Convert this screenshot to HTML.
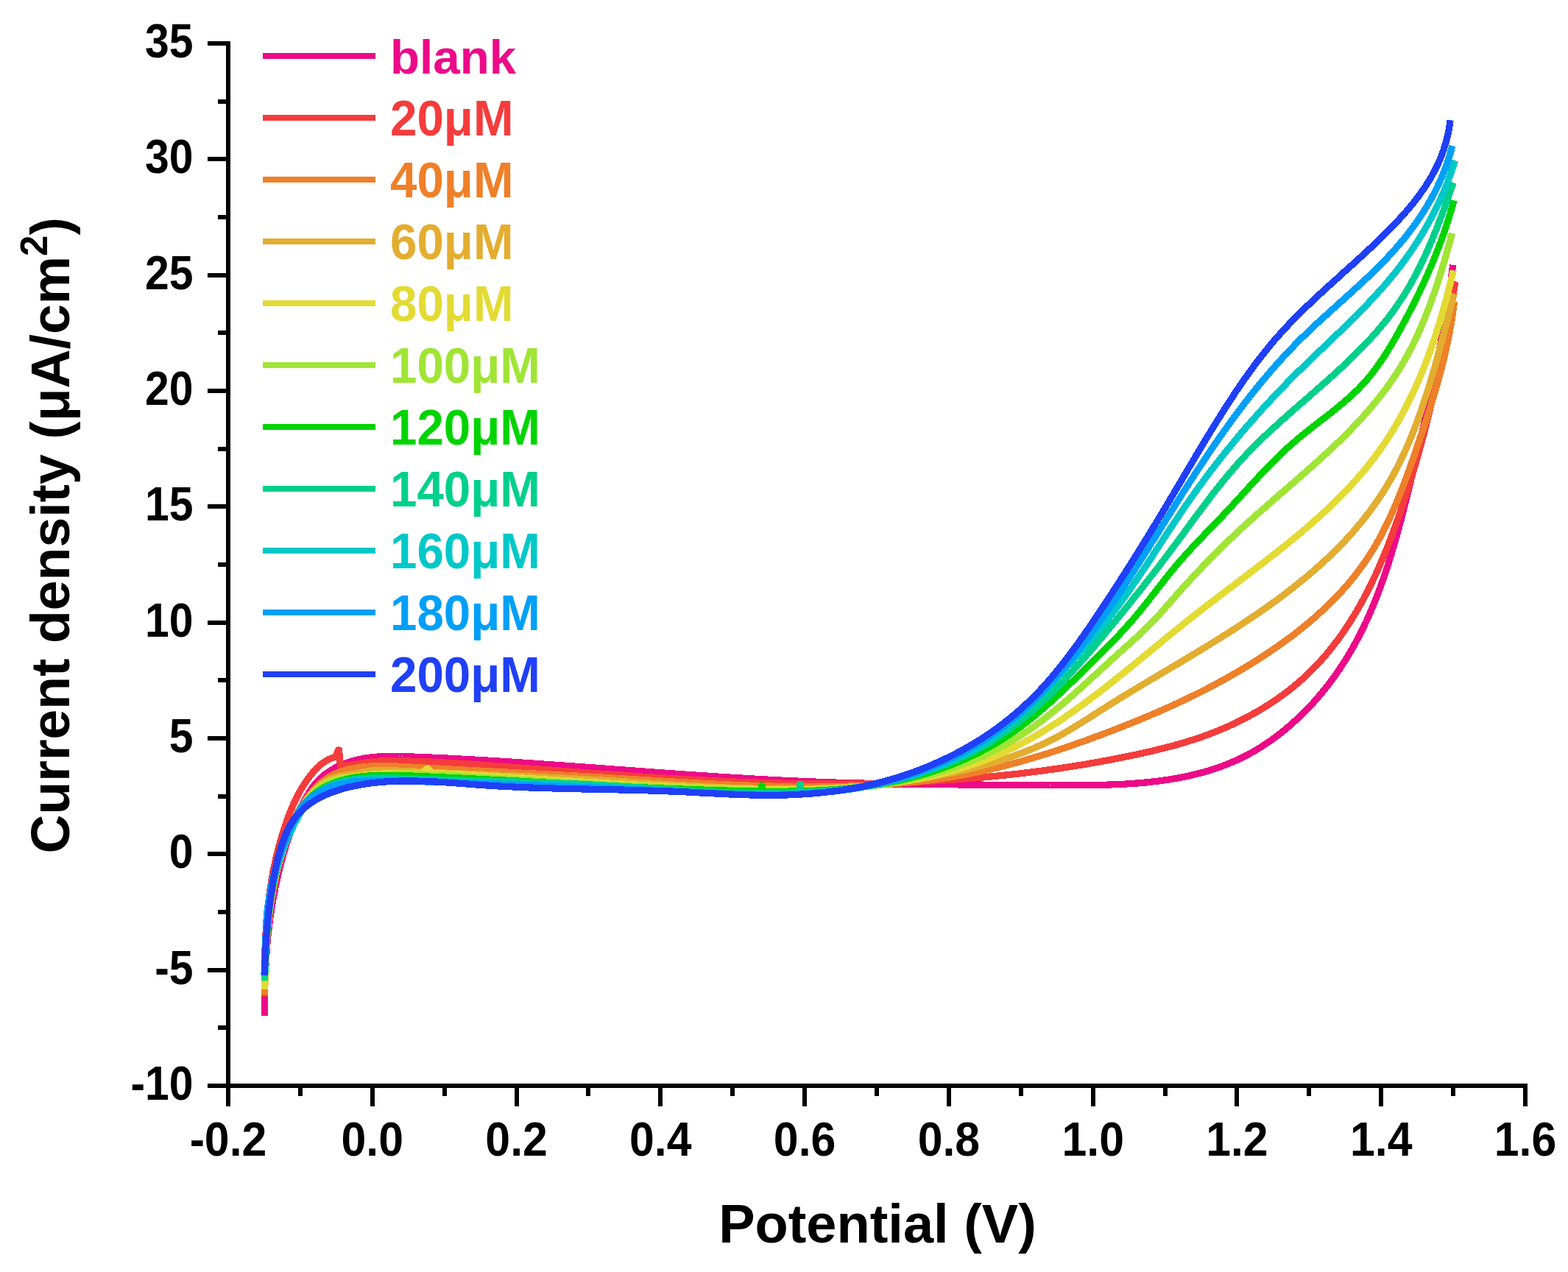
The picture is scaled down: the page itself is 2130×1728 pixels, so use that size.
<!DOCTYPE html><html><head><meta charset="utf-8"><style>html,body{margin:0;padding:0;background:#fff;}svg{display:block}</style></head><body>
<svg xmlns="http://www.w3.org/2000/svg" width="2130" height="1728" viewBox="0 0 2130 1728">
<rect width="2130" height="1728" fill="#fff"/>
<g fill="none" stroke-width="9.2" stroke-linejoin="round" stroke-linecap="butt" shape-rendering="crispEdges">
<path stroke="#EC0A88" d="M359.7,1380.1 L359.7,1378.1 L359.7,1376.1 L359.6,1374.1 L359.6,1372.0 L359.6,1370.0 L359.6,1368.0 L359.6,1366.0 L359.6,1364.0 L359.6,1362.0 L359.6,1359.9 L359.6,1357.9 L359.6,1355.9 L359.6,1353.9 L359.6,1351.9 L359.6,1349.9 L359.7,1347.9 L359.7,1345.9 L359.7,1343.8 L359.8,1341.8 L359.8,1339.8 L359.9,1337.8 L359.9,1335.8 L360.0,1333.8 L360.0,1331.8 L360.1,1329.8 L360.2,1327.8 L360.2,1325.8 L360.3,1323.8 L360.4,1321.8 L360.5,1319.8 L360.6,1317.8 L360.7,1315.8 L360.8,1313.8 L360.9,1311.8 L361.0,1309.8 L361.1,1307.8 L361.2,1305.8 L361.3,1303.8 L361.4,1301.8 L361.6,1299.8 L361.7,1297.8 L361.9,1295.8 L362.0,1293.8 L362.2,1291.8 L362.3,1289.8 L362.5,1287.8 L362.6,1285.8 L362.8,1283.8 L363.0,1281.9 L363.2,1279.9 L363.3,1277.9 L363.5,1275.9 L363.7,1273.9 L363.9,1271.9 L364.1,1269.9 L364.4,1268.0 L364.6,1266.0 L364.8,1264.0 L365.0,1262.0 L365.3,1260.0 L365.5,1258.1 L365.7,1256.1 L366.0,1254.1 L366.2,1252.1 L366.5,1250.1 L366.8,1248.2 L367.0,1246.2 L367.3,1244.2 L367.6,1242.2 L367.9,1240.3 L368.2,1238.3 L368.5,1236.3 L368.8,1234.4 L369.1,1232.4 L369.4,1230.4 L369.8,1228.5 L370.1,1226.5 L370.4,1224.5 L370.8,1222.6 L371.1,1220.6 L371.5,1218.6 L371.8,1216.7 L372.2,1214.7 L372.6,1212.7 L373.0,1210.8 L373.3,1208.8 L373.7,1206.9 L374.1,1204.9 L374.5,1202.9 L374.9,1201.0 L375.4,1199.0 L375.8,1197.1 L376.2,1195.1 L376.7,1193.2 L377.1,1191.2 L377.5,1189.3 L378.0,1187.3 L378.5,1185.4 L378.9,1183.4 L379.4,1181.5 L379.9,1179.5 L380.4,1177.6 L380.9,1175.6 L381.4,1173.7 L381.9,1171.8 L382.4,1169.8 L382.9,1167.9 L383.5,1165.9 L384.0,1164.0 L384.6,1162.1 L385.1,1160.1 L385.7,1158.2 L386.2,1156.3 L386.8,1154.3 L387.4,1152.4 L388.0,1150.5 L388.6,1148.5 L389.2,1146.6 L389.8,1144.7 L390.4,1142.8 L391.1,1140.8 L391.7,1138.9 L392.3,1137.0 L393.0,1135.1 L393.7,1133.2 L394.3,1131.3 L395.0,1129.4 L395.7,1127.5 L396.4,1125.6 L397.1,1123.7 L397.9,1121.9 L398.6,1120.0 L399.3,1118.1 L400.1,1116.2 L400.8,1114.4 L401.6,1112.5 L402.4,1110.7 L403.2,1108.9 L404.0,1107.0 L404.8,1105.2 L405.7,1103.4 L406.5,1101.6 L407.3,1099.8 L408.2,1098.0 L409.1,1096.2 L410.0,1094.4 L410.9,1092.6 L411.8,1090.8 L412.7,1089.1 L413.6,1087.3 L414.6,1085.6 L415.5,1083.9 L416.5,1082.2 L417.5,1080.5 L418.5,1078.8 L419.6,1077.1 L420.6,1075.4 L421.7,1073.8 L422.8,1072.2 L423.9,1070.6 L425.1,1069.0 L426.2,1067.4 L427.4,1065.9 L428.7,1064.4 L429.9,1062.9 L431.2,1061.5 L432.6,1060.0 L433.9,1058.6 L435.3,1057.3 L436.8,1055.9 L438.2,1054.6 L439.7,1053.4 L441.3,1052.1 L442.9,1050.9 L444.5,1049.8 L446.1,1048.6 L447.8,1047.5 L449.5,1046.5 L451.3,1045.4 L453.0,1044.4 L454.8,1043.5 L456.6,1042.5 L458.4,1041.6 L460.3,1040.7 L462.1,1039.9 L464.0,1039.1 L465.9,1038.3 L467.8,1037.6 L469.7,1036.8 L471.6,1036.2 L473.6,1035.5 L475.5,1034.9 L477.4,1034.3 L479.4,1033.7 L481.3,1033.2 L483.3,1032.7 L485.2,1032.2 L487.2,1031.8 L489.1,1031.3 L491.1,1030.9 L493.0,1030.6 L495.0,1030.2 L497.0,1029.9 L498.9,1029.6 L500.9,1029.3 L502.8,1029.1 L504.8,1028.8 L506.8,1028.6 L508.8,1028.4 L510.7,1028.3 L512.7,1028.1 L514.7,1028.0 L516.7,1027.8 L518.6,1027.7 L520.6,1027.6 L522.6,1027.6 L524.6,1027.5 L526.6,1027.5 L528.6,1027.4 L530.5,1027.4 L532.5,1027.4 L534.5,1027.4 L536.5,1027.4 L538.5,1027.4 L540.5,1027.4 L542.5,1027.5 L544.5,1027.5 L546.5,1027.6 L548.5,1027.6 L550.4,1027.7 L552.4,1027.8 L554.4,1027.8 L556.4,1027.9 L558.4,1028.0 L560.4,1028.0 L562.4,1028.1 L564.4,1028.2 L566.4,1028.3 L568.4,1028.4 L570.4,1028.4 L572.4,1028.5 L574.4,1028.6 L576.4,1028.7 L578.4,1028.8 L580.4,1028.8 L582.4,1028.9 L584.4,1029.0 L586.4,1029.1 L588.4,1029.2 L590.4,1029.3 L592.4,1029.4 L594.3,1029.5 L596.3,1029.6 L598.3,1029.7 L600.3,1029.8 L602.3,1029.8 L604.3,1029.9 L606.3,1030.0 L608.3,1030.1 L610.3,1030.2 L612.3,1030.3 L614.3,1030.4 L616.3,1030.5 L618.3,1030.6 L620.3,1030.7 L622.3,1030.9 L624.3,1031.0 L626.3,1031.1 L628.3,1031.2 L630.3,1031.3 L632.3,1031.4 L634.3,1031.5 L636.3,1031.6 L638.3,1031.7 L640.3,1031.8 L642.3,1031.9 L644.3,1032.1 L646.3,1032.2 L648.3,1032.3 L650.3,1032.4 L652.3,1032.5 L654.3,1032.6 L656.3,1032.7 L658.3,1032.9 L660.3,1033.0 L662.3,1033.1 L664.3,1033.2 L666.3,1033.3 L668.3,1033.5 L670.3,1033.6 L672.3,1033.7 L674.3,1033.8 L676.3,1034.0 L678.3,1034.1 L680.3,1034.2 L682.3,1034.3 L684.3,1034.5 L686.3,1034.6 L688.3,1034.7 L690.3,1034.8 L692.3,1035.0 L694.3,1035.1 L696.3,1035.2 L698.3,1035.4 L700.3,1035.5 L702.3,1035.6 L704.3,1035.8 L706.3,1035.9 L708.3,1036.0 L710.3,1036.2 L712.3,1036.3 L714.3,1036.4 L716.3,1036.6 L718.3,1036.7 L720.3,1036.8 L722.3,1037.0 L724.3,1037.1 L726.3,1037.2 L728.3,1037.4 L730.3,1037.5 L732.3,1037.7 L734.3,1037.8 L736.3,1037.9 L738.3,1038.1 L740.3,1038.2 L742.3,1038.4 L744.3,1038.5 L746.3,1038.6 L748.3,1038.8 L750.3,1038.9 L752.3,1039.1 L754.3,1039.2 L756.3,1039.3 L758.3,1039.5 L760.3,1039.6 L762.3,1039.8 L764.3,1039.9 L766.3,1040.1 L768.3,1040.2 L770.3,1040.3 L772.3,1040.5 L774.3,1040.6 L776.3,1040.8 L778.3,1040.9 L780.3,1041.1 L782.3,1041.2 L784.3,1041.4 L786.3,1041.5 L788.3,1041.7 L790.4,1041.8 L792.4,1042.0 L794.4,1042.1 L796.4,1042.2 L798.4,1042.4 L800.4,1042.5 L802.4,1042.7 L804.4,1042.8 L806.4,1043.0 L808.4,1043.1 L810.4,1043.3 L812.4,1043.4 L814.4,1043.6 L816.4,1043.7 L818.4,1043.9 L820.4,1044.0 L822.4,1044.2 L824.4,1044.3 L826.4,1044.5 L828.4,1044.6 L830.4,1044.8 L832.4,1044.9 L834.4,1045.1 L836.4,1045.2 L838.4,1045.4 L840.4,1045.5 L842.4,1045.7 L844.4,1045.8 L846.4,1046.0 L848.4,1046.1 L850.4,1046.3 L852.4,1046.4 L854.4,1046.6 L856.4,1046.7 L858.4,1046.8 L860.4,1047.0 L862.4,1047.1 L864.4,1047.3 L866.4,1047.4 L868.4,1047.6 L870.4,1047.7 L872.4,1047.9 L874.4,1048.0 L876.4,1048.2 L878.4,1048.3 L880.4,1048.5 L882.4,1048.6 L884.4,1048.8 L886.4,1048.9 L888.4,1049.1 L890.4,1049.2 L892.4,1049.3 L894.4,1049.5 L896.4,1049.6 L898.4,1049.8 L900.4,1049.9 L902.4,1050.1 L904.4,1050.2 L906.4,1050.4 L908.4,1050.5 L910.4,1050.6 L912.4,1050.8 L914.4,1050.9 L916.4,1051.1 L918.4,1051.2 L920.4,1051.4 L922.4,1051.5 L924.4,1051.6 L926.4,1051.8 L928.4,1051.9 L930.4,1052.1 L932.4,1052.2 L934.4,1052.3 L936.4,1052.5 L938.4,1052.6 L940.4,1052.8 L942.4,1052.9 L944.4,1053.0 L946.4,1053.2 L948.4,1053.3 L950.4,1053.4 L952.4,1053.6 L954.4,1053.7 L956.4,1053.8 L958.4,1054.0 L960.4,1054.1 L962.4,1054.2 L964.4,1054.4 L966.4,1054.5 L968.4,1054.6 L970.4,1054.8 L972.4,1054.9 L974.4,1055.0 L976.4,1055.2 L978.4,1055.3 L980.4,1055.4 L982.4,1055.5 L984.4,1055.7 L986.4,1055.8 L988.4,1055.9 L990.4,1056.0 L992.4,1056.2 L994.4,1056.3 L996.4,1056.4 L998.4,1056.5 L1000.4,1056.7 L1002.4,1056.8 L1004.3,1056.9 L1006.3,1057.0 L1008.3,1057.1 L1010.3,1057.3 L1012.3,1057.4 L1014.3,1057.5 L1016.3,1057.6 L1018.3,1057.7 L1020.3,1057.8 L1022.3,1058.0 L1024.3,1058.1 L1026.3,1058.2 L1028.3,1058.3 L1030.3,1058.4 L1032.3,1058.5 L1034.3,1058.6 L1036.3,1058.7 L1038.3,1058.9 L1040.3,1059.0 L1042.3,1059.1 L1044.3,1059.2 L1046.2,1059.3 L1048.2,1059.4 L1050.2,1059.5 L1052.2,1059.6 L1054.2,1059.7 L1056.2,1059.8 L1058.2,1059.9 L1060.2,1060.0 L1062.2,1060.1 L1064.2,1060.2 L1066.2,1060.3 L1068.2,1060.4 L1070.2,1060.5 L1072.2,1060.6 L1074.2,1060.7 L1076.1,1060.8 L1078.1,1060.8 L1080.1,1060.9 L1082.1,1061.0 L1084.1,1061.1 L1086.1,1061.2 L1088.1,1061.3 L1090.1,1061.4 L1092.1,1061.5 L1094.1,1061.5 L1096.1,1061.6 L1098.1,1061.7 L1100.0,1061.8 L1102.0,1061.9 L1104.0,1061.9 L1106.0,1062.0 L1108.0,1062.1 L1110.0,1062.2 L1112.0,1062.2 L1114.0,1062.3 L1116.0,1062.4 L1118.0,1062.5 L1119.9,1062.5 L1121.9,1062.6 L1123.9,1062.7 L1125.9,1062.7 L1127.9,1062.8 L1129.9,1062.9 L1131.9,1062.9 L1133.9,1063.0 L1135.9,1063.1 L1137.8,1063.1 L1139.8,1063.2 L1141.8,1063.2 L1143.8,1063.3 L1145.8,1063.4 L1147.8,1063.4 L1149.8,1063.5 L1151.8,1063.5 L1153.7,1063.6 L1155.7,1063.6 L1157.7,1063.7 L1159.7,1063.7 L1161.7,1063.8 L1163.7,1063.8 L1165.7,1063.9 L1167.7,1063.9 L1169.7,1064.0 L1171.6,1064.0 L1173.6,1064.1 L1175.6,1064.1 L1177.6,1064.2 L1179.6,1064.2 L1181.6,1064.3 L1183.6,1064.3 L1185.6,1064.3 L1187.6,1064.4 L1189.5,1064.4 L1191.5,1064.5 L1193.5,1064.5 L1195.5,1064.5 L1197.5,1064.6 L1199.5,1064.6 L1201.5,1064.7 L1203.5,1064.7 L1205.5,1064.7 L1207.5,1064.8 L1209.4,1064.8 L1211.4,1064.8 L1213.4,1064.9 L1215.4,1064.9 L1217.4,1064.9 L1219.4,1065.0 L1221.4,1065.0 L1223.4,1065.0 L1225.4,1065.1 L1227.4,1065.1 L1229.4,1065.1 L1231.4,1065.1 L1233.3,1065.2 L1235.3,1065.2 L1237.3,1065.2 L1239.3,1065.3 L1241.3,1065.3 L1243.3,1065.3 L1245.3,1065.3 L1247.3,1065.4 L1249.3,1065.4 L1251.3,1065.4 L1253.3,1065.4 L1255.3,1065.4 L1257.3,1065.5 L1259.3,1065.5 L1261.3,1065.5 L1263.3,1065.5 L1265.3,1065.5 L1267.3,1065.6 L1269.3,1065.6 L1271.3,1065.6 L1273.3,1065.6 L1275.3,1065.6 L1277.3,1065.7 L1279.3,1065.7 L1281.3,1065.7 L1283.3,1065.7 L1285.3,1065.7 L1287.3,1065.7 L1289.3,1065.8 L1291.3,1065.8 L1293.3,1065.8 L1295.3,1065.8 L1297.3,1065.8 L1299.3,1065.8 L1301.3,1065.9 L1303.3,1065.9 L1305.3,1065.9 L1307.3,1065.9 L1309.3,1065.9 L1311.3,1065.9 L1313.3,1065.9 L1315.3,1065.9 L1317.3,1066.0 L1319.3,1066.0 L1321.3,1066.0 L1323.3,1066.0 L1325.3,1066.0 L1327.3,1066.0 L1329.4,1066.0 L1331.4,1066.0 L1333.4,1066.1 L1335.4,1066.1 L1337.4,1066.1 L1339.4,1066.1 L1341.4,1066.1 L1343.4,1066.1 L1345.5,1066.1 L1347.5,1066.1 L1349.5,1066.1 L1351.5,1066.2 L1353.5,1066.2 L1355.5,1066.2 L1357.5,1066.2 L1359.6,1066.2 L1361.6,1066.2 L1363.6,1066.2 L1365.6,1066.2 L1367.6,1066.2 L1369.7,1066.2 L1371.7,1066.3 L1373.7,1066.3 L1375.7,1066.3 L1377.7,1066.3 L1379.8,1066.3 L1381.8,1066.3 L1383.8,1066.3 L1385.8,1066.3 L1387.9,1066.3 L1389.9,1066.3 L1391.9,1066.4 L1393.9,1066.4 L1396.0,1066.4 L1398.0,1066.4 L1400.0,1066.4 L1402.1,1066.4 L1404.1,1066.4 L1406.1,1066.4 L1408.2,1066.4 L1410.2,1066.5 L1412.2,1066.5 L1414.3,1066.5 L1416.3,1066.5 L1418.3,1066.5 L1420.4,1066.5 L1422.4,1066.5 L1424.4,1066.5 L1426.5,1066.6 L1428.5,1066.6 L1430.6,1066.6 L1432.6,1066.6 L1434.6,1066.6 L1436.7,1066.6 L1438.7,1066.6 L1440.8,1066.6 L1442.8,1066.7 L1444.8,1066.7 L1446.9,1066.7 L1448.9,1066.7 L1451.0,1066.7 L1453.0,1066.7 L1455.1,1066.7 L1457.1,1066.7 L1459.1,1066.7 L1461.2,1066.7 L1463.2,1066.7 L1465.3,1066.7 L1467.3,1066.7 L1469.4,1066.7 L1471.4,1066.7 L1473.4,1066.6 L1475.5,1066.6 L1477.5,1066.6 L1479.6,1066.6 L1481.6,1066.6 L1483.6,1066.5 L1485.7,1066.5 L1487.7,1066.5 L1489.8,1066.4 L1491.8,1066.4 L1493.8,1066.4 L1495.9,1066.3 L1497.9,1066.3 L1499.9,1066.2 L1502.0,1066.2 L1504.0,1066.1 L1506.0,1066.0 L1508.1,1066.0 L1510.1,1065.9 L1512.1,1065.8 L1514.1,1065.7 L1516.2,1065.7 L1518.2,1065.6 L1520.2,1065.5 L1522.2,1065.4 L1524.3,1065.3 L1526.3,1065.2 L1528.3,1065.1 L1530.3,1065.0 L1532.3,1064.8 L1534.3,1064.7 L1536.4,1064.6 L1538.4,1064.4 L1540.4,1064.3 L1542.4,1064.1 L1544.4,1064.0 L1546.4,1063.8 L1548.4,1063.7 L1550.4,1063.5 L1552.4,1063.3 L1554.4,1063.1 L1556.4,1063.0 L1558.4,1062.8 L1560.4,1062.6 L1562.3,1062.4 L1564.3,1062.1 L1566.3,1061.9 L1568.3,1061.7 L1570.3,1061.5 L1572.2,1061.2 L1574.2,1061.0 L1576.2,1060.7 L1578.2,1060.4 L1580.1,1060.2 L1582.1,1059.9 L1584.0,1059.6 L1586.0,1059.3 L1588.0,1059.0 L1589.9,1058.7 L1591.9,1058.4 L1593.8,1058.1 L1595.8,1057.7 L1597.7,1057.4 L1599.6,1057.0 L1601.6,1056.7 L1603.5,1056.3 L1605.4,1055.9 L1607.4,1055.6 L1609.3,1055.2 L1611.2,1054.8 L1613.1,1054.4 L1615.0,1053.9 L1616.9,1053.5 L1618.8,1053.1 L1620.8,1052.6 L1622.7,1052.2 L1624.6,1051.7 L1626.4,1051.2 L1628.3,1050.7 L1630.2,1050.2 L1632.1,1049.7 L1634.0,1049.2 L1635.9,1048.7 L1637.7,1048.2 L1639.6,1047.6 L1641.5,1047.1 L1643.3,1046.5 L1645.2,1045.9 L1647.0,1045.3 L1648.9,1044.7 L1650.7,1044.1 L1652.6,1043.5 L1654.4,1042.9 L1656.2,1042.2 L1658.1,1041.6 L1659.9,1040.9 L1661.7,1040.2 L1663.5,1039.5 L1665.3,1038.8 L1667.1,1038.1 L1668.9,1037.4 L1670.7,1036.6 L1672.5,1035.9 L1674.3,1035.1 L1676.1,1034.4 L1677.9,1033.6 L1679.6,1032.8 L1681.4,1032.0 L1683.2,1031.1 L1684.9,1030.3 L1686.7,1029.5 L1688.4,1028.6 L1690.2,1027.7 L1691.9,1026.8 L1693.7,1025.9 L1695.4,1025.0 L1697.1,1024.1 L1698.8,1023.1 L1700.6,1022.2 L1702.3,1021.2 L1704.0,1020.2 L1705.7,1019.3 L1707.4,1018.2 L1709.1,1017.2 L1710.7,1016.2 L1712.4,1015.2 L1714.1,1014.1 L1715.7,1013.0 L1717.4,1012.0 L1719.1,1010.9 L1720.7,1009.8 L1722.4,1008.7 L1724.0,1007.5 L1725.6,1006.4 L1727.2,1005.3 L1728.9,1004.1 L1730.5,1002.9 L1732.1,1001.7 L1733.7,1000.6 L1735.3,999.3 L1736.9,998.1 L1738.5,996.9 L1740.0,995.7 L1741.6,994.4 L1743.2,993.2 L1744.7,991.9 L1746.3,990.6 L1747.8,989.4 L1749.4,988.1 L1750.9,986.8 L1752.4,985.4 L1753.9,984.1 L1755.4,982.8 L1756.9,981.4 L1758.4,980.1 L1759.9,978.7 L1761.4,977.4 L1762.9,976.0 L1764.4,974.6 L1765.8,973.2 L1767.3,971.8 L1768.7,970.4 L1770.2,969.0 L1771.6,967.5 L1773.0,966.1 L1774.5,964.6 L1775.9,963.2 L1777.3,961.7 L1778.7,960.3 L1780.1,958.8 L1781.4,957.3 L1782.8,955.8 L1784.2,954.3 L1785.5,952.8 L1786.9,951.3 L1788.2,949.8 L1789.6,948.2 L1790.9,946.7 L1792.2,945.2 L1793.5,943.6 L1794.8,942.1 L1796.1,940.5 L1797.4,938.9 L1798.7,937.3 L1800.0,935.8 L1801.2,934.2 L1802.5,932.6 L1803.7,931.0 L1805.0,929.4 L1806.2,927.8 L1807.4,926.2 L1808.6,924.5 L1809.8,922.9 L1811.0,921.3 L1812.2,919.6 L1813.4,918.0 L1814.6,916.4 L1815.7,914.7 L1816.9,913.0 L1818.0,911.4 L1819.2,909.7 L1820.3,908.1 L1821.4,906.4 L1822.5,904.7 L1823.6,903.0 L1824.7,901.3 L1825.8,899.6 L1826.9,897.9 L1827.9,896.2 L1829.0,894.5 L1830.0,892.8 L1831.1,891.1 L1832.1,889.4 L1833.1,887.7 L1834.1,886.0 L1835.2,884.2 L1836.1,882.5 L1837.1,880.8 L1838.1,879.0 L1839.1,877.3 L1840.1,875.5 L1841.0,873.8 L1842.0,872.0 L1842.9,870.3 L1843.9,868.5 L1844.8,866.7 L1845.7,865.0 L1846.6,863.2 L1847.5,861.4 L1848.4,859.6 L1849.3,857.9 L1850.2,856.1 L1851.1,854.3 L1852.0,852.5 L1852.8,850.7 L1853.7,848.9 L1854.5,847.1 L1855.4,845.3 L1856.2,843.5 L1857.1,841.7 L1857.9,839.8 L1858.7,838.0 L1859.5,836.2 L1860.3,834.4 L1861.1,832.5 L1861.9,830.7 L1862.7,828.9 L1863.5,827.0 L1864.3,825.2 L1865.0,823.4 L1865.8,821.5 L1866.5,819.7 L1867.3,817.8 L1868.0,816.0 L1868.8,814.1 L1869.5,812.3 L1870.2,810.4 L1871.0,808.5 L1871.7,806.7 L1872.4,804.8 L1873.1,802.9 L1873.8,801.1 L1874.5,799.2 L1875.2,797.3 L1875.9,795.4 L1876.6,793.5 L1877.2,791.7 L1877.9,789.8 L1878.6,787.9 L1879.2,786.0 L1879.9,784.1 L1880.5,782.2 L1881.2,780.3 L1881.8,778.4 L1882.5,776.5 L1883.1,774.6 L1883.7,772.7 L1884.3,770.8 L1885.0,768.9 L1885.6,767.0 L1886.2,765.1 L1886.8,763.1 L1887.4,761.2 L1888.0,759.3 L1888.6,757.4 L1889.2,755.5 L1889.8,753.5 L1890.4,751.6 L1890.9,749.7 L1891.5,747.8 L1892.1,745.8 L1892.7,743.9 L1893.2,742.0 L1893.8,740.0 L1894.3,738.1 L1894.9,736.2 L1895.4,734.2 L1896.0,732.3 L1896.5,730.4 L1897.1,728.4 L1897.6,726.5 L1898.2,724.5 L1898.7,722.6 L1899.2,720.7 L1899.8,718.7 L1900.3,716.8 L1900.8,714.8 L1901.3,712.9 L1901.8,710.9 L1902.4,709.0 L1902.9,707.0 L1903.4,705.1 L1903.9,703.1 L1904.4,701.2 L1904.9,699.2 L1905.4,697.3 L1905.9,695.3 L1906.4,693.4 L1906.9,691.4 L1907.4,689.5 L1907.9,687.5 L1908.4,685.6 L1908.9,683.6 L1909.4,681.7 L1909.8,679.7 L1910.3,677.7 L1910.8,675.8 L1911.3,673.8 L1911.8,671.9 L1912.3,669.9 L1912.7,668.0 L1913.2,666.0 L1913.7,664.0 L1914.2,662.1 L1914.6,660.1 L1915.1,658.2 L1915.6,656.2 L1916.1,654.3 L1916.5,652.3 L1917.0,650.4 L1917.5,648.4 L1917.9,646.4 L1918.4,644.5 L1918.9,642.5 L1919.3,640.6 L1919.8,638.6 L1920.3,636.7 L1920.7,634.7 L1921.2,632.8 L1921.7,630.8 L1922.1,628.9 L1922.6,626.9 L1923.1,625.0 L1923.5,623.0 L1924.0,621.1 L1924.4,619.1 L1924.9,617.2 L1925.3,615.2 L1925.8,613.3 L1926.3,611.3 L1926.7,609.4 L1927.2,607.4 L1927.6,605.5 L1928.1,603.5 L1928.5,601.6 L1929.0,599.6 L1929.4,597.7 L1929.9,595.7 L1930.3,593.8 L1930.8,591.8 L1931.2,589.9 L1931.7,587.9 L1932.1,586.0 L1932.6,584.0 L1933.0,582.1 L1933.4,580.1 L1933.9,578.2 L1934.3,576.2 L1934.8,574.3 L1935.2,572.3 L1935.6,570.4 L1936.1,568.4 L1936.5,566.5 L1936.9,564.5 L1937.4,562.6 L1937.8,560.6 L1938.2,558.7 L1938.7,556.7 L1939.1,554.8 L1939.5,552.8 L1939.9,550.9 L1940.4,548.9 L1940.8,547.0 L1941.2,545.0 L1941.6,543.1 L1942.1,541.1 L1942.5,539.2 L1942.9,537.2 L1943.3,535.3 L1943.7,533.3 L1944.1,531.4 L1944.5,529.4 L1945.0,527.5 L1945.4,525.5 L1945.8,523.5 L1946.2,521.6 L1946.6,519.6 L1947.0,517.7 L1947.4,515.7 L1947.8,513.8 L1948.2,511.8 L1948.6,509.9 L1949.0,507.9 L1949.4,506.0 L1949.8,504.0 L1950.2,502.1 L1950.6,500.1 L1950.9,498.1 L1951.3,496.2 L1951.7,494.2 L1952.1,492.3 L1952.5,490.3 L1952.9,488.4 L1953.2,486.4 L1953.6,484.4 L1954.0,482.5 L1954.4,480.5 L1954.7,478.6 L1955.1,476.6 L1955.5,474.6 L1955.9,472.7 L1956.2,470.7 L1956.6,468.8 L1957.0,466.8 L1957.3,464.8 L1957.7,462.9 L1958.0,460.9 L1958.4,458.9 L1958.7,457.0 L1959.1,455.0 L1959.4,453.0 L1959.8,451.1 L1960.1,449.1 L1960.5,447.1 L1960.8,445.2 L1961.2,443.2 L1961.5,441.2 L1961.9,439.3 L1962.2,437.3 L1962.5,435.3 L1962.9,433.4 L1963.2,431.4 L1963.5,429.4 L1963.8,427.4 L1964.2,425.5 L1964.5,423.5 L1964.8,421.5 L1965.1,419.5 L1965.4,417.6 L1965.8,415.6 L1966.1,413.6 L1966.4,411.6 L1966.7,409.7 L1967.0,407.7 L1967.3,405.7 L1967.6,403.7 L1967.9,401.7 L1968.2,399.8 L1968.5,397.8 L1968.8,395.8 L1969.1,393.8 L1969.4,391.8 L1969.7,389.8 L1969.9,387.8 L1970.2,385.9 L1970.5,383.9 L1970.8,381.9 L1971.1,379.9 L1971.3,377.9 L1971.6,375.9 L1971.9,373.9 L1972.1,371.9 L1972.4,369.9 L1972.7,367.9 L1972.9,365.9 L1973.2,363.9 L1973.4,361.9 L1973.7,359.9"/>
<path stroke="#F53C3C" d="M359.7,1354.2 L359.7,1352.1 L359.6,1350.1 L359.6,1348.1 L359.6,1346.0 L359.6,1344.0 L359.5,1342.0 L359.5,1340.0 L359.5,1337.9 L359.5,1335.9 L359.5,1333.9 L359.5,1331.8 L359.5,1329.8 L359.5,1327.8 L359.5,1325.8 L359.5,1323.7 L359.5,1321.7 L359.5,1319.7 L359.5,1317.7 L359.5,1315.7 L359.5,1313.6 L359.5,1311.6 L359.6,1309.6 L359.6,1307.6 L359.6,1305.6 L359.7,1303.5 L359.7,1301.5 L359.7,1299.5 L359.8,1297.5 L359.9,1295.5 L359.9,1293.5 L360.0,1291.4 L360.0,1289.4 L360.1,1287.4 L360.2,1285.4 L360.3,1283.4 L360.3,1281.4 L360.4,1279.4 L360.5,1277.4 L360.6,1275.4 L360.7,1273.4 L360.8,1271.4 L360.9,1269.3 L361.0,1267.3 L361.2,1265.3 L361.3,1263.3 L361.4,1261.3 L361.6,1259.3 L361.7,1257.3 L361.8,1255.3 L362.0,1253.3 L362.1,1251.3 L362.3,1249.3 L362.5,1247.3 L362.7,1245.3 L362.8,1243.3 L363.0,1241.4 L363.2,1239.4 L363.4,1237.4 L363.6,1235.4 L363.8,1233.4 L364.0,1231.4 L364.2,1229.4 L364.5,1227.4 L364.7,1225.4 L364.9,1223.4 L365.2,1221.5 L365.4,1219.5 L365.7,1217.5 L365.9,1215.5 L366.2,1213.5 L366.5,1211.5 L366.8,1209.6 L367.1,1207.6 L367.4,1205.6 L367.7,1203.6 L368.0,1201.7 L368.3,1199.7 L368.6,1197.7 L368.9,1195.7 L369.3,1193.8 L369.6,1191.8 L370.0,1189.8 L370.3,1187.9 L370.7,1185.9 L371.1,1183.9 L371.5,1182.0 L371.9,1180.0 L372.2,1178.0 L372.7,1176.1 L373.1,1174.1 L373.5,1172.1 L373.9,1170.2 L374.4,1168.2 L374.8,1166.3 L375.2,1164.3 L375.7,1162.4 L376.2,1160.4 L376.7,1158.4 L377.1,1156.5 L377.6,1154.5 L378.1,1152.6 L378.6,1150.6 L379.2,1148.7 L379.7,1146.7 L380.2,1144.8 L380.8,1142.9 L381.3,1140.9 L381.9,1139.0 L382.5,1137.0 L383.0,1135.1 L383.6,1133.2 L384.2,1131.2 L384.8,1129.3 L385.4,1127.3 L386.1,1125.4 L386.7,1123.5 L387.3,1121.6 L388.0,1119.6 L388.7,1117.7 L389.3,1115.8 L390.0,1113.9 L390.7,1111.9 L391.4,1110.0 L392.2,1108.1 L392.9,1106.2 L393.6,1104.3 L394.4,1102.4 L395.2,1100.6 L395.9,1098.7 L396.7,1096.8 L397.5,1095.0 L398.4,1093.1 L399.2,1091.3 L400.1,1089.4 L400.9,1087.6 L401.8,1085.8 L402.7,1084.0 L403.6,1082.2 L404.5,1080.4 L405.5,1078.6 L406.4,1076.8 L407.4,1075.1 L408.4,1073.3 L409.4,1071.6 L410.4,1069.9 L411.5,1068.2 L412.5,1066.5 L413.6,1064.8 L414.7,1063.2 L415.8,1061.5 L416.9,1059.9 L418.1,1058.3 L419.3,1056.7 L420.5,1055.1 L421.7,1053.5 L422.9,1052.0 L424.2,1050.4 L425.4,1048.9 L426.7,1047.4 L428.0,1046.0 L429.4,1044.6 L430.8,1043.2 L432.2,1041.8 L433.6,1040.5 L435.1,1039.2 L436.6,1037.9 L438.2,1036.7 L439.8,1035.6 L441.4,1034.5 L443.1,1033.4 L444.9,1032.5 L446.7,1031.5 L448.5,1030.7 L450.4,1029.9 L452.3,1029.2 L454.3,1028.5 L456.4,1027.9 L459.5,1019 L460.5,1019 L462.4,1039.7 L464.3,1039.8 L466.2,1039.9 L468.1,1039.9 L470.0,1039.8 L471.9,1039.7 L473.8,1039.6 L475.8,1039.4 L477.7,1039.1 L479.6,1038.8 L481.6,1038.5 L483.6,1038.2 L485.5,1037.9 L487.5,1037.5 L489.4,1037.2 L491.4,1036.8 L493.4,1036.5 L495.4,1036.1 L497.4,1035.8 L499.3,1035.5 L501.3,1035.3 L503.3,1035.0 L505.3,1034.8 L507.3,1034.6 L509.3,1034.4 L511.3,1034.3 L513.3,1034.2 L515.3,1034.1 L517.3,1034.0 L519.3,1033.9 L521.3,1033.9 L523.3,1033.8 L525.3,1033.8 L527.3,1033.8 L529.3,1033.8 L531.3,1033.8 L533.3,1033.8 L535.3,1033.8 L537.3,1033.8 L539.3,1033.8 L541.3,1033.8 L543.3,1033.9 L545.3,1033.9 L547.3,1033.9 L549.3,1034.0 L551.3,1034.0 L553.3,1034.0 L555.3,1034.1 L557.3,1034.1 L559.3,1034.2 L561.3,1034.2 L563.3,1034.3 L565.3,1034.4 L567.3,1034.4 L569.3,1034.5 L571.3,1034.6 L573.3,1034.6 L575.3,1034.7 L577.3,1034.8 L579.3,1034.8 L581.3,1034.9 L583.3,1035.0 L585.3,1035.1 L587.3,1035.2 L589.3,1035.3 L591.3,1035.4 L593.3,1035.5 L595.3,1035.5 L597.3,1035.6 L599.3,1035.7 L601.3,1035.8 L603.3,1035.9 L605.3,1036.1 L607.3,1036.2 L609.3,1036.3 L611.3,1036.4 L613.3,1036.5 L615.3,1036.6 L617.3,1036.7 L619.3,1036.8 L621.3,1037.0 L623.3,1037.1 L625.3,1037.2 L627.3,1037.3 L629.3,1037.4 L631.3,1037.6 L633.3,1037.7 L635.3,1037.8 L637.3,1038.0 L639.3,1038.1 L641.3,1038.2 L643.3,1038.4 L645.3,1038.5 L647.3,1038.6 L649.3,1038.8 L651.3,1038.9 L653.2,1039.0 L655.2,1039.2 L657.2,1039.3 L659.2,1039.5 L661.2,1039.6 L663.2,1039.8 L665.2,1039.9 L667.2,1040.0 L669.2,1040.2 L671.2,1040.3 L673.2,1040.5 L675.2,1040.6 L677.2,1040.8 L679.2,1040.9 L681.2,1041.1 L683.2,1041.2 L685.2,1041.4 L687.2,1041.5 L689.2,1041.7 L691.2,1041.8 L693.2,1042.0 L695.2,1042.1 L697.2,1042.3 L699.2,1042.4 L701.2,1042.6 L703.2,1042.7 L705.2,1042.9 L707.2,1043.0 L709.2,1043.2 L711.2,1043.3 L713.1,1043.5 L715.1,1043.6 L717.1,1043.8 L719.1,1043.9 L721.1,1044.1 L723.1,1044.2 L725.1,1044.4 L727.1,1044.5 L729.1,1044.7 L731.1,1044.8 L733.1,1045.0 L735.1,1045.1 L737.1,1045.3 L739.1,1045.4 L741.1,1045.6 L743.1,1045.7 L745.1,1045.9 L747.1,1046.0 L749.1,1046.2 L751.1,1046.3 L753.1,1046.5 L755.1,1046.6 L757.1,1046.8 L759.1,1046.9 L761.1,1047.1 L763.1,1047.2 L765.1,1047.4 L767.1,1047.5 L769.1,1047.7 L771.1,1047.8 L773.1,1048.0 L775.1,1048.1 L777.0,1048.3 L779.0,1048.4 L781.0,1048.6 L783.0,1048.7 L785.0,1048.9 L787.0,1049.0 L789.0,1049.2 L791.0,1049.3 L793.0,1049.5 L795.0,1049.6 L797.0,1049.8 L799.0,1049.9 L801.0,1050.0 L803.0,1050.2 L805.0,1050.3 L807.0,1050.5 L809.0,1050.6 L811.0,1050.8 L813.0,1050.9 L815.0,1051.1 L817.0,1051.2 L819.0,1051.3 L821.0,1051.5 L823.0,1051.6 L825.0,1051.8 L827.0,1051.9 L829.0,1052.1 L831.0,1052.2 L833.0,1052.3 L835.0,1052.5 L837.0,1052.6 L839.0,1052.8 L841.0,1052.9 L843.0,1053.0 L845.0,1053.2 L847.0,1053.3 L849.0,1053.5 L851.0,1053.6 L853.0,1053.7 L854.9,1053.9 L856.9,1054.0 L858.9,1054.1 L860.9,1054.3 L862.9,1054.4 L864.9,1054.5 L866.9,1054.7 L868.9,1054.8 L870.9,1054.9 L872.9,1055.1 L874.9,1055.2 L876.9,1055.3 L878.9,1055.5 L880.9,1055.6 L882.9,1055.7 L884.9,1055.9 L886.9,1056.0 L888.9,1056.1 L890.9,1056.2 L892.9,1056.4 L894.9,1056.5 L896.9,1056.6 L898.9,1056.7 L900.9,1056.9 L902.9,1057.0 L904.9,1057.1 L906.9,1057.2 L908.9,1057.3 L910.9,1057.5 L912.9,1057.6 L914.9,1057.7 L916.9,1057.8 L918.9,1057.9 L920.9,1058.1 L922.9,1058.2 L924.9,1058.3 L926.9,1058.4 L928.9,1058.5 L930.9,1058.6 L932.9,1058.7 L934.9,1058.9 L936.9,1059.0 L938.9,1059.1 L940.9,1059.2 L942.9,1059.3 L944.9,1059.4 L946.9,1059.5 L948.9,1059.6 L950.9,1059.7 L952.9,1059.8 L954.9,1059.9 L956.9,1060.0 L958.9,1060.1 L960.9,1060.2 L962.9,1060.3 L964.9,1060.4 L966.9,1060.5 L968.9,1060.6 L970.9,1060.7 L972.9,1060.8 L974.9,1060.9 L976.9,1061.0 L978.9,1061.1 L980.9,1061.2 L982.9,1061.3 L984.9,1061.4 L986.9,1061.5 L988.9,1061.5 L990.9,1061.6 L992.9,1061.7 L994.9,1061.8 L996.9,1061.9 L998.9,1062.0 L1000.9,1062.1 L1002.9,1062.1 L1004.9,1062.2 L1006.9,1062.3 L1008.9,1062.4 L1010.9,1062.4 L1012.9,1062.5 L1014.9,1062.6 L1016.9,1062.7 L1018.9,1062.7 L1020.9,1062.8 L1022.9,1062.9 L1024.9,1063.0 L1026.9,1063.0 L1028.9,1063.1 L1030.9,1063.2 L1032.9,1063.2 L1034.9,1063.3 L1036.9,1063.3 L1038.9,1063.4 L1040.9,1063.5 L1042.9,1063.5 L1044.9,1063.6 L1046.9,1063.6 L1048.9,1063.7 L1050.9,1063.8 L1052.9,1063.8 L1054.9,1063.9 L1056.9,1063.9 L1058.9,1064.0 L1060.9,1064.0 L1062.9,1064.1 L1064.9,1064.1 L1066.9,1064.1 L1068.9,1064.2 L1070.9,1064.2 L1072.9,1064.3 L1074.9,1064.3 L1076.9,1064.3 L1078.9,1064.4 L1080.9,1064.4 L1082.9,1064.4 L1084.9,1064.5 L1086.9,1064.5 L1088.9,1064.5 L1090.9,1064.6 L1092.9,1064.6 L1094.9,1064.6 L1096.9,1064.6 L1098.9,1064.7 L1100.9,1064.7 L1102.9,1064.7 L1104.9,1064.7 L1106.9,1064.7 L1108.9,1064.8 L1110.9,1064.8 L1112.9,1064.8 L1114.9,1064.8 L1116.9,1064.8 L1118.9,1064.8 L1120.9,1064.8 L1122.9,1064.8 L1124.9,1064.8 L1127.0,1064.8 L1129.0,1064.8 L1131.0,1064.8 L1133.0,1064.8 L1135.0,1064.8 L1137.0,1064.8 L1139.0,1064.8 L1141.0,1064.8 L1143.0,1064.8 L1145.0,1064.8 L1147.0,1064.8 L1149.0,1064.8 L1151.0,1064.7 L1153.0,1064.7 L1155.0,1064.7 L1157.0,1064.7 L1159.0,1064.7 L1161.0,1064.6 L1163.0,1064.6 L1165.0,1064.6 L1167.0,1064.6 L1169.0,1064.5 L1171.0,1064.5 L1173.0,1064.5 L1175.0,1064.4 L1177.0,1064.4 L1179.0,1064.4 L1181.0,1064.3 L1183.0,1064.3 L1185.0,1064.2 L1187.0,1064.2 L1189.0,1064.1 L1191.0,1064.1 L1193.0,1064.1 L1195.1,1064.0 L1197.1,1063.9 L1199.1,1063.9 L1201.1,1063.8 L1203.1,1063.8 L1205.1,1063.7 L1207.1,1063.7 L1209.1,1063.6 L1211.1,1063.5 L1213.1,1063.5 L1215.1,1063.4 L1217.1,1063.3 L1219.1,1063.3 L1221.1,1063.2 L1223.1,1063.1 L1225.1,1063.0 L1227.1,1063.0 L1229.1,1062.9 L1231.1,1062.8 L1233.1,1062.7 L1235.1,1062.6 L1237.1,1062.5 L1239.1,1062.4 L1241.1,1062.4 L1243.1,1062.3 L1245.1,1062.2 L1247.1,1062.1 L1249.1,1062.0 L1251.1,1061.9 L1253.1,1061.8 L1255.1,1061.7 L1257.1,1061.6 L1259.1,1061.5 L1261.1,1061.4 L1263.1,1061.2 L1265.1,1061.1 L1267.1,1061.0 L1269.1,1060.9 L1271.1,1060.8 L1273.1,1060.7 L1275.1,1060.5 L1277.1,1060.4 L1279.1,1060.3 L1281.1,1060.2 L1283.0,1060.0 L1285.0,1059.9 L1287.0,1059.8 L1289.0,1059.6 L1291.0,1059.5 L1293.0,1059.4 L1295.0,1059.2 L1297.0,1059.1 L1299.0,1058.9 L1301.0,1058.8 L1303.0,1058.7 L1305.0,1058.5 L1307.0,1058.4 L1309.0,1058.2 L1311.0,1058.0 L1313.0,1057.9 L1315.0,1057.7 L1316.9,1057.6 L1318.9,1057.4 L1320.9,1057.2 L1322.9,1057.1 L1324.9,1056.9 L1326.9,1056.7 L1328.9,1056.6 L1330.9,1056.4 L1332.9,1056.2 L1334.9,1056.0 L1336.9,1055.9 L1338.8,1055.7 L1340.8,1055.5 L1342.8,1055.3 L1344.8,1055.1 L1346.8,1054.9 L1348.8,1054.7 L1350.8,1054.5 L1352.8,1054.3 L1354.7,1054.1 L1356.7,1053.9 L1358.7,1053.7 L1360.7,1053.5 L1362.7,1053.3 L1364.7,1053.1 L1366.7,1052.9 L1368.6,1052.7 L1370.6,1052.5 L1372.6,1052.3 L1374.6,1052.1 L1376.6,1051.8 L1378.5,1051.6 L1380.5,1051.4 L1382.5,1051.2 L1384.5,1050.9 L1386.5,1050.7 L1388.5,1050.5 L1390.4,1050.2 L1392.4,1050.0 L1394.4,1049.8 L1396.4,1049.5 L1398.3,1049.3 L1400.3,1049.0 L1402.3,1048.8 L1404.3,1048.5 L1406.3,1048.3 L1408.2,1048.0 L1410.2,1047.8 L1412.2,1047.5 L1414.2,1047.2 L1416.1,1047.0 L1418.1,1046.7 L1420.1,1046.5 L1422.0,1046.2 L1424.0,1045.9 L1426.0,1045.6 L1428.0,1045.4 L1429.9,1045.1 L1431.9,1044.8 L1433.9,1044.5 L1435.8,1044.2 L1437.8,1044.0 L1439.8,1043.7 L1441.7,1043.4 L1443.7,1043.1 L1445.7,1042.8 L1447.6,1042.5 L1449.6,1042.2 L1451.6,1041.9 L1453.5,1041.6 L1455.5,1041.3 L1457.5,1041.0 L1459.4,1040.7 L1461.4,1040.3 L1463.4,1040.0 L1465.3,1039.7 L1467.3,1039.4 L1469.2,1039.1 L1471.2,1038.7 L1473.2,1038.4 L1475.1,1038.1 L1477.1,1037.7 L1479.0,1037.4 L1481.0,1037.1 L1482.9,1036.7 L1484.9,1036.4 L1486.9,1036.1 L1488.8,1035.7 L1490.8,1035.4 L1492.7,1035.0 L1494.7,1034.7 L1496.6,1034.3 L1498.6,1033.9 L1500.5,1033.6 L1502.5,1033.2 L1504.4,1032.9 L1506.4,1032.5 L1508.3,1032.1 L1510.3,1031.8 L1512.2,1031.4 L1514.2,1031.0 L1516.1,1030.6 L1518.1,1030.2 L1520.0,1029.9 L1521.9,1029.5 L1523.9,1029.1 L1525.8,1028.7 L1527.8,1028.3 L1529.7,1027.9 L1531.7,1027.5 L1533.6,1027.1 L1535.5,1026.7 L1537.5,1026.3 L1539.4,1025.9 L1541.3,1025.5 L1543.3,1025.1 L1545.2,1024.7 L1547.2,1024.2 L1549.1,1023.8 L1551.0,1023.4 L1553.0,1023.0 L1554.9,1022.5 L1556.8,1022.1 L1558.8,1021.7 L1560.7,1021.2 L1562.6,1020.8 L1564.5,1020.3 L1566.5,1019.9 L1568.4,1019.4 L1570.3,1019.0 L1572.2,1018.5 L1574.2,1018.0 L1576.1,1017.6 L1578.0,1017.1 L1579.9,1016.6 L1581.9,1016.1 L1583.8,1015.6 L1585.7,1015.1 L1587.6,1014.6 L1589.5,1014.1 L1591.4,1013.6 L1593.4,1013.1 L1595.3,1012.6 L1597.2,1012.1 L1599.1,1011.5 L1601.0,1011.0 L1602.9,1010.4 L1604.8,1009.9 L1606.7,1009.3 L1608.6,1008.7 L1610.5,1008.2 L1612.4,1007.6 L1614.3,1007.0 L1616.2,1006.4 L1618.1,1005.8 L1620.0,1005.2 L1621.9,1004.6 L1623.8,1004.0 L1625.7,1003.3 L1627.6,1002.7 L1629.5,1002.1 L1631.4,1001.4 L1633.3,1000.8 L1635.1,1000.1 L1637.0,999.4 L1638.9,998.7 L1640.8,998.0 L1642.7,997.3 L1644.5,996.6 L1646.4,995.9 L1648.3,995.2 L1650.2,994.4 L1652.0,993.7 L1653.9,992.9 L1655.8,992.2 L1657.6,991.4 L1659.5,990.6 L1661.4,989.8 L1663.2,989.0 L1665.1,988.2 L1666.9,987.4 L1668.8,986.6 L1670.6,985.7 L1672.5,984.9 L1674.3,984.0 L1676.2,983.2 L1678.0,982.3 L1679.8,981.4 L1681.7,980.5 L1683.5,979.6 L1685.3,978.7 L1687.1,977.8 L1688.9,976.9 L1690.8,976.0 L1692.6,975.0 L1694.4,974.1 L1696.2,973.1 L1698.0,972.2 L1699.7,971.2 L1701.5,970.2 L1703.3,969.2 L1705.1,968.2 L1706.8,967.2 L1708.6,966.2 L1710.4,965.2 L1712.1,964.1 L1713.9,963.1 L1715.6,962.0 L1717.3,961.0 L1719.1,959.9 L1720.8,958.8 L1722.5,957.7 L1724.2,956.6 L1725.9,955.5 L1727.6,954.4 L1729.3,953.3 L1731.0,952.2 L1732.7,951.0 L1734.3,949.9 L1736.0,948.7 L1737.7,947.6 L1739.3,946.4 L1741.0,945.2 L1742.6,944.0 L1744.2,942.8 L1745.8,941.6 L1747.4,940.4 L1749.0,939.2 L1750.6,938.0 L1752.2,936.7 L1753.8,935.5 L1755.4,934.2 L1756.9,933.0 L1758.5,931.7 L1760.0,930.4 L1761.5,929.1 L1763.1,927.9 L1764.6,926.6 L1766.1,925.2 L1767.6,923.9 L1769.1,922.6 L1770.6,921.3 L1772.0,919.9 L1773.5,918.6 L1774.9,917.2 L1776.4,915.8 L1777.8,914.5 L1779.2,913.1 L1780.6,911.7 L1782.0,910.3 L1783.4,908.9 L1784.8,907.5 L1786.2,906.1 L1787.6,904.7 L1788.9,903.2 L1790.3,901.8 L1791.6,900.3 L1792.9,898.9 L1794.3,897.4 L1795.6,895.9 L1796.9,894.5 L1798.2,893.0 L1799.5,891.5 L1800.8,890.0 L1802.0,888.5 L1803.3,887.0 L1804.6,885.5 L1805.8,883.9 L1807.0,882.4 L1808.3,880.9 L1809.5,879.3 L1810.7,877.8 L1811.9,876.2 L1813.1,874.7 L1814.3,873.1 L1815.5,871.5 L1816.7,870.0 L1817.9,868.4 L1819.0,866.8 L1820.2,865.2 L1821.3,863.6 L1822.5,862.0 L1823.6,860.4 L1824.7,858.7 L1825.8,857.1 L1826.9,855.5 L1828.0,853.8 L1829.1,852.2 L1830.2,850.6 L1831.3,848.9 L1832.4,847.2 L1833.5,845.6 L1834.5,843.9 L1835.6,842.2 L1836.6,840.6 L1837.7,838.9 L1838.7,837.2 L1839.7,835.5 L1840.7,833.8 L1841.7,832.1 L1842.8,830.4 L1843.8,828.7 L1844.7,827.0 L1845.7,825.2 L1846.7,823.5 L1847.7,821.8 L1848.7,820.0 L1849.6,818.3 L1850.6,816.6 L1851.5,814.8 L1852.5,813.1 L1853.4,811.3 L1854.3,809.6 L1855.3,807.8 L1856.2,806.0 L1857.1,804.3 L1858.0,802.5 L1858.9,800.7 L1859.8,798.9 L1860.7,797.1 L1861.6,795.3 L1862.5,793.5 L1863.3,791.7 L1864.2,789.9 L1865.1,788.1 L1865.9,786.3 L1866.8,784.5 L1867.6,782.7 L1868.5,780.9 L1869.3,779.1 L1870.1,777.3 L1871.0,775.4 L1871.8,773.6 L1872.6,771.8 L1873.4,769.9 L1874.2,768.1 L1875.0,766.3 L1875.8,764.4 L1876.6,762.6 L1877.4,760.7 L1878.2,758.9 L1879.0,757.0 L1879.7,755.2 L1880.5,753.3 L1881.3,751.5 L1882.0,749.6 L1882.8,747.7 L1883.5,745.9 L1884.3,744.0 L1885.0,742.1 L1885.8,740.3 L1886.5,738.4 L1887.2,736.5 L1888.0,734.6 L1888.7,732.8 L1889.4,730.9 L1890.1,729.0 L1890.8,727.1 L1891.5,725.2 L1892.2,723.3 L1892.9,721.5 L1893.6,719.6 L1894.3,717.7 L1895.0,715.8 L1895.7,713.9 L1896.4,712.0 L1897.1,710.1 L1897.7,708.2 L1898.4,706.3 L1899.1,704.4 L1899.8,702.5 L1900.4,700.6 L1901.1,698.7 L1901.7,696.8 L1902.4,694.9 L1903.0,693.0 L1903.7,691.1 L1904.3,689.2 L1905.0,687.3 L1905.6,685.4 L1906.3,683.5 L1906.9,681.6 L1907.5,679.7 L1908.1,677.8 L1908.8,675.9 L1909.4,674.0 L1910.0,672.1 L1910.6,670.2 L1911.2,668.3 L1911.9,666.3 L1912.5,664.4 L1913.1,662.5 L1913.7,660.6 L1914.3,658.7 L1914.9,656.8 L1915.5,654.9 L1916.0,653.0 L1916.6,651.0 L1917.2,649.1 L1917.8,647.2 L1918.4,645.3 L1919.0,643.4 L1919.5,641.5 L1920.1,639.6 L1920.7,637.6 L1921.2,635.7 L1921.8,633.8 L1922.4,631.9 L1922.9,630.0 L1923.5,628.0 L1924.0,626.1 L1924.6,624.2 L1925.1,622.3 L1925.7,620.3 L1926.2,618.4 L1926.8,616.5 L1927.3,614.6 L1927.8,612.6 L1928.4,610.7 L1928.9,608.8 L1929.4,606.9 L1930.0,604.9 L1930.5,603.0 L1931.0,601.1 L1931.5,599.1 L1932.0,597.2 L1932.5,595.3 L1933.1,593.4 L1933.6,591.4 L1934.1,589.5 L1934.6,587.6 L1935.1,585.6 L1935.6,583.7 L1936.1,581.8 L1936.6,579.8 L1937.1,577.9 L1937.6,576.0 L1938.0,574.0 L1938.5,572.1 L1939.0,570.1 L1939.5,568.2 L1940.0,566.3 L1940.5,564.3 L1940.9,562.4 L1941.4,560.5 L1941.9,558.5 L1942.3,556.6 L1942.8,554.6 L1943.3,552.7 L1943.7,550.8 L1944.2,548.8 L1944.6,546.9 L1945.1,544.9 L1945.6,543.0 L1946.0,541.0 L1946.5,539.1 L1946.9,537.1 L1947.4,535.2 L1947.8,533.3 L1948.2,531.3 L1948.7,529.4 L1949.1,527.4 L1949.6,525.5 L1950.0,523.5 L1950.4,521.6 L1950.8,519.6 L1951.3,517.7 L1951.7,515.7 L1952.1,513.8 L1952.6,511.8 L1953.0,509.9 L1953.4,507.9 L1953.8,506.0 L1954.2,504.0 L1954.6,502.1 L1955.1,500.1 L1955.5,498.2 L1955.9,496.2 L1956.3,494.3 L1956.7,492.3 L1957.1,490.3 L1957.5,488.4 L1957.9,486.4 L1958.3,484.5 L1958.7,482.5 L1959.1,480.6 L1959.5,478.6 L1959.9,476.7 L1960.3,474.7 L1960.6,472.7 L1961.0,470.8 L1961.4,468.8 L1961.8,466.9 L1962.2,464.9 L1962.6,462.9 L1962.9,461.0 L1963.3,459.0 L1963.7,457.1 L1964.1,455.1 L1964.4,453.1 L1964.8,451.2 L1965.2,449.2 L1965.5,447.3 L1965.9,445.3 L1966.3,443.3 L1966.6,441.4 L1967.0,439.4 L1967.4,437.4 L1967.7,435.5 L1968.1,433.5 L1968.4,431.5 L1968.8,429.6 L1969.2,427.6 L1969.5,425.6 L1969.9,423.7 L1970.2,421.7 L1970.6,419.7 L1970.9,417.8 L1971.3,415.8 L1971.6,413.8 L1972.0,411.9 L1972.3,409.9 L1972.6,407.9 L1973.0,406.0 L1973.3,404.0 L1973.7,402.0 L1974.0,400.1 L1974.3,398.1 L1974.7,396.1 L1975.0,394.2 L1975.3,392.2 L1975.7,390.2 L1976.0,388.2 L1976.3,386.3 L1976.7,384.3 L1977.0,382.3"/>
<path stroke="#EE8029" d="M359.8,1352.2 L359.8,1350.2 L359.8,1348.1 L359.8,1346.1 L359.8,1344.1 L359.8,1342.0 L359.8,1340.0 L359.8,1338.0 L359.8,1335.9 L359.8,1333.9 L359.9,1331.9 L359.9,1329.9 L359.9,1327.9 L360.0,1325.8 L360.0,1323.8 L360.0,1321.8 L360.1,1319.8 L360.1,1317.8 L360.2,1315.8 L360.3,1313.8 L360.3,1311.8 L360.4,1309.8 L360.5,1307.8 L360.5,1305.8 L360.6,1303.7 L360.7,1301.7 L360.8,1299.7 L360.9,1297.7 L361.0,1295.7 L361.1,1293.8 L361.2,1291.8 L361.3,1289.8 L361.4,1287.8 L361.5,1285.8 L361.7,1283.8 L361.8,1281.8 L361.9,1279.8 L362.1,1277.8 L362.2,1275.8 L362.4,1273.8 L362.5,1271.9 L362.7,1269.9 L362.9,1267.9 L363.0,1265.9 L363.2,1263.9 L363.4,1261.9 L363.6,1260.0 L363.8,1258.0 L364.0,1256.0 L364.2,1254.0 L364.4,1252.0 L364.6,1250.1 L364.9,1248.1 L365.1,1246.1 L365.3,1244.1 L365.6,1242.2 L365.8,1240.2 L366.1,1238.2 L366.3,1236.2 L366.6,1234.3 L366.9,1232.3 L367.2,1230.3 L367.5,1228.3 L367.7,1226.4 L368.0,1224.4 L368.4,1222.4 L368.7,1220.5 L369.0,1218.5 L369.3,1216.5 L369.6,1214.6 L370.0,1212.6 L370.3,1210.6 L370.7,1208.6 L371.0,1206.7 L371.4,1204.7 L371.8,1202.7 L372.2,1200.8 L372.6,1198.8 L373.0,1196.8 L373.4,1194.9 L373.8,1192.9 L374.2,1190.9 L374.6,1189.0 L375.1,1187.0 L375.5,1185.0 L376.0,1183.1 L376.4,1181.1 L376.9,1179.1 L377.3,1177.2 L377.8,1175.2 L378.3,1173.2 L378.8,1171.3 L379.3,1169.3 L379.8,1167.3 L380.4,1165.4 L380.9,1163.4 L381.5,1161.5 L382.0,1159.5 L382.6,1157.5 L383.1,1155.6 L383.7,1153.7 L384.3,1151.7 L384.9,1149.8 L385.6,1147.8 L386.2,1145.9 L386.8,1144.0 L387.5,1142.1 L388.2,1140.2 L388.8,1138.3 L389.5,1136.4 L390.2,1134.5 L391.0,1132.6 L391.7,1130.7 L392.4,1128.8 L393.2,1126.9 L394.0,1125.1 L394.8,1123.2 L395.6,1121.4 L396.4,1119.6 L397.2,1117.7 L398.1,1115.9 L398.9,1114.1 L399.8,1112.3 L400.7,1110.5 L401.6,1108.8 L402.6,1107.0 L403.5,1105.2 L404.5,1103.5 L405.4,1101.8 L406.4,1100.0 L407.5,1098.3 L408.5,1096.6 L409.5,1094.9 L410.6,1093.3 L411.7,1091.6 L412.8,1090.0 L413.9,1088.3 L415.1,1086.7 L416.2,1085.1 L417.4,1083.5 L418.6,1081.9 L419.9,1080.4 L421.1,1078.8 L422.4,1077.3 L423.7,1075.8 L425.0,1074.3 L426.3,1072.8 L427.6,1071.4 L429.0,1069.9 L430.4,1068.5 L431.8,1067.2 L433.3,1065.8 L434.7,1064.5 L436.2,1063.2 L437.8,1061.9 L439.3,1060.7 L440.9,1059.5 L442.5,1058.3 L444.1,1057.2 L445.7,1056.2 L447.4,1055.1 L449.1,1054.1 L450.9,1053.2 L452.6,1052.3 L454.4,1051.4 L456.2,1050.6 L458.1,1049.9 L460.0,1049.2 L461.8,1048.5 L463.7,1047.9 L465.7,1047.3 L467.6,1046.7 L469.5,1046.2 L471.5,1045.7 L473.4,1045.2 L475.4,1044.8 L477.3,1044.3 L479.3,1043.9 L481.2,1043.6 L483.2,1043.2 L485.1,1042.9 L487.1,1042.6 L489.1,1042.3 L491.1,1042.1 L493.0,1041.9 L495.0,1041.6 L497.0,1041.5 L499.0,1041.3 L501.0,1041.1 L503.0,1041.0 L504.9,1040.9 L506.9,1040.8 L508.9,1040.7 L510.9,1040.6 L512.9,1040.6 L514.9,1040.5 L516.9,1040.5 L518.9,1040.5 L520.9,1040.5 L522.9,1040.5 L525.0,1040.6 L527.0,1040.6 L529.0,1040.6 L531.0,1040.7 L533.0,1040.8 L535.0,1040.8 L537.0,1040.9 L539.0,1041.0 L541.1,1041.1 L543.1,1041.2 L545.1,1041.3 L547.1,1041.4 L549.1,1041.5 L551.1,1041.6 L553.2,1041.7 L555.2,1041.8 L557.2,1042.0 L559.2,1042.1 L561.2,1042.2 L563.2,1042.3 L565.3,1042.4 L567.3,1042.5 L569.3,1042.7 L571.3,1042.8 L573.3,1042.9 L575.3,1043.0 L577.3,1043.1 L579.3,1043.2 L581.4,1043.3 L583.4,1043.5 L585.4,1043.6 L587.4,1043.7 L589.4,1043.8 L591.4,1043.9 L593.4,1044.0 L595.4,1044.1 L597.4,1044.2 L599.4,1044.4 L601.5,1044.5 L603.5,1044.6 L605.5,1044.7 L607.5,1044.8 L609.5,1044.9 L611.5,1045.0 L613.5,1045.1 L615.5,1045.2 L617.5,1045.3 L619.5,1045.4 L621.5,1045.6 L623.5,1045.7 L625.5,1045.8 L627.5,1045.9 L629.5,1046.0 L631.5,1046.1 L633.5,1046.2 L635.5,1046.3 L637.5,1046.4 L639.5,1046.5 L641.5,1046.6 L643.6,1046.7 L645.6,1046.8 L647.6,1046.9 L649.6,1047.0 L651.6,1047.1 L653.6,1047.3 L655.6,1047.4 L657.6,1047.5 L659.6,1047.6 L661.6,1047.7 L663.6,1047.8 L665.6,1047.9 L667.6,1048.0 L669.6,1048.1 L671.6,1048.2 L673.6,1048.3 L675.6,1048.4 L677.5,1048.5 L679.5,1048.6 L681.5,1048.7 L683.5,1048.8 L685.5,1048.9 L687.5,1049.0 L689.5,1049.1 L691.5,1049.2 L693.5,1049.3 L695.5,1049.4 L697.5,1049.5 L699.5,1049.6 L701.5,1049.7 L703.5,1049.8 L705.5,1049.9 L707.5,1050.1 L709.5,1050.2 L711.5,1050.3 L713.5,1050.4 L715.5,1050.5 L717.5,1050.6 L719.5,1050.7 L721.5,1050.8 L723.5,1050.9 L725.5,1051.0 L727.5,1051.1 L729.5,1051.2 L731.5,1051.3 L733.4,1051.4 L735.4,1051.5 L737.4,1051.6 L739.4,1051.7 L741.4,1051.8 L743.4,1051.9 L745.4,1052.0 L747.4,1052.1 L749.4,1052.3 L751.4,1052.4 L753.4,1052.5 L755.4,1052.6 L757.4,1052.7 L759.4,1052.8 L761.4,1052.9 L763.4,1053.0 L765.4,1053.1 L767.4,1053.2 L769.4,1053.3 L771.3,1053.4 L773.3,1053.5 L775.3,1053.7 L777.3,1053.8 L779.3,1053.9 L781.3,1054.0 L783.3,1054.1 L785.3,1054.2 L787.3,1054.3 L789.3,1054.4 L791.3,1054.5 L793.3,1054.7 L795.3,1054.8 L797.3,1054.9 L799.3,1055.0 L801.3,1055.1 L803.3,1055.2 L805.3,1055.3 L807.3,1055.5 L809.3,1055.6 L811.2,1055.7 L813.2,1055.8 L815.2,1055.9 L817.2,1056.0 L819.2,1056.2 L821.2,1056.3 L823.2,1056.4 L825.2,1056.5 L827.2,1056.6 L829.2,1056.7 L831.2,1056.9 L833.2,1057.0 L835.2,1057.1 L837.2,1057.2 L839.2,1057.4 L841.2,1057.5 L843.2,1057.6 L845.2,1057.7 L847.2,1057.8 L849.2,1058.0 L851.2,1058.1 L853.2,1058.2 L855.2,1058.3 L857.2,1058.5 L859.2,1058.6 L861.2,1058.7 L863.2,1058.8 L865.2,1058.9 L867.2,1059.1 L869.2,1059.2 L871.2,1059.3 L873.2,1059.4 L875.2,1059.6 L877.2,1059.7 L879.2,1059.8 L881.2,1059.9 L883.2,1060.1 L885.2,1060.2 L887.2,1060.3 L889.2,1060.4 L891.2,1060.5 L893.2,1060.7 L895.2,1060.8 L897.2,1060.9 L899.2,1061.0 L901.2,1061.2 L903.2,1061.3 L905.2,1061.4 L907.2,1061.5 L909.2,1061.6 L911.2,1061.8 L913.2,1061.9 L915.2,1062.0 L917.2,1062.1 L919.2,1062.2 L921.2,1062.3 L923.2,1062.5 L925.2,1062.6 L927.2,1062.7 L929.2,1062.8 L931.2,1062.9 L933.2,1063.0 L935.2,1063.1 L937.2,1063.3 L939.2,1063.4 L941.2,1063.5 L943.2,1063.6 L945.2,1063.7 L947.2,1063.8 L949.2,1063.9 L951.2,1064.0 L953.2,1064.1 L955.2,1064.2 L957.2,1064.4 L959.2,1064.5 L961.3,1064.6 L963.3,1064.7 L965.3,1064.8 L967.3,1064.9 L969.3,1065.0 L971.3,1065.1 L973.3,1065.2 L975.3,1065.3 L977.3,1065.4 L979.3,1065.5 L981.3,1065.6 L983.3,1065.7 L985.3,1065.7 L987.3,1065.8 L989.3,1065.9 L991.3,1066.0 L993.3,1066.1 L995.3,1066.2 L997.3,1066.3 L999.3,1066.4 L1001.3,1066.5 L1003.3,1066.5 L1005.3,1066.6 L1007.3,1066.7 L1009.3,1066.8 L1011.3,1066.9 L1013.4,1066.9 L1015.4,1067.0 L1017.4,1067.1 L1019.4,1067.2 L1021.4,1067.2 L1023.4,1067.3 L1025.4,1067.4 L1027.4,1067.4 L1029.4,1067.5 L1031.4,1067.6 L1033.4,1067.6 L1035.4,1067.7 L1037.4,1067.7 L1039.4,1067.8 L1041.4,1067.9 L1043.4,1067.9 L1045.4,1068.0 L1047.4,1068.0 L1049.4,1068.1 L1051.4,1068.1 L1053.4,1068.2 L1055.5,1068.2 L1057.5,1068.3 L1059.5,1068.3 L1061.5,1068.3 L1063.5,1068.4 L1065.5,1068.4 L1067.5,1068.4 L1069.5,1068.5 L1071.5,1068.5 L1073.5,1068.5 L1075.5,1068.6 L1077.5,1068.6 L1079.5,1068.6 L1081.5,1068.6 L1083.5,1068.7 L1085.5,1068.7 L1087.5,1068.7 L1089.5,1068.7 L1091.5,1068.7 L1093.6,1068.7 L1095.6,1068.7 L1097.6,1068.7 L1099.6,1068.7 L1101.6,1068.7 L1103.6,1068.7 L1105.6,1068.7 L1107.6,1068.7 L1109.6,1068.7 L1111.6,1068.7 L1113.6,1068.7 L1115.6,1068.7 L1117.6,1068.7 L1119.6,1068.7 L1121.6,1068.6 L1123.6,1068.6 L1125.6,1068.6 L1127.6,1068.6 L1129.6,1068.5 L1131.7,1068.5 L1133.7,1068.5 L1135.7,1068.4 L1137.7,1068.4 L1139.7,1068.4 L1141.7,1068.3 L1143.7,1068.3 L1145.7,1068.2 L1147.7,1068.2 L1149.7,1068.1 L1151.7,1068.1 L1153.7,1068.0 L1155.7,1067.9 L1157.7,1067.9 L1159.7,1067.8 L1161.7,1067.7 L1163.7,1067.7 L1165.7,1067.6 L1167.7,1067.5 L1169.7,1067.4 L1171.7,1067.3 L1173.7,1067.3 L1175.7,1067.2 L1177.7,1067.1 L1179.8,1067.0 L1181.8,1066.9 L1183.8,1066.8 L1185.8,1066.7 L1187.8,1066.6 L1189.8,1066.4 L1191.8,1066.3 L1193.8,1066.2 L1195.8,1066.1 L1197.8,1066.0 L1199.8,1065.8 L1201.8,1065.7 L1203.8,1065.6 L1205.7,1065.4 L1207.7,1065.3 L1209.7,1065.1 L1211.7,1065.0 L1213.7,1064.8 L1215.7,1064.7 L1217.7,1064.5 L1219.7,1064.4 L1221.7,1064.2 L1223.7,1064.0 L1225.7,1063.8 L1227.7,1063.7 L1229.7,1063.5 L1231.7,1063.3 L1233.7,1063.1 L1235.7,1062.9 L1237.6,1062.7 L1239.6,1062.5 L1241.6,1062.3 L1243.6,1062.1 L1245.6,1061.9 L1247.6,1061.7 L1249.6,1061.4 L1251.5,1061.2 L1253.5,1061.0 L1255.5,1060.7 L1257.5,1060.5 L1259.5,1060.3 L1261.5,1060.0 L1263.4,1059.8 L1265.4,1059.5 L1267.4,1059.2 L1269.4,1059.0 L1271.3,1058.7 L1273.3,1058.4 L1275.3,1058.1 L1277.3,1057.9 L1279.2,1057.6 L1281.2,1057.3 L1283.2,1057.0 L1285.2,1056.7 L1287.1,1056.4 L1289.1,1056.1 L1291.1,1055.7 L1293.0,1055.4 L1295.0,1055.1 L1296.9,1054.8 L1298.9,1054.4 L1300.9,1054.1 L1302.8,1053.7 L1304.8,1053.4 L1306.8,1053.0 L1308.7,1052.7 L1310.7,1052.3 L1312.6,1051.9 L1314.6,1051.6 L1316.5,1051.2 L1318.5,1050.8 L1320.4,1050.4 L1322.4,1050.0 L1324.3,1049.6 L1326.3,1049.2 L1328.2,1048.8 L1330.2,1048.4 L1332.1,1048.0 L1334.1,1047.5 L1336.0,1047.1 L1337.9,1046.7 L1339.9,1046.2 L1341.8,1045.8 L1343.8,1045.4 L1345.7,1044.9 L1347.6,1044.5 L1349.6,1044.0 L1351.5,1043.5 L1353.4,1043.1 L1355.4,1042.6 L1357.3,1042.1 L1359.2,1041.6 L1361.2,1041.2 L1363.1,1040.7 L1365.0,1040.2 L1367.0,1039.7 L1368.9,1039.2 L1370.8,1038.7 L1372.7,1038.2 L1374.7,1037.7 L1376.6,1037.2 L1378.5,1036.6 L1380.4,1036.1 L1382.3,1035.6 L1384.3,1035.1 L1386.2,1034.5 L1388.1,1034.0 L1390.0,1033.4 L1391.9,1032.9 L1393.8,1032.3 L1395.8,1031.8 L1397.7,1031.2 L1399.6,1030.7 L1401.5,1030.1 L1403.4,1029.6 L1405.3,1029.0 L1407.2,1028.4 L1409.1,1027.8 L1411.0,1027.3 L1412.9,1026.7 L1414.8,1026.1 L1416.7,1025.5 L1418.7,1024.9 L1420.6,1024.3 L1422.5,1023.7 L1424.4,1023.1 L1426.3,1022.5 L1428.2,1021.9 L1430.1,1021.3 L1432.0,1020.7 L1433.9,1020.0 L1435.7,1019.4 L1437.6,1018.8 L1439.5,1018.2 L1441.4,1017.5 L1443.3,1016.9 L1445.2,1016.3 L1447.1,1015.6 L1449.0,1015.0 L1450.9,1014.4 L1452.8,1013.7 L1454.7,1013.1 L1456.6,1012.4 L1458.4,1011.8 L1460.3,1011.1 L1462.2,1010.4 L1464.1,1009.8 L1466.0,1009.1 L1467.9,1008.4 L1469.7,1007.8 L1471.6,1007.1 L1473.5,1006.4 L1475.4,1005.8 L1477.3,1005.1 L1479.1,1004.4 L1481.0,1003.7 L1482.9,1003.0 L1484.8,1002.3 L1486.6,1001.6 L1488.5,1001.0 L1490.4,1000.3 L1492.3,999.6 L1494.1,998.9 L1496.0,998.2 L1497.9,997.5 L1499.8,996.8 L1501.6,996.1 L1503.5,995.3 L1505.4,994.6 L1507.2,993.9 L1509.1,993.2 L1511.0,992.5 L1512.8,991.8 L1514.7,991.1 L1516.6,990.3 L1518.4,989.6 L1520.3,988.9 L1522.2,988.1 L1524.0,987.4 L1525.9,986.7 L1527.7,985.9 L1529.6,985.2 L1531.4,984.5 L1533.3,983.7 L1535.2,983.0 L1537.0,982.2 L1538.9,981.5 L1540.7,980.7 L1542.6,980.0 L1544.4,979.2 L1546.3,978.5 L1548.1,977.7 L1550.0,976.9 L1551.8,976.2 L1553.7,975.4 L1555.5,974.6 L1557.3,973.9 L1559.2,973.1 L1561.0,972.3 L1562.9,971.5 L1564.7,970.7 L1566.5,969.9 L1568.4,969.1 L1570.2,968.4 L1572.1,967.6 L1573.9,966.8 L1575.7,966.0 L1577.5,965.2 L1579.4,964.3 L1581.2,963.5 L1583.0,962.7 L1584.8,961.9 L1586.7,961.1 L1588.5,960.3 L1590.3,959.4 L1592.1,958.6 L1593.9,957.8 L1595.8,957.0 L1597.6,956.1 L1599.4,955.3 L1601.2,954.4 L1603.0,953.6 L1604.8,952.7 L1606.6,951.9 L1608.4,951.0 L1610.2,950.2 L1612.0,949.3 L1613.8,948.4 L1615.6,947.6 L1617.4,946.7 L1619.2,945.8 L1621.0,944.9 L1622.8,944.1 L1624.6,943.2 L1626.4,942.3 L1628.2,941.4 L1630.0,940.5 L1631.8,939.6 L1633.5,938.7 L1635.3,937.8 L1637.1,936.9 L1638.9,936.0 L1640.6,935.1 L1642.4,934.1 L1644.2,933.2 L1646.0,932.3 L1647.7,931.3 L1649.5,930.4 L1651.3,929.5 L1653.0,928.5 L1654.8,927.6 L1656.5,926.6 L1658.3,925.7 L1660.0,924.7 L1661.8,923.8 L1663.5,922.8 L1665.3,921.8 L1667.0,920.9 L1668.8,919.9 L1670.5,918.9 L1672.3,917.9 L1674.0,916.9 L1675.7,915.9 L1677.5,914.9 L1679.2,913.9 L1680.9,912.9 L1682.6,911.9 L1684.4,910.9 L1686.1,909.9 L1687.8,908.9 L1689.5,907.8 L1691.2,906.8 L1693.0,905.8 L1694.7,904.7 L1696.4,903.7 L1698.1,902.6 L1699.8,901.6 L1701.5,900.5 L1703.2,899.5 L1704.9,898.4 L1706.6,897.3 L1708.3,896.3 L1709.9,895.2 L1711.6,894.1 L1713.3,893.0 L1715.0,891.9 L1716.7,890.8 L1718.4,889.7 L1720.0,888.6 L1721.7,887.5 L1723.4,886.4 L1725.0,885.3 L1726.7,884.2 L1728.4,883.0 L1730.0,881.9 L1731.7,880.8 L1733.3,879.6 L1735.0,878.5 L1736.6,877.3 L1738.2,876.2 L1739.9,875.0 L1741.5,873.8 L1743.2,872.7 L1744.8,871.5 L1746.4,870.3 L1748.0,869.1 L1749.6,867.9 L1751.2,866.7 L1752.9,865.5 L1754.5,864.3 L1756.1,863.1 L1757.7,861.9 L1759.2,860.7 L1760.8,859.4 L1762.4,858.2 L1764.0,857.0 L1765.6,855.7 L1767.1,854.5 L1768.7,853.2 L1770.3,852.0 L1771.8,850.7 L1773.4,849.4 L1774.9,848.1 L1776.5,846.9 L1778.0,845.6 L1779.5,844.3 L1781.0,843.0 L1782.6,841.7 L1784.1,840.4 L1785.6,839.1 L1787.1,837.8 L1788.6,836.4 L1790.1,835.1 L1791.6,833.8 L1793.0,832.4 L1794.5,831.1 L1796.0,829.7 L1797.5,828.4 L1798.9,827.0 L1800.4,825.6 L1801.8,824.3 L1803.2,822.9 L1804.7,821.5 L1806.1,820.1 L1807.5,818.7 L1808.9,817.3 L1810.3,815.9 L1811.7,814.5 L1813.1,813.0 L1814.5,811.6 L1815.9,810.2 L1817.3,808.7 L1818.6,807.3 L1820.0,805.8 L1821.3,804.4 L1822.7,802.9 L1824.0,801.4 L1825.3,799.9 L1826.7,798.5 L1828.0,797.0 L1829.3,795.5 L1830.6,794.0 L1831.9,792.5 L1833.1,790.9 L1834.4,789.4 L1835.7,787.9 L1836.9,786.4 L1838.2,784.8 L1839.4,783.3 L1840.7,781.7 L1841.9,780.2 L1843.1,778.6 L1844.3,777.0 L1845.5,775.4 L1846.7,773.8 L1847.9,772.3 L1849.0,770.7 L1850.2,769.0 L1851.4,767.4 L1852.5,765.8 L1853.7,764.2 L1854.8,762.6 L1855.9,760.9 L1857.0,759.3 L1858.1,757.6 L1859.2,755.9 L1860.3,754.3 L1861.4,752.6 L1862.4,750.9 L1863.5,749.2 L1864.5,747.5 L1865.5,745.8 L1866.6,744.1 L1867.6,742.4 L1868.6,740.7 L1869.6,739.0 L1870.6,737.2 L1871.6,735.5 L1872.6,733.8 L1873.5,732.0 L1874.5,730.3 L1875.4,728.5 L1876.4,726.7 L1877.3,725.0 L1878.2,723.2 L1879.2,721.4 L1880.1,719.6 L1881.0,717.8 L1881.9,716.0 L1882.8,714.2 L1883.6,712.4 L1884.5,710.6 L1885.4,708.8 L1886.3,707.0 L1887.1,705.2 L1888.0,703.3 L1888.8,701.5 L1889.6,699.7 L1890.5,697.8 L1891.3,696.0 L1892.1,694.2 L1892.9,692.3 L1893.7,690.5 L1894.5,688.6 L1895.3,686.7 L1896.1,684.9 L1896.9,683.0 L1897.7,681.1 L1898.5,679.3 L1899.2,677.4 L1900.0,675.5 L1900.8,673.7 L1901.5,671.8 L1902.3,669.9 L1903.0,668.0 L1903.7,666.1 L1904.5,664.2 L1905.2,662.3 L1905.9,660.4 L1906.7,658.6 L1907.4,656.7 L1908.1,654.8 L1908.8,652.9 L1909.5,651.0 L1910.2,649.1 L1910.9,647.2 L1911.6,645.3 L1912.3,643.3 L1913.0,641.4 L1913.7,639.5 L1914.4,637.6 L1915.1,635.7 L1915.8,633.8 L1916.4,631.9 L1917.1,630.0 L1917.8,628.1 L1918.5,626.2 L1919.1,624.3 L1919.8,622.4 L1920.5,620.5 L1921.1,618.6 L1921.8,616.6 L1922.4,614.7 L1923.1,612.8 L1923.7,610.9 L1924.4,609.0 L1925.1,607.1 L1925.7,605.2 L1926.4,603.3 L1927.0,601.4 L1927.7,599.5 L1928.3,597.6 L1928.9,595.7 L1929.6,593.8 L1930.2,591.9 L1930.9,590.0 L1931.5,588.1 L1932.1,586.2 L1932.8,584.3 L1933.4,582.4 L1934.0,580.5 L1934.7,578.7 L1935.3,576.8 L1935.9,574.9 L1936.5,573.0 L1937.2,571.1 L1937.8,569.2 L1938.4,567.3 L1939.0,565.4 L1939.6,563.5 L1940.2,561.6 L1940.8,559.7 L1941.4,557.8 L1942.0,555.9 L1942.6,554.0 L1943.2,552.1 L1943.8,550.3 L1944.4,548.4 L1945.0,546.5 L1945.6,544.6 L1946.2,542.7 L1946.7,540.8 L1947.3,538.9 L1947.9,537.0 L1948.4,535.1 L1949.0,533.2 L1949.6,531.3 L1950.1,529.4 L1950.7,527.5 L1951.2,525.6 L1951.8,523.7 L1952.3,521.8 L1952.9,519.8 L1953.4,517.9 L1953.9,516.0 L1954.5,514.1 L1955.0,512.2 L1955.5,510.3 L1956.0,508.4 L1956.5,506.5 L1957.0,504.5 L1957.5,502.6 L1958.0,500.7 L1958.5,498.8 L1959.0,496.8 L1959.5,494.9 L1960.0,493.0 L1960.5,491.1 L1960.9,489.1 L1961.4,487.2 L1961.9,485.3 L1962.3,483.3 L1962.8,481.4 L1963.2,479.4 L1963.7,477.5 L1964.1,475.5 L1964.6,473.6 L1965.0,471.6 L1965.4,469.7 L1965.8,467.7 L1966.2,465.8 L1966.6,463.8 L1967.0,461.8 L1967.4,459.9 L1967.8,457.9 L1968.2,455.9 L1968.6,453.9 L1969.0,452.0 L1969.3,450.0 L1969.7,448.0 L1970.1,446.0 L1970.4,444.0 L1970.8,442.0 L1971.1,440.0 L1971.4,438.0 L1971.8,436.0 L1972.1,434.0 L1972.4,432.0 L1972.7,430.0 L1973.0,428.0 L1973.3,426.0 L1973.6,423.9 L1973.9,421.9 L1974.2,419.9 L1974.4,417.9 L1974.7,415.8 L1975.0,413.8 L1975.2,411.7 L1975.4,409.7"/>
<path stroke="#E3AD30" d="M359.7,1344.0 L359.8,1342.0 L359.8,1340.0 L359.9,1338.0 L359.9,1336.0 L360.0,1334.0 L360.0,1332.0 L360.1,1330.0 L360.1,1328.0 L360.2,1326.0 L360.2,1324.0 L360.3,1322.0 L360.3,1320.0 L360.4,1318.0 L360.5,1316.0 L360.5,1314.0 L360.6,1312.0 L360.7,1310.0 L360.8,1307.9 L360.9,1305.9 L361.0,1303.9 L361.1,1301.9 L361.1,1299.9 L361.2,1297.9 L361.3,1295.9 L361.5,1293.9 L361.6,1291.9 L361.7,1289.9 L361.8,1287.9 L361.9,1285.9 L362.1,1283.9 L362.2,1281.9 L362.3,1279.9 L362.5,1277.9 L362.6,1275.9 L362.8,1274.0 L362.9,1272.0 L363.1,1270.0 L363.2,1268.0 L363.4,1266.0 L363.6,1264.0 L363.8,1262.0 L363.9,1260.0 L364.1,1258.0 L364.3,1256.0 L364.5,1254.0 L364.7,1252.0 L365.0,1250.0 L365.2,1248.0 L365.4,1246.1 L365.6,1244.1 L365.9,1242.1 L366.1,1240.1 L366.4,1238.1 L366.6,1236.1 L366.9,1234.1 L367.2,1232.2 L367.4,1230.2 L367.7,1228.2 L368.0,1226.2 L368.3,1224.2 L368.6,1222.3 L368.9,1220.3 L369.2,1218.3 L369.5,1216.3 L369.9,1214.4 L370.2,1212.4 L370.6,1210.4 L370.9,1208.5 L371.3,1206.5 L371.6,1204.5 L372.0,1202.6 L372.4,1200.6 L372.8,1198.6 L373.2,1196.7 L373.6,1194.7 L374.0,1192.7 L374.4,1190.8 L374.9,1188.8 L375.3,1186.9 L375.8,1184.9 L376.2,1183.0 L376.7,1181.0 L377.2,1179.1 L377.7,1177.1 L378.2,1175.2 L378.7,1173.2 L379.2,1171.3 L379.7,1169.3 L380.2,1167.4 L380.8,1165.5 L381.3,1163.5 L381.9,1161.6 L382.5,1159.7 L383.1,1157.8 L383.7,1155.9 L384.3,1154.0 L384.9,1152.1 L385.6,1150.2 L386.2,1148.3 L386.9,1146.4 L387.5,1144.5 L388.2,1142.6 L388.9,1140.7 L389.6,1138.8 L390.3,1137.0 L391.1,1135.1 L391.8,1133.2 L392.6,1131.4 L393.4,1129.5 L394.2,1127.7 L395.0,1125.9 L395.8,1124.0 L396.6,1122.2 L397.5,1120.4 L398.3,1118.6 L399.2,1116.8 L400.1,1115.0 L401.0,1113.2 L401.9,1111.4 L402.8,1109.6 L403.8,1107.8 L404.8,1106.1 L405.7,1104.3 L406.7,1102.6 L407.8,1100.8 L408.8,1099.1 L409.8,1097.4 L410.9,1095.7 L412.0,1094.0 L413.1,1092.3 L414.2,1090.6 L415.3,1088.9 L416.5,1087.2 L417.7,1085.6 L418.9,1084.0 L420.1,1082.4 L421.3,1080.8 L422.6,1079.2 L423.8,1077.7 L425.2,1076.2 L426.5,1074.7 L427.8,1073.3 L429.2,1071.9 L430.6,1070.5 L432.1,1069.2 L433.5,1067.9 L435.0,1066.6 L436.6,1065.4 L438.1,1064.3 L439.7,1063.2 L441.3,1062.1 L442.9,1061.1 L444.6,1060.2 L446.3,1059.3 L448.1,1058.5 L449.9,1057.7 L451.7,1057.0 L453.5,1056.4 L455.4,1055.8 L457.4,1055.3 L459.3,1054.8 L461.3,1054.4 L463.3,1054.0 L465.3,1053.6 L467.3,1053.2 L469.3,1052.9 L471.3,1052.6 L473.4,1052.2 L475.4,1051.9 L477.4,1051.6 L479.5,1051.3 L481.5,1050.9 L483.5,1050.6 L485.5,1050.2 L487.5,1049.9 L489.5,1049.5 L491.5,1049.2 L493.5,1048.8 L495.5,1048.5 L497.5,1048.1 L499.5,1047.8 L501.4,1047.5 L503.4,1047.2 L505.4,1047.0 L507.4,1046.8 L509.4,1046.6 L511.4,1046.5 L513.3,1046.4 L515.3,1046.4 L517.3,1046.3 L519.3,1046.3 L521.3,1046.3 L523.3,1046.3 L525.3,1046.4 L527.3,1046.4 L529.3,1046.5 L531.3,1046.6 L533.3,1046.7 L535.2,1046.8 L537.2,1046.9 L539.2,1047.0 L541.2,1047.1 L543.2,1047.1 L545.2,1047.2 L547.2,1047.3 L549.2,1047.4 L551.2,1047.5 L553.2,1047.6 L555.2,1047.7 L557.2,1047.8 L559.2,1047.9 L561.2,1048.0 L563.2,1048.0 L565.2,1048.1 L567.2,1048.2 L569.2,1048.3 L571.2,1048.4 L573.2,1048.5 L575.2,1048.6 L577.1,1048.7 L579.1,1048.8 L581.1,1048.8 L583.1,1048.9 L585.1,1049.0 L587.1,1049.1 L589.1,1049.2 L591.1,1049.3 L593.1,1049.4 L595.1,1049.5 L597.1,1049.5 L599.1,1049.6 L601.1,1049.7 L603.1,1049.8 L605.1,1049.9 L607.1,1050.0 L609.1,1050.1 L611.1,1050.1 L613.1,1050.2 L615.1,1050.3 L617.1,1050.4 L619.1,1050.5 L621.1,1050.6 L623.1,1050.7 L625.1,1050.7 L627.1,1050.8 L629.1,1050.9 L631.1,1051.0 L633.1,1051.1 L635.0,1051.2 L637.0,1051.2 L639.0,1051.3 L641.0,1051.4 L643.0,1051.5 L645.0,1051.6 L647.0,1051.7 L649.0,1051.8 L651.0,1051.8 L653.0,1051.9 L655.0,1052.0 L657.0,1052.1 L659.0,1052.2 L661.0,1052.3 L663.0,1052.4 L665.0,1052.5 L667.0,1052.5 L669.0,1052.6 L671.0,1052.7 L673.0,1052.8 L675.0,1052.9 L677.0,1053.0 L679.0,1053.1 L681.0,1053.2 L683.0,1053.2 L685.0,1053.3 L687.0,1053.4 L689.0,1053.5 L691.0,1053.6 L693.0,1053.7 L695.0,1053.8 L697.0,1053.9 L699.0,1054.0 L701.0,1054.0 L703.0,1054.1 L705.0,1054.2 L707.0,1054.3 L709.0,1054.4 L711.0,1054.5 L713.0,1054.6 L715.0,1054.7 L717.0,1054.8 L719.0,1054.9 L721.0,1055.0 L723.0,1055.1 L725.0,1055.1 L727.0,1055.2 L729.0,1055.3 L731.0,1055.4 L733.0,1055.5 L735.0,1055.6 L737.0,1055.7 L739.0,1055.8 L741.0,1055.9 L743.0,1056.0 L745.0,1056.1 L747.0,1056.2 L749.0,1056.3 L751.0,1056.4 L753.0,1056.5 L755.0,1056.6 L757.0,1056.7 L759.0,1056.8 L761.0,1056.9 L763.0,1057.0 L765.0,1057.1 L767.0,1057.2 L769.0,1057.3 L771.0,1057.4 L773.0,1057.5 L775.0,1057.6 L777.0,1057.7 L779.0,1057.8 L781.0,1057.9 L783.0,1058.0 L785.0,1058.2 L787.0,1058.3 L789.0,1058.4 L791.0,1058.5 L793.0,1058.6 L795.0,1058.7 L797.0,1058.8 L799.0,1058.9 L801.0,1059.0 L803.0,1059.1 L805.0,1059.3 L807.0,1059.4 L809.0,1059.5 L811.0,1059.6 L813.0,1059.7 L815.0,1059.8 L817.0,1060.0 L819.0,1060.1 L821.0,1060.2 L823.0,1060.3 L825.0,1060.4 L827.1,1060.6 L829.1,1060.7 L831.1,1060.8 L833.1,1060.9 L835.1,1061.0 L837.1,1061.2 L839.1,1061.3 L841.1,1061.4 L843.1,1061.5 L845.1,1061.7 L847.1,1061.8 L849.1,1061.9 L851.1,1062.0 L853.1,1062.2 L855.1,1062.3 L857.1,1062.4 L859.1,1062.6 L861.1,1062.7 L863.1,1062.8 L865.1,1062.9 L867.1,1063.1 L869.1,1063.2 L871.1,1063.3 L873.1,1063.4 L875.1,1063.6 L877.1,1063.7 L879.1,1063.8 L881.2,1064.0 L883.2,1064.1 L885.2,1064.2 L887.2,1064.3 L889.2,1064.5 L891.2,1064.6 L893.2,1064.7 L895.2,1064.8 L897.2,1065.0 L899.2,1065.1 L901.2,1065.2 L903.2,1065.3 L905.2,1065.5 L907.2,1065.6 L909.2,1065.7 L911.2,1065.8 L913.2,1066.0 L915.2,1066.1 L917.2,1066.2 L919.2,1066.3 L921.2,1066.5 L923.2,1066.6 L925.2,1066.7 L927.2,1066.8 L929.2,1066.9 L931.3,1067.0 L933.3,1067.2 L935.3,1067.3 L937.3,1067.4 L939.3,1067.5 L941.3,1067.6 L943.3,1067.7 L945.3,1067.8 L947.3,1068.0 L949.3,1068.1 L951.3,1068.2 L953.3,1068.3 L955.3,1068.4 L957.3,1068.5 L959.3,1068.6 L961.3,1068.7 L963.3,1068.8 L965.3,1068.9 L967.3,1069.0 L969.3,1069.1 L971.3,1069.2 L973.3,1069.3 L975.3,1069.4 L977.3,1069.5 L979.3,1069.6 L981.3,1069.6 L983.3,1069.7 L985.3,1069.8 L987.3,1069.9 L989.3,1070.0 L991.3,1070.1 L993.3,1070.2 L995.3,1070.2 L997.3,1070.3 L999.3,1070.4 L1001.3,1070.5 L1003.3,1070.5 L1005.3,1070.6 L1007.3,1070.7 L1009.3,1070.7 L1011.3,1070.8 L1013.3,1070.9 L1015.4,1070.9 L1017.4,1071.0 L1019.4,1071.0 L1021.4,1071.1 L1023.4,1071.2 L1025.4,1071.2 L1027.4,1071.3 L1029.4,1071.3 L1031.3,1071.4 L1033.3,1071.4 L1035.3,1071.4 L1037.3,1071.5 L1039.3,1071.5 L1041.3,1071.6 L1043.3,1071.6 L1045.3,1071.6 L1047.3,1071.6 L1049.3,1071.7 L1051.3,1071.7 L1053.3,1071.7 L1055.3,1071.7 L1057.3,1071.7 L1059.3,1071.8 L1061.3,1071.8 L1063.3,1071.8 L1065.3,1071.8 L1067.3,1071.8 L1069.3,1071.8 L1071.3,1071.8 L1073.3,1071.8 L1075.3,1071.8 L1077.3,1071.8 L1079.3,1071.8 L1081.3,1071.7 L1083.3,1071.7 L1085.3,1071.7 L1087.3,1071.7 L1089.3,1071.7 L1091.3,1071.6 L1093.3,1071.6 L1095.3,1071.6 L1097.2,1071.5 L1099.2,1071.5 L1101.2,1071.4 L1103.2,1071.4 L1105.2,1071.3 L1107.2,1071.3 L1109.2,1071.2 L1111.2,1071.2 L1113.2,1071.1 L1115.2,1071.1 L1117.2,1071.0 L1119.2,1070.9 L1121.2,1070.8 L1123.2,1070.8 L1125.1,1070.7 L1127.1,1070.6 L1129.1,1070.5 L1131.1,1070.4 L1133.1,1070.3 L1135.1,1070.2 L1137.1,1070.1 L1139.1,1070.0 L1141.1,1069.9 L1143.1,1069.8 L1145.0,1069.7 L1147.0,1069.6 L1149.0,1069.4 L1151.0,1069.3 L1153.0,1069.2 L1155.0,1069.0 L1157.0,1068.9 L1159.0,1068.8 L1160.9,1068.6 L1162.9,1068.5 L1164.9,1068.3 L1166.9,1068.2 L1168.9,1068.0 L1170.9,1067.8 L1172.9,1067.7 L1174.8,1067.5 L1176.8,1067.3 L1178.8,1067.1 L1180.8,1067.0 L1182.8,1066.8 L1184.8,1066.6 L1186.7,1066.4 L1188.7,1066.2 L1190.7,1066.0 L1192.7,1065.8 L1194.7,1065.6 L1196.7,1065.4 L1198.6,1065.1 L1200.6,1064.9 L1202.6,1064.7 L1204.6,1064.5 L1206.6,1064.2 L1208.5,1064.0 L1210.5,1063.8 L1212.5,1063.5 L1214.5,1063.3 L1216.5,1063.0 L1218.4,1062.8 L1220.4,1062.5 L1222.4,1062.2 L1224.4,1062.0 L1226.3,1061.7 L1228.3,1061.4 L1230.3,1061.1 L1232.3,1060.9 L1234.2,1060.6 L1236.2,1060.3 L1238.2,1060.0 L1240.2,1059.7 L1242.1,1059.4 L1244.1,1059.1 L1246.1,1058.8 L1248.1,1058.4 L1250.0,1058.1 L1252.0,1057.8 L1254.0,1057.5 L1256.0,1057.1 L1257.9,1056.8 L1259.9,1056.4 L1261.9,1056.1 L1263.8,1055.7 L1265.8,1055.4 L1267.8,1055.0 L1269.8,1054.7 L1271.7,1054.3 L1273.7,1053.9 L1275.7,1053.5 L1277.6,1053.2 L1279.6,1052.8 L1281.6,1052.4 L1283.5,1052.0 L1285.5,1051.6 L1287.5,1051.2 L1289.4,1050.8 L1291.4,1050.4 L1293.4,1050.0 L1295.3,1049.5 L1297.3,1049.1 L1299.2,1048.7 L1301.2,1048.2 L1303.2,1047.8 L1305.1,1047.4 L1307.1,1046.9 L1309.1,1046.5 L1311.0,1046.0 L1313.0,1045.5 L1314.9,1045.1 L1316.9,1044.6 L1318.8,1044.1 L1320.8,1043.6 L1322.8,1043.1 L1324.7,1042.6 L1326.7,1042.1 L1328.6,1041.6 L1330.6,1041.1 L1332.5,1040.6 L1334.4,1040.1 L1336.4,1039.6 L1338.3,1039.0 L1340.3,1038.5 L1342.2,1038.0 L1344.1,1037.4 L1346.1,1036.9 L1348.0,1036.3 L1349.9,1035.7 L1351.9,1035.1 L1353.8,1034.6 L1355.7,1034.0 L1357.6,1033.4 L1359.5,1032.8 L1361.5,1032.2 L1363.4,1031.6 L1365.3,1031.0 L1367.2,1030.3 L1369.1,1029.7 L1371.0,1029.1 L1372.9,1028.4 L1374.8,1027.8 L1376.6,1027.1 L1378.5,1026.4 L1380.4,1025.7 L1382.3,1025.1 L1384.2,1024.4 L1386.0,1023.7 L1387.9,1023.0 L1389.7,1022.3 L1391.6,1021.5 L1393.5,1020.8 L1395.3,1020.1 L1397.2,1019.3 L1399.0,1018.6 L1400.8,1017.8 L1402.7,1017.1 L1404.5,1016.3 L1406.3,1015.5 L1408.1,1014.7 L1409.9,1013.9 L1411.7,1013.1 L1413.5,1012.3 L1415.3,1011.5 L1417.1,1010.6 L1418.9,1009.8 L1420.7,1009.0 L1422.5,1008.1 L1424.2,1007.2 L1426.0,1006.4 L1427.8,1005.5 L1429.5,1004.6 L1431.3,1003.7 L1433.0,1002.8 L1434.7,1001.8 L1436.5,1000.9 L1438.2,1000.0 L1439.9,999.0 L1441.6,998.1 L1443.3,997.1 L1445.0,996.2 L1446.7,995.2 L1448.4,994.2 L1450.1,993.2 L1451.8,992.2 L1453.5,991.2 L1455.2,990.2 L1456.9,989.2 L1458.6,988.2 L1460.2,987.2 L1461.9,986.2 L1463.6,985.1 L1465.2,984.1 L1466.9,983.1 L1468.6,982.0 L1470.2,981.0 L1471.9,980.0 L1473.5,978.9 L1475.2,977.9 L1476.9,976.8 L1478.5,975.8 L1480.2,974.7 L1481.8,973.7 L1483.5,972.6 L1485.1,971.6 L1486.8,970.5 L1488.4,969.4 L1490.1,968.4 L1491.7,967.3 L1493.4,966.3 L1495.0,965.2 L1496.7,964.2 L1498.4,963.1 L1500.0,962.0 L1501.7,961.0 L1503.3,959.9 L1505.0,958.9 L1506.7,957.9 L1508.3,956.8 L1510.0,955.8 L1511.7,954.7 L1513.3,953.7 L1515.0,952.7 L1516.7,951.6 L1518.4,950.6 L1520.1,949.5 L1521.7,948.5 L1523.4,947.5 L1525.1,946.5 L1526.8,945.4 L1528.5,944.4 L1530.1,943.4 L1531.8,942.3 L1533.5,941.3 L1535.2,940.3 L1536.9,939.3 L1538.6,938.2 L1540.3,937.2 L1542.0,936.2 L1543.7,935.2 L1545.4,934.2 L1547.1,933.1 L1548.8,932.1 L1550.5,931.1 L1552.1,930.1 L1553.8,929.1 L1555.5,928.1 L1557.3,927.0 L1559.0,926.0 L1560.7,925.0 L1562.4,924.0 L1564.1,923.0 L1565.8,922.0 L1567.5,921.0 L1569.2,919.9 L1570.9,918.9 L1572.6,917.9 L1574.3,916.9 L1576.0,915.9 L1577.7,914.9 L1579.4,913.9 L1581.1,912.8 L1582.9,911.8 L1584.6,910.8 L1586.3,909.8 L1588.0,908.8 L1589.7,907.8 L1591.4,906.7 L1593.1,905.7 L1594.8,904.7 L1596.6,903.7 L1598.3,902.7 L1600.0,901.7 L1601.7,900.6 L1603.4,899.6 L1605.1,898.6 L1606.9,897.6 L1608.6,896.5 L1610.3,895.5 L1612.0,894.5 L1613.7,893.5 L1615.4,892.4 L1617.1,891.4 L1618.9,890.4 L1620.6,889.3 L1622.3,888.3 L1624.0,887.3 L1625.7,886.2 L1627.4,885.2 L1629.2,884.2 L1630.9,883.1 L1632.6,882.1 L1634.3,881.0 L1636.0,880.0 L1637.7,879.0 L1639.4,877.9 L1641.2,876.9 L1642.9,875.8 L1644.6,874.8 L1646.3,873.7 L1648.0,872.6 L1649.7,871.6 L1651.4,870.5 L1653.1,869.5 L1654.8,868.4 L1656.6,867.3 L1658.3,866.3 L1660.0,865.2 L1661.7,864.1 L1663.4,863.0 L1665.1,862.0 L1666.8,860.9 L1668.5,859.8 L1670.2,858.7 L1671.9,857.6 L1673.6,856.6 L1675.3,855.5 L1677.0,854.4 L1678.7,853.3 L1680.4,852.2 L1682.1,851.1 L1683.8,850.0 L1685.4,848.9 L1687.1,847.8 L1688.8,846.7 L1690.5,845.6 L1692.2,844.4 L1693.9,843.3 L1695.5,842.2 L1697.2,841.1 L1698.9,840.0 L1700.6,838.8 L1702.2,837.7 L1703.9,836.6 L1705.6,835.4 L1707.2,834.3 L1708.9,833.2 L1710.6,832.0 L1712.2,830.9 L1713.9,829.7 L1715.5,828.6 L1717.2,827.4 L1718.8,826.3 L1720.5,825.1 L1722.1,823.9 L1723.8,822.8 L1725.4,821.6 L1727.0,820.4 L1728.7,819.3 L1730.3,818.1 L1731.9,816.9 L1733.6,815.7 L1735.2,814.5 L1736.8,813.3 L1738.4,812.1 L1740.0,810.9 L1741.6,809.7 L1743.2,808.5 L1744.8,807.3 L1746.4,806.1 L1748.0,804.9 L1749.6,803.7 L1751.2,802.4 L1752.8,801.2 L1754.4,800.0 L1756.0,798.8 L1757.6,797.5 L1759.1,796.3 L1760.7,795.0 L1762.3,793.8 L1763.8,792.5 L1765.4,791.3 L1766.9,790.0 L1768.5,788.8 L1770.0,787.5 L1771.6,786.2 L1773.1,784.9 L1774.7,783.7 L1776.2,782.4 L1777.7,781.1 L1779.2,779.8 L1780.8,778.5 L1782.3,777.2 L1783.8,775.9 L1785.3,774.6 L1786.8,773.3 L1788.3,772.0 L1789.8,770.6 L1791.3,769.3 L1792.7,768.0 L1794.2,766.7 L1795.7,765.3 L1797.2,764.0 L1798.6,762.6 L1800.1,761.3 L1801.5,759.9 L1803.0,758.6 L1804.4,757.2 L1805.9,755.8 L1807.3,754.5 L1808.7,753.1 L1810.2,751.7 L1811.6,750.3 L1813.0,748.9 L1814.4,747.5 L1815.8,746.1 L1817.2,744.7 L1818.6,743.3 L1820.0,741.9 L1821.4,740.5 L1822.7,739.1 L1824.1,737.6 L1825.5,736.2 L1826.8,734.8 L1828.2,733.3 L1829.5,731.9 L1830.9,730.4 L1832.2,729.0 L1833.5,727.5 L1834.8,726.0 L1836.2,724.6 L1837.5,723.1 L1838.8,721.6 L1840.1,720.1 L1841.4,718.6 L1842.7,717.1 L1843.9,715.6 L1845.2,714.1 L1846.5,712.6 L1847.7,711.0 L1849.0,709.5 L1850.2,708.0 L1851.5,706.5 L1852.7,704.9 L1853.9,703.4 L1855.2,701.8 L1856.4,700.2 L1857.6,698.7 L1858.8,697.1 L1860.0,695.5 L1861.2,694.0 L1862.3,692.4 L1863.5,690.8 L1864.7,689.2 L1865.8,687.6 L1867.0,686.0 L1868.1,684.3 L1869.3,682.7 L1870.4,681.1 L1871.5,679.5 L1872.6,677.8 L1873.7,676.2 L1874.8,674.5 L1875.9,672.9 L1877.0,671.2 L1878.1,669.5 L1879.2,667.9 L1880.2,666.2 L1881.3,664.5 L1882.3,662.8 L1883.4,661.1 L1884.4,659.4 L1885.4,657.7 L1886.4,655.9 L1887.4,654.2 L1888.4,652.5 L1889.4,650.8 L1890.4,649.0 L1891.4,647.3 L1892.4,645.5 L1893.3,643.7 L1894.3,642.0 L1895.2,640.2 L1896.2,638.4 L1897.1,636.6 L1898.0,634.9 L1898.9,633.1 L1899.8,631.3 L1900.7,629.5 L1901.6,627.7 L1902.5,625.8 L1903.4,624.0 L1904.3,622.2 L1905.1,620.4 L1906.0,618.6 L1906.9,616.7 L1907.7,614.9 L1908.5,613.0 L1909.4,611.2 L1910.2,609.3 L1911.0,607.5 L1911.8,605.6 L1912.7,603.8 L1913.5,601.9 L1914.3,600.0 L1915.0,598.1 L1915.8,596.3 L1916.6,594.4 L1917.4,592.5 L1918.2,590.6 L1918.9,588.7 L1919.7,586.8 L1920.4,584.9 L1921.2,583.0 L1921.9,581.1 L1922.6,579.2 L1923.4,577.3 L1924.1,575.4 L1924.8,573.5 L1925.5,571.6 L1926.2,569.6 L1926.9,567.7 L1927.6,565.8 L1928.3,563.9 L1929.0,561.9 L1929.7,560.0 L1930.4,558.1 L1931.0,556.1 L1931.7,554.2 L1932.4,552.3 L1933.0,550.3 L1933.7,548.4 L1934.3,546.4 L1935.0,544.5 L1935.6,542.6 L1936.2,540.6 L1936.9,538.7 L1937.5,536.7 L1938.1,534.8 L1938.7,532.8 L1939.4,530.9 L1940.0,528.9 L1940.6,527.0 L1941.2,525.0 L1941.8,523.1 L1942.4,521.1 L1943.0,519.1 L1943.6,517.2 L1944.1,515.2 L1944.7,513.3 L1945.3,511.3 L1945.9,509.4 L1946.4,507.4 L1947.0,505.5 L1947.6,503.5 L1948.1,501.6 L1948.7,499.6 L1949.3,497.7 L1949.8,495.7 L1950.4,493.7 L1950.9,491.8 L1951.4,489.8 L1952.0,487.9 L1952.5,486.0 L1953.1,484.0 L1953.6,482.1 L1954.1,480.1 L1954.6,478.2 L1955.2,476.2 L1955.7,474.3 L1956.2,472.4 L1956.7,470.4 L1957.2,468.5 L1957.8,466.5 L1958.3,464.6 L1958.8,462.7 L1959.3,460.8 L1959.8,458.8 L1960.3,456.9 L1960.8,455.0 L1961.3,453.1 L1961.8,451.2 L1962.3,449.2 L1962.8,447.3 L1963.3,445.4 L1963.8,443.5 L1964.3,441.6 L1964.8,439.7 L1965.2,437.8 L1965.7,435.9 L1966.2,434.0 L1966.7,432.2 L1967.2,430.3 L1967.7,428.4 L1968.1,426.5 L1968.6,424.6 L1969.1,422.8 L1969.6,420.9 L1970.1,419.1 L1970.5,417.2 L1971.0,415.3 L1971.5,413.5 L1972.0,411.7 L1972.5,409.8 L1972.9,408.0 L1973.4,406.1 L1973.9,404.3 L1974.4,402.5 L1974.8,400.7 L1975.3,398.9"/>
<path stroke="#E3DB33" d="M359.7,1343.9 L359.7,1341.9 L359.8,1339.9 L359.8,1338.0 L359.9,1336.0 L360.0,1334.0 L360.0,1332.0 L360.1,1330.0 L360.1,1328.0 L360.2,1326.0 L360.3,1324.1 L360.3,1322.1 L360.4,1320.1 L360.5,1318.1 L360.6,1316.1 L360.6,1314.1 L360.7,1312.1 L360.8,1310.1 L360.9,1308.1 L361.0,1306.1 L361.0,1304.1 L361.1,1302.1 L361.2,1300.1 L361.3,1298.1 L361.4,1296.1 L361.5,1294.1 L361.6,1292.1 L361.8,1290.1 L361.9,1288.0 L362.0,1286.0 L362.1,1284.0 L362.2,1282.0 L362.4,1280.0 L362.5,1278.0 L362.6,1276.0 L362.8,1274.0 L362.9,1272.0 L363.1,1270.0 L363.2,1268.0 L363.4,1266.0 L363.6,1264.0 L363.7,1262.0 L363.9,1260.0 L364.1,1258.0 L364.3,1256.0 L364.5,1254.0 L364.7,1252.0 L364.9,1250.0 L365.1,1248.0 L365.3,1246.0 L365.5,1244.0 L365.8,1242.0 L366.0,1240.0 L366.2,1238.0 L366.5,1236.0 L366.8,1234.0 L367.0,1232.0 L367.3,1230.1 L367.6,1228.1 L367.9,1226.1 L368.2,1224.1 L368.5,1222.1 L368.8,1220.2 L369.1,1218.2 L369.4,1216.2 L369.7,1214.2 L370.1,1212.3 L370.4,1210.3 L370.8,1208.3 L371.2,1206.4 L371.5,1204.4 L371.9,1202.5 L372.3,1200.5 L372.7,1198.6 L373.1,1196.6 L373.5,1194.7 L374.0,1192.7 L374.4,1190.8 L374.9,1188.9 L375.3,1186.9 L375.8,1185.0 L376.3,1183.1 L376.8,1181.2 L377.3,1179.2 L377.8,1177.3 L378.3,1175.4 L378.8,1173.5 L379.4,1171.6 L379.9,1169.7 L380.5,1167.8 L381.0,1165.9 L381.6,1164.0 L382.2,1162.1 L382.8,1160.2 L383.4,1158.3 L384.1,1156.4 L384.7,1154.6 L385.4,1152.7 L386.0,1150.8 L386.7,1148.9 L387.4,1147.1 L388.1,1145.2 L388.8,1143.3 L389.5,1141.4 L390.2,1139.6 L390.9,1137.7 L391.7,1135.9 L392.4,1134.0 L393.2,1132.1 L394.0,1130.3 L394.8,1128.4 L395.6,1126.6 L396.4,1124.7 L397.2,1122.8 L398.1,1121.0 L398.9,1119.1 L399.8,1117.3 L400.6,1115.4 L401.5,1113.6 L402.4,1111.7 L403.3,1109.9 L404.2,1108.0 L405.2,1106.2 L406.1,1104.4 L407.1,1102.5 L408.1,1100.7 L409.1,1098.9 L410.1,1097.1 L411.2,1095.4 L412.2,1093.6 L413.3,1091.9 L414.4,1090.2 L415.6,1088.5 L416.8,1086.9 L418.0,1085.3 L419.2,1083.7 L420.5,1082.1 L421.8,1080.6 L423.1,1079.1 L424.5,1077.7 L425.9,1076.3 L427.3,1074.9 L428.7,1073.6 L430.2,1072.3 L431.7,1071.1 L433.3,1069.9 L434.9,1068.7 L436.5,1067.6 L438.1,1066.6 L439.8,1065.6 L441.5,1064.6 L443.2,1063.7 L444.9,1062.9 L446.7,1062.0 L448.5,1061.3 L450.3,1060.6 L452.1,1060.0 L454.0,1059.4 L455.9,1058.8 L457.8,1058.4 L459.7,1057.9 L461.6,1057.5 L463.6,1057.1 L465.5,1056.8 L467.5,1056.5 L469.5,1056.2 L471.4,1055.9 L473.4,1055.6 L475.4,1055.3 L477.3,1055.0 L479.3,1054.8 L481.3,1054.5 L483.3,1054.3 L485.2,1054.0 L487.2,1053.8 L489.2,1053.6 L491.2,1053.4 L493.2,1053.2 L495.2,1053.0 L497.1,1052.8 L499.1,1052.6 L501.1,1052.4 L503.1,1052.3 L505.1,1052.1 L507.1,1051.9 L509.1,1051.8 L511.1,1051.6 L513.1,1051.5 L515.1,1051.4 L517.0,1051.3 L519.0,1051.1 L521.0,1051.0 L523.0,1050.9 L525.0,1050.8 L527.0,1050.8 L529.0,1050.7 L531.0,1050.6 L533.0,1050.5 L535.0,1050.5 L537.0,1050.4 L539.0,1050.3 L541.1,1050.3 L543.1,1050.2 L545.1,1050.2 L547.1,1050.2 L549.1,1050.1 L551.1,1050.1 L553.1,1050.1 L555.1,1050.1 L557.1,1050.1 L559.1,1050.1 L561.1,1050.1 L563.1,1050.1 L565.1,1050.1 L567.2,1050.1 L569.2,1050.1 L571.2,1050.2 L573.2,1050.2 L575.2,1050.2 L577.2,1050.3 L579.2,1050.3 L581.2,1050.3 L583.3,1050.4 L585.3,1050.4 L587.3,1050.5 L589.3,1050.5 L591.3,1050.6 L593.3,1050.7 L595.3,1050.7 L597.4,1050.8 L599.4,1050.9 L601.4,1050.9 L603.4,1051.0 L605.4,1051.1 L607.4,1051.2 L609.4,1051.3 L611.5,1051.4 L613.5,1051.5 L615.5,1051.5 L617.5,1051.6 L619.5,1051.7 L621.5,1051.8 L623.6,1051.9 L625.6,1052.0 L627.6,1052.2 L629.6,1052.3 L631.6,1052.4 L633.6,1052.5 L635.6,1052.6 L637.6,1052.7 L639.7,1052.8 L641.7,1052.9 L643.7,1053.0 L645.7,1053.2 L647.7,1053.3 L649.7,1053.4 L651.7,1053.5 L653.7,1053.6 L655.8,1053.7 L657.8,1053.9 L659.8,1054.0 L661.8,1054.1 L663.8,1054.2 L665.8,1054.3 L667.8,1054.5 L669.8,1054.6 L671.8,1054.7 L673.8,1054.8 L675.8,1055.0 L677.8,1055.1 L679.8,1055.2 L681.8,1055.3 L683.8,1055.4 L685.8,1055.6 L687.8,1055.7 L689.8,1055.8 L691.8,1055.9 L693.8,1056.0 L695.8,1056.2 L697.8,1056.3 L699.8,1056.4 L701.8,1056.5 L703.8,1056.7 L705.8,1056.8 L707.8,1056.9 L709.8,1057.0 L711.8,1057.1 L713.8,1057.3 L715.8,1057.4 L717.8,1057.5 L719.8,1057.6 L721.8,1057.8 L723.8,1057.9 L725.8,1058.0 L727.8,1058.1 L729.8,1058.2 L731.8,1058.4 L733.8,1058.5 L735.8,1058.6 L737.8,1058.7 L739.7,1058.9 L741.7,1059.0 L743.7,1059.1 L745.7,1059.2 L747.7,1059.3 L749.7,1059.5 L751.7,1059.6 L753.7,1059.7 L755.7,1059.8 L757.7,1059.9 L759.7,1060.1 L761.6,1060.2 L763.6,1060.3 L765.6,1060.4 L767.6,1060.5 L769.6,1060.7 L771.6,1060.8 L773.6,1060.9 L775.6,1061.0 L777.6,1061.1 L779.6,1061.3 L781.5,1061.4 L783.5,1061.5 L785.5,1061.6 L787.5,1061.7 L789.5,1061.8 L791.5,1062.0 L793.5,1062.1 L795.5,1062.2 L797.4,1062.3 L799.4,1062.4 L801.4,1062.5 L803.4,1062.7 L805.4,1062.8 L807.4,1062.9 L809.4,1063.0 L811.4,1063.1 L813.3,1063.2 L815.3,1063.3 L817.3,1063.5 L819.3,1063.6 L821.3,1063.7 L823.3,1063.8 L825.3,1063.9 L827.2,1064.0 L829.2,1064.1 L831.2,1064.2 L833.2,1064.4 L835.2,1064.5 L837.2,1064.6 L839.2,1064.7 L841.2,1064.8 L843.1,1064.9 L845.1,1065.0 L847.1,1065.1 L849.1,1065.2 L851.1,1065.3 L853.1,1065.4 L855.1,1065.5 L857.1,1065.6 L859.0,1065.7 L861.0,1065.8 L863.0,1066.0 L865.0,1066.1 L867.0,1066.2 L869.0,1066.3 L871.0,1066.4 L873.0,1066.5 L875.0,1066.6 L876.9,1066.7 L878.9,1066.8 L880.9,1066.9 L882.9,1067.0 L884.9,1067.1 L886.9,1067.2 L888.9,1067.2 L890.9,1067.3 L892.9,1067.4 L894.9,1067.5 L896.8,1067.6 L898.8,1067.7 L900.8,1067.8 L902.8,1067.9 L904.8,1068.0 L906.8,1068.1 L908.8,1068.2 L910.8,1068.3 L912.8,1068.4 L914.8,1068.4 L916.8,1068.5 L918.8,1068.6 L920.8,1068.7 L922.8,1068.8 L924.8,1068.9 L926.8,1069.0 L928.7,1069.0 L930.7,1069.1 L932.7,1069.2 L934.7,1069.3 L936.7,1069.4 L938.7,1069.5 L940.7,1069.5 L942.7,1069.6 L944.7,1069.7 L946.7,1069.8 L948.7,1069.8 L950.7,1069.9 L952.7,1070.0 L954.7,1070.1 L956.7,1070.1 L958.7,1070.2 L960.7,1070.3 L962.7,1070.4 L964.7,1070.4 L966.7,1070.5 L968.8,1070.6 L970.8,1070.6 L972.8,1070.7 L974.8,1070.8 L976.8,1070.8 L978.8,1070.9 L980.8,1070.9 L982.8,1071.0 L984.8,1071.1 L986.8,1071.1 L988.8,1071.2 L990.8,1071.2 L992.8,1071.3 L994.9,1071.4 L996.9,1071.4 L998.9,1071.5 L1000.9,1071.5 L1002.9,1071.6 L1004.9,1071.6 L1006.9,1071.7 L1008.9,1071.7 L1011.0,1071.8 L1013.0,1071.8 L1015.0,1071.9 L1017.0,1071.9 L1019.0,1072.0 L1021.0,1072.0 L1023.1,1072.0 L1025.1,1072.1 L1027.1,1072.1 L1029.1,1072.2 L1031.1,1072.2 L1033.2,1072.2 L1035.2,1072.3 L1037.2,1072.3 L1039.2,1072.3 L1041.2,1072.3 L1043.3,1072.4 L1045.3,1072.4 L1047.3,1072.4 L1049.3,1072.4 L1051.3,1072.4 L1053.4,1072.5 L1055.4,1072.5 L1057.4,1072.5 L1059.4,1072.5 L1061.5,1072.5 L1063.5,1072.5 L1065.5,1072.5 L1067.5,1072.5 L1069.5,1072.5 L1071.6,1072.5 L1073.6,1072.5 L1075.6,1072.5 L1077.6,1072.5 L1079.7,1072.5 L1081.7,1072.4 L1083.7,1072.4 L1085.7,1072.4 L1087.7,1072.4 L1089.8,1072.4 L1091.8,1072.3 L1093.8,1072.3 L1095.8,1072.3 L1097.8,1072.2 L1099.9,1072.2 L1101.9,1072.1 L1103.9,1072.1 L1105.9,1072.0 L1107.9,1072.0 L1109.9,1071.9 L1112.0,1071.9 L1114.0,1071.8 L1116.0,1071.7 L1118.0,1071.7 L1120.0,1071.6 L1122.0,1071.5 L1124.1,1071.4 L1126.1,1071.3 L1128.1,1071.3 L1130.1,1071.2 L1132.1,1071.1 L1134.1,1071.0 L1136.1,1070.9 L1138.1,1070.8 L1140.1,1070.7 L1142.1,1070.6 L1144.2,1070.4 L1146.2,1070.3 L1148.2,1070.2 L1150.2,1070.1 L1152.2,1069.9 L1154.2,1069.8 L1156.2,1069.7 L1158.2,1069.5 L1160.2,1069.4 L1162.2,1069.2 L1164.2,1069.1 L1166.2,1068.9 L1168.2,1068.7 L1170.2,1068.6 L1172.2,1068.4 L1174.2,1068.2 L1176.2,1068.0 L1178.2,1067.8 L1180.1,1067.6 L1182.1,1067.5 L1184.1,1067.3 L1186.1,1067.0 L1188.1,1066.8 L1190.1,1066.6 L1192.1,1066.4 L1194.1,1066.2 L1196.0,1066.0 L1198.0,1065.7 L1200.0,1065.5 L1202.0,1065.2 L1203.9,1065.0 L1205.9,1064.7 L1207.9,1064.5 L1209.9,1064.2 L1211.8,1063.9 L1213.8,1063.7 L1215.8,1063.4 L1217.8,1063.1 L1219.7,1062.8 L1221.7,1062.5 L1223.6,1062.2 L1225.6,1061.9 L1227.6,1061.6 L1229.5,1061.3 L1231.5,1060.9 L1233.4,1060.6 L1235.4,1060.3 L1237.3,1059.9 L1239.3,1059.6 L1241.2,1059.2 L1243.2,1058.9 L1245.1,1058.5 L1247.1,1058.2 L1249.0,1057.8 L1251.0,1057.4 L1252.9,1057.0 L1254.8,1056.6 L1256.8,1056.2 L1258.7,1055.8 L1260.6,1055.4 L1262.6,1055.0 L1264.5,1054.6 L1266.4,1054.1 L1268.4,1053.7 L1270.3,1053.2 L1272.2,1052.8 L1274.1,1052.3 L1276.0,1051.9 L1278.0,1051.4 L1279.9,1050.9 L1281.8,1050.4 L1283.7,1049.9 L1285.6,1049.5 L1287.5,1048.9 L1289.4,1048.4 L1291.3,1047.9 L1293.2,1047.4 L1295.1,1046.9 L1297.0,1046.3 L1298.9,1045.8 L1300.8,1045.2 L1302.7,1044.7 L1304.5,1044.1 L1306.4,1043.5 L1308.3,1043.0 L1310.2,1042.4 L1312.1,1041.8 L1313.9,1041.2 L1315.8,1040.6 L1317.7,1039.9 L1319.5,1039.3 L1321.4,1038.7 L1323.3,1038.0 L1325.1,1037.4 L1327.0,1036.7 L1328.8,1036.1 L1330.7,1035.4 L1332.5,1034.7 L1334.4,1034.0 L1336.2,1033.4 L1338.1,1032.7 L1339.9,1031.9 L1341.8,1031.2 L1343.6,1030.5 L1345.4,1029.8 L1347.2,1029.0 L1349.1,1028.3 L1350.9,1027.5 L1352.7,1026.8 L1354.5,1026.0 L1356.3,1025.2 L1358.2,1024.4 L1360.0,1023.6 L1361.8,1022.8 L1363.6,1022.0 L1365.4,1021.2 L1367.2,1020.3 L1369.0,1019.5 L1370.8,1018.6 L1372.6,1017.8 L1374.3,1016.9 L1376.1,1016.0 L1377.9,1015.2 L1379.7,1014.3 L1381.5,1013.4 L1383.2,1012.5 L1385.0,1011.5 L1386.8,1010.6 L1388.5,1009.7 L1390.3,1008.8 L1392.1,1007.8 L1393.8,1006.9 L1395.6,1005.9 L1397.3,1004.9 L1399.1,1004.0 L1400.8,1003.0 L1402.5,1002.0 L1404.3,1001.0 L1406.0,1000.0 L1407.8,999.0 L1409.5,998.0 L1411.2,996.9 L1412.9,995.9 L1414.7,994.9 L1416.4,993.8 L1418.1,992.8 L1419.8,991.7 L1421.5,990.7 L1423.2,989.6 L1424.9,988.5 L1426.6,987.5 L1428.3,986.4 L1430.0,985.3 L1431.7,984.2 L1433.4,983.1 L1435.1,982.0 L1436.8,980.9 L1438.5,979.8 L1440.2,978.6 L1441.9,977.5 L1443.5,976.4 L1445.2,975.3 L1446.9,974.1 L1448.5,973.0 L1450.2,971.8 L1451.9,970.7 L1453.5,969.5 L1455.2,968.4 L1456.9,967.2 L1458.5,966.0 L1460.2,964.9 L1461.8,963.7 L1463.5,962.5 L1465.1,961.3 L1466.7,960.1 L1468.4,958.9 L1470.0,957.8 L1471.6,956.6 L1473.3,955.4 L1474.9,954.2 L1476.5,952.9 L1478.2,951.7 L1479.8,950.5 L1481.4,949.3 L1483.0,948.1 L1484.6,946.9 L1486.2,945.7 L1487.9,944.4 L1489.5,943.2 L1491.1,942.0 L1492.7,940.7 L1494.3,939.5 L1495.9,938.3 L1497.5,937.0 L1499.0,935.8 L1500.6,934.6 L1502.2,933.3 L1503.8,932.1 L1505.4,930.8 L1507.0,929.6 L1508.6,928.3 L1510.1,927.1 L1511.7,925.8 L1513.3,924.6 L1514.8,923.4 L1516.4,922.1 L1518.0,920.8 L1519.5,919.6 L1521.1,918.3 L1522.7,917.1 L1524.2,915.8 L1525.8,914.6 L1527.3,913.3 L1528.9,912.1 L1530.4,910.8 L1532.0,909.6 L1533.5,908.3 L1535.1,907.1 L1536.6,905.8 L1538.1,904.5 L1539.7,903.3 L1541.2,902.0 L1542.8,900.8 L1544.3,899.5 L1545.8,898.3 L1547.3,897.0 L1548.9,895.8 L1550.4,894.5 L1551.9,893.2 L1553.5,892.0 L1555.0,890.7 L1556.5,889.5 L1558.0,888.2 L1559.6,887.0 L1561.1,885.7 L1562.6,884.5 L1564.1,883.2 L1565.7,882.0 L1567.2,880.7 L1568.7,879.4 L1570.2,878.2 L1571.8,876.9 L1573.3,875.7 L1574.8,874.4 L1576.3,873.2 L1577.9,871.9 L1579.4,870.7 L1580.9,869.4 L1582.4,868.2 L1584.0,866.9 L1585.5,865.7 L1587.0,864.4 L1588.5,863.2 L1590.1,861.9 L1591.6,860.7 L1593.1,859.5 L1594.7,858.2 L1596.2,857.0 L1597.7,855.7 L1599.3,854.5 L1600.8,853.2 L1602.3,852.0 L1603.9,850.8 L1605.4,849.5 L1607.0,848.3 L1608.5,847.0 L1610.0,845.8 L1611.6,844.6 L1613.1,843.3 L1614.7,842.1 L1616.2,840.9 L1617.8,839.6 L1619.4,838.4 L1620.9,837.2 L1622.5,835.9 L1624.0,834.7 L1625.6,833.5 L1627.2,832.3 L1628.7,831.0 L1630.3,829.8 L1631.9,828.6 L1633.5,827.4 L1635.0,826.1 L1636.6,824.9 L1638.2,823.7 L1639.8,822.5 L1641.4,821.3 L1643.0,820.0 L1644.6,818.8 L1646.1,817.6 L1647.7,816.4 L1649.3,815.2 L1650.9,814.0 L1652.5,812.7 L1654.1,811.5 L1655.7,810.3 L1657.3,809.1 L1658.9,807.9 L1660.5,806.7 L1662.1,805.5 L1663.7,804.2 L1665.3,803.0 L1666.9,801.8 L1668.5,800.6 L1670.1,799.4 L1671.7,798.2 L1673.3,797.0 L1675.0,795.7 L1676.6,794.5 L1678.2,793.3 L1679.8,792.1 L1681.4,790.9 L1683.0,789.7 L1684.6,788.4 L1686.2,787.2 L1687.8,786.0 L1689.4,784.8 L1691.0,783.6 L1692.6,782.3 L1694.3,781.1 L1695.9,779.9 L1697.5,778.7 L1699.1,777.5 L1700.7,776.2 L1702.3,775.0 L1703.9,773.8 L1705.5,772.6 L1707.1,771.3 L1708.7,770.1 L1710.3,768.9 L1711.9,767.6 L1713.5,766.4 L1715.1,765.2 L1716.7,763.9 L1718.3,762.7 L1719.9,761.5 L1721.5,760.2 L1723.1,759.0 L1724.7,757.8 L1726.3,756.5 L1727.9,755.3 L1729.5,754.0 L1731.1,752.8 L1732.7,751.5 L1734.2,750.3 L1735.8,749.0 L1737.4,747.8 L1739.0,746.5 L1740.6,745.3 L1742.2,744.0 L1743.7,742.7 L1745.3,741.5 L1746.9,740.2 L1748.4,739.0 L1750.0,737.7 L1751.6,736.4 L1753.1,735.1 L1754.7,733.9 L1756.3,732.6 L1757.8,731.3 L1759.4,730.0 L1760.9,728.7 L1762.5,727.5 L1764.0,726.2 L1765.6,724.9 L1767.1,723.6 L1768.6,722.3 L1770.2,721.0 L1771.7,719.7 L1773.2,718.4 L1774.8,717.1 L1776.3,715.8 L1777.8,714.4 L1779.3,713.1 L1780.8,711.8 L1782.3,710.5 L1783.8,709.2 L1785.3,707.8 L1786.8,706.5 L1788.3,705.2 L1789.8,703.8 L1791.3,702.5 L1792.8,701.2 L1794.3,699.8 L1795.8,698.5 L1797.2,697.1 L1798.7,695.8 L1800.2,694.4 L1801.6,693.0 L1803.1,691.7 L1804.5,690.3 L1806.0,688.9 L1807.4,687.6 L1808.9,686.2 L1810.3,684.8 L1811.7,683.4 L1813.2,682.0 L1814.6,680.6 L1816.0,679.2 L1817.4,677.8 L1818.8,676.4 L1820.2,675.0 L1821.6,673.6 L1823.0,672.2 L1824.4,670.7 L1825.8,669.3 L1827.2,667.9 L1828.6,666.5 L1829.9,665.0 L1831.3,663.6 L1832.7,662.1 L1834.0,660.7 L1835.4,659.2 L1836.7,657.8 L1838.0,656.3 L1839.4,654.8 L1840.7,653.4 L1842.0,651.9 L1843.3,650.4 L1844.6,648.9 L1845.9,647.4 L1847.2,645.9 L1848.5,644.4 L1849.8,642.9 L1851.1,641.4 L1852.4,639.9 L1853.6,638.4 L1854.9,636.8 L1856.2,635.3 L1857.4,633.8 L1858.7,632.2 L1859.9,630.7 L1861.1,629.1 L1862.3,627.6 L1863.6,626.0 L1864.8,624.5 L1866.0,622.9 L1867.2,621.3 L1868.4,619.7 L1869.5,618.1 L1870.7,616.5 L1871.9,614.9 L1873.0,613.3 L1874.2,611.7 L1875.3,610.1 L1876.5,608.5 L1877.6,606.9 L1878.7,605.2 L1879.9,603.6 L1881.0,602.0 L1882.1,600.3 L1883.2,598.7 L1884.3,597.0 L1885.4,595.3 L1886.4,593.7 L1887.5,592.0 L1888.6,590.3 L1889.6,588.6 L1890.7,586.9 L1891.7,585.2 L1892.7,583.5 L1893.8,581.8 L1894.8,580.1 L1895.8,578.4 L1896.8,576.7 L1897.8,575.0 L1898.8,573.2 L1899.8,571.5 L1900.8,569.8 L1901.8,568.0 L1902.7,566.3 L1903.7,564.5 L1904.6,562.8 L1905.6,561.0 L1906.5,559.3 L1907.5,557.5 L1908.4,555.7 L1909.3,553.9 L1910.3,552.2 L1911.2,550.4 L1912.1,548.6 L1913.0,546.8 L1913.9,545.0 L1914.7,543.2 L1915.6,541.4 L1916.5,539.6 L1917.4,537.8 L1918.2,536.0 L1919.1,534.2 L1919.9,532.4 L1920.8,530.5 L1921.6,528.7 L1922.5,526.9 L1923.3,525.1 L1924.1,523.2 L1924.9,521.4 L1925.7,519.5 L1926.5,517.7 L1927.3,515.9 L1928.1,514.0 L1928.9,512.2 L1929.7,510.3 L1930.5,508.4 L1931.2,506.6 L1932.0,504.7 L1932.8,502.9 L1933.5,501.0 L1934.3,499.1 L1935.0,497.3 L1935.8,495.4 L1936.5,493.5 L1937.2,491.6 L1937.9,489.7 L1938.6,487.9 L1939.4,486.0 L1940.1,484.1 L1940.8,482.2 L1941.5,480.3 L1942.1,478.4 L1942.8,476.5 L1943.5,474.6 L1944.2,472.7 L1944.9,470.8 L1945.5,468.9 L1946.2,467.0 L1946.8,465.1 L1947.5,463.2 L1948.1,461.3 L1948.8,459.4 L1949.4,457.5 L1950.0,455.6 L1950.7,453.7 L1951.3,451.8 L1951.9,449.8 L1952.5,447.9 L1953.1,446.0 L1953.7,444.1 L1954.3,442.2 L1954.9,440.3 L1955.5,438.3 L1956.1,436.4 L1956.7,434.5 L1957.2,432.6 L1957.8,430.6 L1958.4,428.7 L1958.9,426.8 L1959.5,424.9 L1960.0,423.0 L1960.6,421.0 L1961.1,419.1 L1961.7,417.2 L1962.2,415.3 L1962.7,413.3 L1963.3,411.4 L1963.8,409.5 L1964.3,407.6 L1964.8,405.6 L1965.3,403.7 L1965.8,401.8 L1966.3,399.9 L1966.8,397.9 L1967.3,396.0 L1967.8,394.1 L1968.3,392.2 L1968.8,390.3 L1969.3,388.3 L1969.8,386.4 L1970.2,384.5 L1970.7,382.6 L1971.2,380.7 L1971.6,378.8 L1972.1,376.8 L1972.5,374.9 L1973.0,373.0 L1973.4,371.1 L1973.9,369.2 L1974.3,367.3 M571,1052.3 L580.5,1044 L590,1052.8"/>
<path stroke="#A0E535" d="M359.6,1333.9 L359.6,1331.9 L359.7,1330.0 L359.8,1328.0 L359.9,1326.0 L360.0,1324.0 L360.1,1322.0 L360.2,1320.0 L360.3,1318.1 L360.4,1316.1 L360.5,1314.1 L360.5,1312.1 L360.6,1310.1 L360.7,1308.1 L360.8,1306.1 L360.9,1304.1 L361.0,1302.1 L361.1,1300.1 L361.2,1298.1 L361.3,1296.1 L361.4,1294.1 L361.5,1292.1 L361.6,1290.1 L361.7,1288.1 L361.9,1286.1 L362.0,1284.1 L362.1,1282.1 L362.2,1280.1 L362.3,1278.1 L362.5,1276.0 L362.6,1274.0 L362.7,1272.0 L362.9,1270.0 L363.0,1268.0 L363.2,1266.0 L363.3,1264.0 L363.5,1262.0 L363.7,1260.0 L363.8,1258.0 L364.0,1256.0 L364.2,1254.0 L364.4,1252.0 L364.6,1250.0 L364.8,1248.0 L365.0,1246.0 L365.2,1244.0 L365.4,1242.0 L365.6,1240.0 L365.9,1238.0 L366.1,1236.0 L366.4,1234.0 L366.6,1232.0 L366.9,1230.0 L367.1,1228.1 L367.4,1226.1 L367.7,1224.1 L368.0,1222.1 L368.3,1220.1 L368.6,1218.2 L368.9,1216.2 L369.2,1214.2 L369.6,1212.2 L369.9,1210.3 L370.3,1208.3 L370.6,1206.3 L371.0,1204.4 L371.4,1202.4 L371.8,1200.5 L372.2,1198.5 L372.6,1196.6 L373.0,1194.6 L373.4,1192.7 L373.9,1190.7 L374.3,1188.8 L374.8,1186.9 L375.3,1184.9 L375.8,1183.0 L376.3,1181.1 L376.8,1179.1 L377.3,1177.2 L377.8,1175.3 L378.4,1173.4 L378.9,1171.5 L379.5,1169.6 L380.1,1167.7 L380.7,1165.8 L381.3,1163.9 L381.9,1162.0 L382.5,1160.1 L383.2,1158.2 L383.8,1156.3 L384.5,1154.5 L385.2,1152.6 L385.9,1150.7 L386.5,1148.8 L387.3,1147.0 L388.0,1145.1 L388.7,1143.2 L389.4,1141.4 L390.2,1139.5 L391.0,1137.7 L391.7,1135.8 L392.5,1134.0 L393.3,1132.1 L394.1,1130.3 L394.9,1128.4 L395.8,1126.6 L396.6,1124.8 L397.4,1122.9 L398.3,1121.1 L399.2,1119.3 L400.1,1117.4 L400.9,1115.6 L401.8,1113.8 L402.8,1112.0 L403.7,1110.2 L404.6,1108.3 L405.6,1106.5 L406.5,1104.7 L407.5,1102.9 L408.5,1101.2 L409.5,1099.4 L410.6,1097.7 L411.6,1095.9 L412.7,1094.2 L413.8,1092.5 L415.0,1090.9 L416.1,1089.2 L417.3,1087.6 L418.5,1086.0 L419.8,1084.4 L421.0,1082.9 L422.4,1081.4 L423.7,1079.9 L425.1,1078.4 L426.5,1077.0 L427.9,1075.7 L429.4,1074.3 L430.9,1073.0 L432.4,1071.8 L434.0,1070.6 L435.6,1069.4 L437.2,1068.3 L438.8,1067.2 L440.5,1066.2 L442.2,1065.2 L443.9,1064.3 L445.7,1063.5 L447.5,1062.7 L449.3,1061.9 L451.1,1061.2 L453.0,1060.6 L454.9,1060.0 L456.8,1059.5 L458.7,1059.1 L460.7,1058.7 L462.7,1058.3 L464.6,1057.9 L466.6,1057.6 L468.6,1057.3 L470.6,1057.0 L472.6,1056.8 L474.6,1056.5 L476.6,1056.2 L478.6,1056.0 L480.6,1055.8 L482.6,1055.5 L484.6,1055.3 L486.6,1055.1 L488.6,1054.9 L490.5,1054.7 L492.5,1054.5 L494.5,1054.3 L496.5,1054.1 L498.5,1053.9 L500.5,1053.8 L502.5,1053.6 L504.5,1053.5 L506.5,1053.3 L508.5,1053.2 L510.5,1053.1 L512.5,1052.9 L514.5,1052.8 L516.5,1052.7 L518.5,1052.6 L520.5,1052.5 L522.5,1052.4 L524.5,1052.3 L526.5,1052.3 L528.5,1052.2 L530.5,1052.1 L532.5,1052.1 L534.5,1052.0 L536.5,1052.0 L538.5,1051.9 L540.5,1051.9 L542.5,1051.9 L544.5,1051.8 L546.5,1051.8 L548.5,1051.8 L550.5,1051.8 L552.5,1051.8 L554.5,1051.8 L556.5,1051.8 L558.5,1051.8 L560.5,1051.8 L562.5,1051.8 L564.5,1051.9 L566.5,1051.9 L568.5,1051.9 L570.5,1052.0 L572.5,1052.0 L574.5,1052.0 L576.5,1052.1 L578.5,1052.1 L580.5,1052.2 L582.5,1052.3 L584.5,1052.3 L586.5,1052.4 L588.5,1052.4 L590.5,1052.5 L592.5,1052.6 L594.5,1052.7 L596.5,1052.7 L598.5,1052.8 L600.5,1052.9 L602.5,1053.0 L604.5,1053.1 L606.5,1053.2 L608.5,1053.3 L610.5,1053.4 L612.5,1053.5 L614.5,1053.6 L616.5,1053.7 L618.5,1053.8 L620.5,1053.9 L622.5,1054.0 L624.5,1054.1 L626.5,1054.2 L628.5,1054.4 L630.5,1054.5 L632.5,1054.6 L634.5,1054.7 L636.5,1054.8 L638.5,1054.9 L640.5,1055.1 L642.5,1055.2 L644.5,1055.3 L646.5,1055.4 L648.5,1055.5 L650.5,1055.7 L652.5,1055.8 L654.5,1055.9 L656.5,1056.0 L658.5,1056.2 L660.6,1056.3 L662.6,1056.4 L664.6,1056.5 L666.6,1056.7 L668.6,1056.8 L670.6,1056.9 L672.6,1057.0 L674.6,1057.1 L676.6,1057.3 L678.6,1057.4 L680.6,1057.5 L682.6,1057.6 L684.6,1057.8 L686.6,1057.9 L688.6,1058.0 L690.6,1058.1 L692.6,1058.2 L694.6,1058.4 L696.6,1058.5 L698.6,1058.6 L700.6,1058.7 L702.6,1058.8 L704.6,1059.0 L706.6,1059.1 L708.6,1059.2 L710.6,1059.3 L712.6,1059.4 L714.6,1059.5 L716.6,1059.7 L718.6,1059.8 L720.6,1059.9 L722.6,1060.0 L724.6,1060.1 L726.6,1060.2 L728.6,1060.4 L730.6,1060.5 L732.6,1060.6 L734.6,1060.7 L736.6,1060.8 L738.6,1060.9 L740.6,1061.1 L742.6,1061.2 L744.6,1061.3 L746.6,1061.4 L748.6,1061.5 L750.6,1061.6 L752.6,1061.7 L754.6,1061.8 L756.6,1062.0 L758.6,1062.1 L760.6,1062.2 L762.6,1062.3 L764.6,1062.4 L766.6,1062.5 L768.6,1062.6 L770.6,1062.7 L772.6,1062.8 L774.6,1063.0 L776.6,1063.1 L778.6,1063.2 L780.6,1063.3 L782.6,1063.4 L784.6,1063.5 L786.6,1063.6 L788.6,1063.7 L790.6,1063.8 L792.6,1063.9 L794.6,1064.0 L796.6,1064.1 L798.6,1064.2 L800.6,1064.3 L802.6,1064.4 L804.6,1064.6 L806.6,1064.7 L808.6,1064.8 L810.6,1064.9 L812.6,1065.0 L814.6,1065.1 L816.6,1065.2 L818.6,1065.3 L820.6,1065.4 L822.5,1065.5 L824.5,1065.6 L826.5,1065.7 L828.5,1065.8 L830.5,1065.9 L832.5,1066.0 L834.5,1066.1 L836.5,1066.2 L838.5,1066.3 L840.5,1066.4 L842.5,1066.5 L844.5,1066.6 L846.5,1066.7 L848.5,1066.7 L850.5,1066.8 L852.5,1066.9 L854.5,1067.0 L856.5,1067.1 L858.5,1067.2 L860.5,1067.3 L862.5,1067.4 L864.5,1067.5 L866.5,1067.6 L868.5,1067.7 L870.5,1067.8 L872.5,1067.9 L874.5,1068.0 L876.5,1068.0 L878.5,1068.1 L880.5,1068.2 L882.5,1068.3 L884.5,1068.4 L886.5,1068.5 L888.5,1068.6 L890.5,1068.7 L892.5,1068.7 L894.5,1068.8 L896.5,1068.9 L898.5,1069.0 L900.5,1069.1 L902.5,1069.2 L904.5,1069.2 L906.5,1069.3 L908.5,1069.4 L910.5,1069.5 L912.5,1069.6 L914.5,1069.7 L916.5,1069.7 L918.5,1069.8 L920.5,1069.9 L922.5,1070.0 L924.5,1070.0 L926.5,1070.1 L928.5,1070.2 L930.5,1070.3 L932.5,1070.4 L934.5,1070.4 L936.5,1070.5 L938.5,1070.6 L940.5,1070.7 L942.5,1070.7 L944.5,1070.8 L946.5,1070.9 L948.5,1070.9 L950.5,1071.0 L952.5,1071.1 L954.6,1071.2 L956.6,1071.2 L958.6,1071.3 L960.6,1071.4 L962.6,1071.4 L964.6,1071.5 L966.6,1071.6 L968.6,1071.6 L970.6,1071.7 L972.6,1071.8 L974.6,1071.8 L976.6,1071.9 L978.6,1071.9 L980.6,1072.0 L982.6,1072.1 L984.6,1072.1 L986.6,1072.2 L988.6,1072.3 L990.6,1072.3 L992.6,1072.4 L994.6,1072.4 L996.6,1072.5 L998.6,1072.5 L1000.6,1072.6 L1002.6,1072.7 L1004.6,1072.7 L1006.6,1072.8 L1008.6,1072.8 L1010.6,1072.9 L1012.6,1072.9 L1014.6,1073.0 L1016.6,1073.0 L1018.6,1073.1 L1020.6,1073.1 L1022.6,1073.2 L1024.6,1073.2 L1026.6,1073.3 L1028.6,1073.3 L1030.6,1073.3 L1032.6,1073.4 L1034.6,1073.4 L1036.6,1073.5 L1038.7,1073.5 L1040.7,1073.5 L1042.7,1073.6 L1044.7,1073.6 L1046.7,1073.6 L1048.7,1073.6 L1050.7,1073.7 L1052.7,1073.7 L1054.7,1073.7 L1056.7,1073.7 L1058.7,1073.7 L1060.7,1073.7 L1062.7,1073.8 L1064.7,1073.8 L1066.7,1073.8 L1068.7,1073.8 L1070.7,1073.8 L1072.7,1073.8 L1074.7,1073.8 L1076.7,1073.8 L1078.7,1073.7 L1080.7,1073.7 L1082.7,1073.7 L1084.7,1073.7 L1086.7,1073.7 L1088.7,1073.7 L1090.7,1073.6 L1092.7,1073.6 L1094.7,1073.6 L1096.7,1073.5 L1098.7,1073.5 L1100.7,1073.4 L1102.7,1073.4 L1104.7,1073.3 L1106.7,1073.3 L1108.7,1073.2 L1110.7,1073.2 L1112.6,1073.1 L1114.6,1073.0 L1116.6,1072.9 L1118.6,1072.9 L1120.6,1072.8 L1122.6,1072.7 L1124.6,1072.6 L1126.6,1072.5 L1128.6,1072.4 L1130.6,1072.3 L1132.6,1072.2 L1134.6,1072.1 L1136.6,1072.0 L1138.6,1071.9 L1140.5,1071.7 L1142.5,1071.6 L1144.5,1071.5 L1146.5,1071.3 L1148.5,1071.2 L1150.5,1071.0 L1152.5,1070.9 L1154.5,1070.7 L1156.4,1070.6 L1158.4,1070.4 L1160.4,1070.2 L1162.4,1070.0 L1164.4,1069.9 L1166.4,1069.7 L1168.4,1069.5 L1170.3,1069.3 L1172.3,1069.1 L1174.3,1068.9 L1176.3,1068.6 L1178.3,1068.4 L1180.2,1068.2 L1182.2,1068.0 L1184.2,1067.7 L1186.2,1067.5 L1188.2,1067.2 L1190.1,1067.0 L1192.1,1066.7 L1194.1,1066.4 L1196.1,1066.2 L1198.0,1065.9 L1200.0,1065.6 L1202.0,1065.3 L1204.0,1065.0 L1205.9,1064.7 L1207.9,1064.4 L1209.9,1064.0 L1211.8,1063.7 L1213.8,1063.4 L1215.8,1063.0 L1217.7,1062.7 L1219.7,1062.3 L1221.7,1062.0 L1223.6,1061.6 L1225.6,1061.2 L1227.6,1060.9 L1229.5,1060.5 L1231.5,1060.1 L1233.5,1059.7 L1235.4,1059.3 L1237.4,1058.8 L1239.3,1058.4 L1241.3,1058.0 L1243.3,1057.6 L1245.2,1057.1 L1247.2,1056.6 L1249.1,1056.2 L1251.1,1055.7 L1253.0,1055.2 L1255.0,1054.7 L1256.9,1054.3 L1258.9,1053.8 L1260.8,1053.2 L1262.8,1052.7 L1264.7,1052.2 L1266.7,1051.7 L1268.6,1051.1 L1270.6,1050.6 L1272.5,1050.0 L1274.4,1049.5 L1276.4,1048.9 L1278.3,1048.3 L1280.2,1047.7 L1282.2,1047.1 L1284.1,1046.5 L1286.0,1045.9 L1287.9,1045.3 L1289.9,1044.7 L1291.8,1044.0 L1293.7,1043.4 L1295.6,1042.7 L1297.5,1042.1 L1299.4,1041.4 L1301.3,1040.7 L1303.2,1040.0 L1305.1,1039.3 L1307.0,1038.6 L1308.9,1037.9 L1310.8,1037.2 L1312.7,1036.5 L1314.5,1035.8 L1316.4,1035.0 L1318.3,1034.3 L1320.2,1033.5 L1322.0,1032.7 L1323.9,1032.0 L1325.7,1031.2 L1327.6,1030.4 L1329.4,1029.6 L1331.3,1028.8 L1333.1,1028.0 L1334.9,1027.2 L1336.8,1026.3 L1338.6,1025.5 L1340.4,1024.6 L1342.2,1023.8 L1344.0,1022.9 L1345.8,1022.0 L1347.6,1021.2 L1349.4,1020.3 L1351.2,1019.4 L1353.0,1018.5 L1354.8,1017.6 L1356.5,1016.6 L1358.3,1015.7 L1360.1,1014.8 L1361.8,1013.8 L1363.6,1012.9 L1365.3,1011.9 L1367.0,1010.9 L1368.8,1009.9 L1370.5,1008.9 L1372.2,1007.9 L1373.9,1006.9 L1375.6,1005.9 L1377.3,1004.9 L1379.0,1003.9 L1380.7,1002.8 L1382.4,1001.8 L1384.0,1000.7 L1385.7,999.6 L1387.4,998.6 L1389.0,997.5 L1390.7,996.4 L1392.3,995.3 L1394.0,994.2 L1395.6,993.1 L1397.2,992.0 L1398.8,990.9 L1400.5,989.7 L1402.1,988.6 L1403.7,987.5 L1405.3,986.3 L1406.9,985.2 L1408.5,984.0 L1410.1,982.8 L1411.7,981.7 L1413.2,980.5 L1414.8,979.3 L1416.4,978.1 L1418.0,976.9 L1419.5,975.7 L1421.1,974.5 L1422.6,973.3 L1424.2,972.1 L1425.7,970.8 L1427.3,969.6 L1428.8,968.4 L1430.4,967.1 L1431.9,965.9 L1433.4,964.6 L1434.9,963.4 L1436.5,962.1 L1438.0,960.9 L1439.5,959.6 L1441.0,958.3 L1442.5,957.1 L1444.0,955.8 L1445.5,954.5 L1447.1,953.2 L1448.6,951.9 L1450.1,950.7 L1451.5,949.4 L1453.0,948.1 L1454.5,946.8 L1456.0,945.5 L1457.5,944.2 L1459.0,942.8 L1460.5,941.5 L1462.0,940.2 L1463.4,938.9 L1464.9,937.6 L1466.4,936.3 L1467.9,934.9 L1469.3,933.6 L1470.8,932.3 L1472.3,931.0 L1473.8,929.6 L1475.2,928.3 L1476.7,927.0 L1478.2,925.6 L1479.6,924.3 L1481.1,922.9 L1482.6,921.6 L1484.0,920.3 L1485.5,918.9 L1486.9,917.6 L1488.4,916.2 L1489.9,914.9 L1491.3,913.5 L1492.8,912.2 L1494.3,910.9 L1495.7,909.5 L1497.2,908.2 L1498.6,906.8 L1500.1,905.5 L1501.6,904.1 L1503.0,902.8 L1504.5,901.4 L1506.0,900.1 L1507.4,898.8 L1508.9,897.4 L1510.4,896.1 L1511.8,894.7 L1513.3,893.4 L1514.8,892.0 L1516.2,890.7 L1517.7,889.4 L1519.2,888.0 L1520.6,886.7 L1522.1,885.4 L1523.6,884.0 L1525.1,882.7 L1526.6,881.4 L1528.0,880.1 L1529.5,878.7 L1531.0,877.4 L1532.5,876.1 L1533.9,874.8 L1535.4,873.4 L1536.9,872.1 L1538.4,870.8 L1539.8,869.4 L1541.3,868.1 L1542.8,866.8 L1544.2,865.4 L1545.7,864.1 L1547.2,862.7 L1548.6,861.4 L1550.1,860.0 L1551.5,858.7 L1552.9,857.3 L1554.4,855.9 L1555.8,854.6 L1557.2,853.2 L1558.6,851.8 L1560.0,850.4 L1561.4,849.0 L1562.8,847.6 L1564.2,846.2 L1565.6,844.8 L1567.0,843.3 L1568.3,841.9 L1569.7,840.5 L1571.0,839.0 L1572.4,837.6 L1573.7,836.1 L1575.0,834.6 L1576.4,833.2 L1577.7,831.7 L1579.0,830.2 L1580.3,828.7 L1581.6,827.2 L1582.9,825.7 L1584.2,824.2 L1585.5,822.7 L1586.8,821.2 L1588.1,819.7 L1589.4,818.2 L1590.7,816.8 L1592.0,815.3 L1593.3,813.8 L1594.7,812.3 L1596.0,810.8 L1597.3,809.3 L1598.6,807.8 L1599.9,806.3 L1601.2,804.9 L1602.6,803.4 L1603.9,801.9 L1605.2,800.4 L1606.5,798.9 L1607.9,797.5 L1609.2,796.0 L1610.6,794.5 L1611.9,793.1 L1613.2,791.6 L1614.6,790.1 L1615.9,788.7 L1617.3,787.2 L1618.6,785.8 L1620.0,784.3 L1621.3,782.8 L1622.7,781.4 L1624.0,779.9 L1625.4,778.5 L1626.8,777.0 L1628.1,775.6 L1629.5,774.1 L1630.9,772.7 L1632.3,771.3 L1633.6,769.8 L1635.0,768.4 L1636.4,767.0 L1637.8,765.5 L1639.2,764.1 L1640.6,762.7 L1641.9,761.2 L1643.3,759.8 L1644.7,758.4 L1646.1,757.0 L1647.5,755.6 L1648.9,754.1 L1650.3,752.7 L1651.8,751.3 L1653.2,749.9 L1654.6,748.5 L1656.0,747.1 L1657.4,745.7 L1658.8,744.3 L1660.3,742.9 L1661.7,741.5 L1663.1,740.1 L1664.5,738.7 L1666.0,737.3 L1667.4,735.9 L1668.9,734.5 L1670.3,733.1 L1671.7,731.8 L1673.2,730.4 L1674.6,729.0 L1676.1,727.6 L1677.6,726.2 L1679.0,724.9 L1680.5,723.5 L1681.9,722.1 L1683.4,720.8 L1684.9,719.4 L1686.3,718.0 L1687.8,716.7 L1689.3,715.3 L1690.8,714.0 L1692.3,712.6 L1693.7,711.3 L1695.2,709.9 L1696.7,708.6 L1698.2,707.2 L1699.7,705.9 L1701.2,704.5 L1702.7,703.2 L1704.2,701.9 L1705.7,700.5 L1707.2,699.2 L1708.7,697.8 L1710.2,696.5 L1711.7,695.2 L1713.2,693.9 L1714.7,692.5 L1716.2,691.2 L1717.7,689.9 L1719.3,688.5 L1720.8,687.2 L1722.3,685.9 L1723.8,684.6 L1725.3,683.2 L1726.8,681.9 L1728.4,680.6 L1729.9,679.3 L1731.4,678.0 L1732.9,676.6 L1734.4,675.3 L1736.0,674.0 L1737.5,672.7 L1739.0,671.4 L1740.5,670.0 L1742.0,668.7 L1743.6,667.4 L1745.1,666.1 L1746.6,664.8 L1748.1,663.4 L1749.7,662.1 L1751.2,660.8 L1752.7,659.5 L1754.2,658.2 L1755.7,656.8 L1757.3,655.5 L1758.8,654.2 L1760.3,652.9 L1761.8,651.6 L1763.3,650.2 L1764.8,648.9 L1766.4,647.6 L1767.9,646.3 L1769.4,644.9 L1770.9,643.6 L1772.4,642.3 L1773.9,641.0 L1775.4,639.6 L1776.9,638.3 L1778.4,637.0 L1779.9,635.6 L1781.4,634.3 L1782.9,633.0 L1784.4,631.6 L1785.9,630.3 L1787.4,629.0 L1788.9,627.6 L1790.4,626.3 L1791.9,624.9 L1793.3,623.6 L1794.8,622.2 L1796.3,620.9 L1797.8,619.5 L1799.3,618.2 L1800.7,616.8 L1802.2,615.5 L1803.7,614.1 L1805.1,612.7 L1806.6,611.4 L1808.0,610.0 L1809.5,608.6 L1811.0,607.3 L1812.4,605.9 L1813.8,604.5 L1815.3,603.1 L1816.7,601.7 L1818.2,600.4 L1819.6,599.0 L1821.0,597.6 L1822.4,596.2 L1823.9,594.8 L1825.3,593.4 L1826.7,592.0 L1828.1,590.6 L1829.5,589.2 L1830.9,587.8 L1832.3,586.3 L1833.7,584.9 L1835.1,583.5 L1836.5,582.1 L1837.8,580.6 L1839.2,579.2 L1840.6,577.8 L1841.9,576.3 L1843.3,574.9 L1844.7,573.4 L1846.0,572.0 L1847.3,570.5 L1848.7,569.1 L1850.0,567.6 L1851.4,566.2 L1852.7,564.7 L1854.0,563.2 L1855.3,561.7 L1856.6,560.2 L1857.9,558.8 L1859.2,557.3 L1860.5,555.8 L1861.8,554.3 L1863.1,552.8 L1864.4,551.2 L1865.6,549.7 L1866.9,548.2 L1868.1,546.7 L1869.4,545.2 L1870.6,543.6 L1871.9,542.1 L1873.1,540.5 L1874.3,539.0 L1875.5,537.4 L1876.8,535.9 L1878.0,534.3 L1879.2,532.7 L1880.4,531.2 L1881.5,529.6 L1882.7,528.0 L1883.9,526.4 L1885.1,524.8 L1886.2,523.2 L1887.4,521.6 L1888.5,520.0 L1889.6,518.4 L1890.8,516.7 L1891.9,515.1 L1893.0,513.5 L1894.1,511.8 L1895.2,510.2 L1896.3,508.5 L1897.4,506.9 L1898.5,505.2 L1899.5,503.5 L1900.6,501.8 L1901.6,500.1 L1902.7,498.4 L1903.7,496.7 L1904.7,495.0 L1905.7,493.3 L1906.8,491.6 L1907.8,489.9 L1908.7,488.1 L1909.7,486.4 L1910.7,484.7 L1911.7,482.9 L1912.6,481.1 L1913.6,479.4 L1914.5,477.6 L1915.5,475.8 L1916.4,474.1 L1917.3,472.3 L1918.2,470.5 L1919.1,468.7 L1920.0,466.9 L1920.9,465.1 L1921.8,463.2 L1922.6,461.4 L1923.5,459.6 L1924.4,457.8 L1925.2,455.9 L1926.1,454.1 L1926.9,452.3 L1927.7,450.4 L1928.5,448.6 L1929.4,446.7 L1930.2,444.9 L1931.0,443.0 L1931.8,441.1 L1932.5,439.3 L1933.3,437.4 L1934.1,435.5 L1934.9,433.6 L1935.6,431.8 L1936.4,429.9 L1937.1,428.0 L1937.9,426.1 L1938.6,424.2 L1939.3,422.3 L1940.1,420.4 L1940.8,418.6 L1941.5,416.7 L1942.2,414.8 L1942.9,412.9 L1943.6,411.0 L1944.3,409.1 L1945.0,407.2 L1945.7,405.2 L1946.3,403.3 L1947.0,401.4 L1947.7,399.5 L1948.3,397.6 L1949.0,395.7 L1949.6,393.8 L1950.3,391.9 L1950.9,390.0 L1951.5,388.1 L1952.2,386.2 L1952.8,384.3 L1953.4,382.4 L1954.0,380.5 L1954.6,378.6 L1955.3,376.6 L1955.9,374.7 L1956.5,372.8 L1957.0,370.9 L1957.6,369.0 L1958.2,367.1 L1958.8,365.2 L1959.4,363.4 L1960.0,361.5 L1960.5,359.6 L1961.1,357.7 L1961.7,355.8 L1962.2,353.9 L1962.8,352.0 L1963.3,350.1 L1963.9,348.3 L1964.4,346.4 L1965.0,344.5 L1965.5,342.7 L1966.0,340.8 L1966.6,338.9 L1967.1,337.1 L1967.6,335.2 L1968.1,333.4 L1968.7,331.5 L1969.2,329.7 L1969.7,327.9 L1970.2,326.0 L1970.7,324.2 L1971.2,322.4 L1971.7,320.6 L1972.2,318.7 L1972.7,316.9"/>
<path stroke="#00D400" d="M359.5,1330.0 L359.6,1328.0 L359.7,1326.0 L359.8,1324.0 L359.9,1322.0 L360.0,1320.0 L360.1,1318.0 L360.1,1316.0 L360.2,1314.0 L360.3,1312.0 L360.4,1310.0 L360.5,1308.0 L360.6,1306.0 L360.7,1304.0 L360.8,1302.0 L360.9,1300.0 L361.0,1298.0 L361.1,1296.0 L361.2,1294.0 L361.3,1292.0 L361.4,1290.0 L361.5,1288.0 L361.6,1286.0 L361.7,1284.0 L361.8,1282.0 L361.9,1280.0 L362.1,1278.0 L362.2,1276.0 L362.3,1274.0 L362.5,1272.0 L362.6,1270.0 L362.7,1268.0 L362.9,1266.0 L363.0,1264.0 L363.2,1262.0 L363.3,1260.0 L363.5,1258.0 L363.7,1256.0 L363.9,1254.0 L364.0,1252.0 L364.2,1250.0 L364.4,1248.0 L364.6,1246.0 L364.8,1244.0 L365.1,1242.0 L365.3,1240.1 L365.5,1238.1 L365.7,1236.1 L366.0,1234.1 L366.2,1232.1 L366.5,1230.1 L366.8,1228.1 L367.0,1226.2 L367.3,1224.2 L367.6,1222.2 L367.9,1220.2 L368.2,1218.3 L368.5,1216.3 L368.8,1214.3 L369.2,1212.4 L369.5,1210.4 L369.9,1208.4 L370.2,1206.5 L370.6,1204.5 L371.0,1202.5 L371.4,1200.6 L371.8,1198.6 L372.2,1196.7 L372.6,1194.7 L373.1,1192.8 L373.5,1190.9 L374.0,1188.9 L374.4,1187.0 L374.9,1185.0 L375.4,1183.1 L375.9,1181.2 L376.4,1179.3 L377.0,1177.3 L377.5,1175.4 L378.1,1173.5 L378.6,1171.6 L379.2,1169.7 L379.8,1167.8 L380.4,1165.9 L381.0,1164.0 L381.6,1162.1 L382.3,1160.2 L382.9,1158.3 L383.6,1156.4 L384.3,1154.5 L385.0,1152.6 L385.6,1150.7 L386.4,1148.8 L387.1,1147.0 L387.8,1145.1 L388.5,1143.2 L389.3,1141.3 L390.1,1139.5 L390.8,1137.6 L391.6,1135.8 L392.4,1133.9 L393.2,1132.1 L394.0,1130.2 L394.9,1128.4 L395.7,1126.5 L396.6,1124.7 L397.4,1122.9 L398.3,1121.0 L399.2,1119.2 L400.1,1117.4 L401.0,1115.5 L401.9,1113.7 L402.8,1111.9 L403.7,1110.1 L404.7,1108.3 L405.7,1106.5 L406.6,1104.7 L407.6,1103.0 L408.7,1101.2 L409.7,1099.5 L410.8,1097.8 L411.9,1096.1 L413.0,1094.4 L414.1,1092.8 L415.3,1091.2 L416.5,1089.6 L417.7,1088.0 L419.0,1086.5 L420.3,1085.1 L421.7,1083.6 L423.0,1082.2 L424.5,1080.9 L425.9,1079.6 L427.4,1078.3 L428.9,1077.0 L430.5,1075.8 L432.1,1074.7 L433.7,1073.6 L435.3,1072.5 L437.0,1071.5 L438.7,1070.5 L440.4,1069.5 L442.1,1068.6 L443.9,1067.7 L445.7,1066.9 L447.5,1066.1 L449.3,1065.3 L451.2,1064.6 L453.0,1063.9 L454.8,1063.2 L456.7,1062.5 L458.6,1061.9 L460.4,1061.3 L462.3,1060.7 L464.2,1060.2 L466.1,1059.7 L468.0,1059.2 L469.9,1058.7 L471.8,1058.2 L473.7,1057.8 L475.6,1057.4 L477.5,1057.0 L479.5,1056.7 L481.4,1056.3 L483.3,1056.0 L485.3,1055.7 L487.2,1055.4 L489.2,1055.2 L491.2,1054.9 L493.1,1054.7 L495.1,1054.5 L497.1,1054.3 L499.0,1054.1 L501.0,1054.0 L503.0,1053.8 L505.0,1053.7 L507.0,1053.6 L509.0,1053.5 L511.0,1053.4 L513.0,1053.3 L515.0,1053.3 L517.0,1053.2 L519.0,1053.2 L521.0,1053.1 L523.0,1053.1 L525.0,1053.1 L527.0,1053.1 L529.0,1053.1 L531.1,1053.2 L533.1,1053.2 L535.1,1053.2 L537.1,1053.3 L539.2,1053.3 L541.2,1053.4 L543.2,1053.4 L545.2,1053.5 L547.3,1053.6 L549.3,1053.6 L551.3,1053.7 L553.3,1053.8 L555.4,1053.9 L557.4,1053.9 L559.4,1054.0 L561.5,1054.1 L563.5,1054.2 L565.5,1054.3 L567.5,1054.4 L569.6,1054.5 L571.6,1054.5 L573.6,1054.6 L575.6,1054.7 L577.7,1054.8 L579.7,1054.9 L581.7,1055.0 L583.7,1055.1 L585.7,1055.2 L587.8,1055.2 L589.8,1055.3 L591.8,1055.4 L593.8,1055.5 L595.8,1055.6 L597.9,1055.7 L599.9,1055.8 L601.9,1055.9 L603.9,1056.0 L605.9,1056.1 L607.9,1056.2 L610.0,1056.3 L612.0,1056.4 L614.0,1056.5 L616.0,1056.6 L618.0,1056.7 L620.0,1056.8 L622.0,1056.9 L624.1,1057.0 L626.1,1057.0 L628.1,1057.1 L630.1,1057.2 L632.1,1057.3 L634.1,1057.4 L636.1,1057.5 L638.1,1057.6 L640.1,1057.7 L642.1,1057.8 L644.2,1057.9 L646.2,1058.0 L648.2,1058.2 L650.2,1058.3 L652.2,1058.4 L654.2,1058.5 L656.2,1058.6 L658.2,1058.7 L660.2,1058.8 L662.2,1058.9 L664.2,1059.0 L666.2,1059.1 L668.2,1059.2 L670.2,1059.3 L672.2,1059.4 L674.2,1059.5 L676.2,1059.6 L678.2,1059.7 L680.2,1059.8 L682.2,1059.9 L684.2,1060.0 L686.3,1060.1 L688.3,1060.2 L690.3,1060.3 L692.3,1060.4 L694.3,1060.6 L696.3,1060.7 L698.3,1060.8 L700.3,1060.9 L702.3,1061.0 L704.3,1061.1 L706.3,1061.2 L708.2,1061.3 L710.2,1061.4 L712.2,1061.5 L714.2,1061.6 L716.2,1061.7 L718.2,1061.8 L720.2,1061.9 L722.2,1062.1 L724.2,1062.2 L726.2,1062.3 L728.2,1062.4 L730.2,1062.5 L732.2,1062.6 L734.2,1062.7 L736.2,1062.8 L738.2,1062.9 L740.2,1063.0 L742.2,1063.1 L744.2,1063.2 L746.2,1063.3 L748.2,1063.5 L750.2,1063.6 L752.2,1063.7 L754.2,1063.8 L756.1,1063.9 L758.1,1064.0 L760.1,1064.1 L762.1,1064.2 L764.1,1064.3 L766.1,1064.4 L768.1,1064.5 L770.1,1064.6 L772.1,1064.7 L774.1,1064.8 L776.1,1064.9 L778.1,1065.1 L780.1,1065.2 L782.1,1065.3 L784.0,1065.4 L786.0,1065.5 L788.0,1065.6 L790.0,1065.7 L792.0,1065.8 L794.0,1065.9 L796.0,1066.0 L798.0,1066.1 L800.0,1066.2 L802.0,1066.3 L804.0,1066.4 L806.0,1066.5 L807.9,1066.6 L809.9,1066.7 L811.9,1066.8 L813.9,1066.9 L815.9,1067.0 L817.9,1067.1 L819.9,1067.2 L821.9,1067.3 L823.9,1067.4 L825.9,1067.5 L827.9,1067.6 L829.8,1067.7 L831.8,1067.8 L833.8,1067.9 L835.8,1068.0 L837.8,1068.1 L839.8,1068.2 L841.8,1068.3 L843.8,1068.4 L845.8,1068.5 L847.8,1068.6 L849.7,1068.7 L851.7,1068.8 L853.7,1068.9 L855.7,1069.0 L857.7,1069.1 L859.7,1069.2 L861.7,1069.3 L863.7,1069.4 L865.7,1069.5 L867.7,1069.6 L869.7,1069.7 L871.6,1069.7 L873.6,1069.8 L875.6,1069.9 L877.6,1070.0 L879.6,1070.1 L881.6,1070.2 L883.6,1070.3 L885.6,1070.4 L887.6,1070.5 L889.6,1070.5 L891.6,1070.6 L893.6,1070.7 L895.6,1070.8 L897.5,1070.9 L899.5,1071.0 L901.5,1071.1 L903.5,1071.1 L905.5,1071.2 L907.5,1071.3 L909.5,1071.4 L911.5,1071.5 L913.5,1071.6 L915.5,1071.6 L917.5,1071.7 L919.5,1071.8 L921.5,1071.9 L923.5,1071.9 L925.5,1072.0 L927.4,1072.1 L929.4,1072.2 L931.4,1072.2 L933.4,1072.3 L935.4,1072.4 L937.4,1072.5 L939.4,1072.5 L941.4,1072.6 L943.4,1072.7 L945.4,1072.8 L947.4,1072.8 L949.4,1072.9 L951.4,1073.0 L953.4,1073.0 L955.4,1073.1 L957.4,1073.2 L959.4,1073.2 L961.4,1073.3 L963.4,1073.4 L965.4,1073.4 L967.4,1073.5 L969.4,1073.5 L971.4,1073.6 L973.4,1073.7 L975.4,1073.7 L977.4,1073.8 L979.4,1073.8 L981.4,1073.9 L983.4,1073.9 L985.4,1074.0 L987.4,1074.1 L989.4,1074.1 L991.4,1074.2 L993.4,1074.2 L995.4,1074.3 L997.4,1074.3 L999.4,1074.4 L1001.4,1074.4 L1003.4,1074.5 L1005.4,1074.5 L1007.4,1074.5 L1009.4,1074.6 L1011.4,1074.6 L1013.4,1074.7 L1015.5,1074.7 L1017.5,1074.8 L1019.5,1074.8 L1021.5,1074.8 L1023.5,1074.9 L1025.5,1074.9 L1027.5,1074.9 L1029.5,1075.0 L1031.5,1075.0 L1033.5,1075.0 L1035.5,1075.0 L1037.5,1075.1 L1039.5,1075.1 L1041.5,1075.1 L1043.6,1075.1 L1045.6,1075.1 L1047.6,1075.1 L1049.6,1075.1 L1051.6,1075.1 L1053.6,1075.2 L1055.6,1075.2 L1057.6,1075.2 L1059.6,1075.1 L1061.6,1075.1 L1063.6,1075.1 L1065.6,1075.1 L1067.6,1075.1 L1069.6,1075.1 L1071.7,1075.1 L1073.7,1075.0 L1075.7,1075.0 L1077.7,1075.0 L1079.7,1075.0 L1081.7,1074.9 L1083.7,1074.9 L1085.7,1074.8 L1087.7,1074.8 L1089.7,1074.7 L1091.7,1074.7 L1093.7,1074.6 L1095.7,1074.6 L1097.7,1074.5 L1099.7,1074.4 L1101.7,1074.4 L1103.7,1074.3 L1105.7,1074.2 L1107.7,1074.1 L1109.7,1074.0 L1111.7,1073.9 L1113.7,1073.8 L1115.7,1073.7 L1117.7,1073.6 L1119.7,1073.5 L1121.7,1073.4 L1123.7,1073.3 L1125.7,1073.1 L1127.7,1073.0 L1129.7,1072.9 L1131.7,1072.7 L1133.7,1072.6 L1135.7,1072.4 L1137.7,1072.3 L1139.7,1072.1 L1141.7,1072.0 L1143.7,1071.8 L1145.7,1071.6 L1147.7,1071.4 L1149.6,1071.3 L1151.6,1071.1 L1153.6,1070.9 L1155.6,1070.7 L1157.6,1070.5 L1159.6,1070.2 L1161.6,1070.0 L1163.5,1069.8 L1165.5,1069.6 L1167.5,1069.3 L1169.5,1069.1 L1171.5,1068.8 L1173.5,1068.6 L1175.4,1068.3 L1177.4,1068.1 L1179.4,1067.8 L1181.4,1067.5 L1183.3,1067.2 L1185.3,1066.9 L1187.3,1066.6 L1189.3,1066.3 L1191.2,1066.0 L1193.2,1065.7 L1195.2,1065.4 L1197.1,1065.0 L1199.1,1064.7 L1201.1,1064.3 L1203.0,1064.0 L1205.0,1063.6 L1207.0,1063.3 L1208.9,1062.9 L1210.9,1062.5 L1212.9,1062.1 L1214.8,1061.7 L1216.8,1061.3 L1218.7,1060.9 L1220.7,1060.5 L1222.6,1060.0 L1224.6,1059.6 L1226.5,1059.2 L1228.5,1058.7 L1230.4,1058.3 L1232.4,1057.8 L1234.3,1057.3 L1236.3,1056.8 L1238.2,1056.3 L1240.2,1055.8 L1242.1,1055.3 L1244.0,1054.8 L1246.0,1054.3 L1247.9,1053.8 L1249.9,1053.2 L1251.8,1052.7 L1253.7,1052.1 L1255.6,1051.5 L1257.6,1051.0 L1259.5,1050.4 L1261.4,1049.8 L1263.4,1049.2 L1265.3,1048.6 L1267.2,1048.0 L1269.1,1047.3 L1271.0,1046.7 L1272.9,1046.1 L1274.8,1045.4 L1276.8,1044.7 L1278.7,1044.1 L1280.6,1043.4 L1282.5,1042.7 L1284.4,1042.0 L1286.3,1041.3 L1288.1,1040.6 L1290.0,1039.9 L1291.9,1039.2 L1293.8,1038.4 L1295.7,1037.7 L1297.5,1036.9 L1299.4,1036.2 L1301.3,1035.4 L1303.1,1034.6 L1305.0,1033.8 L1306.9,1033.0 L1308.7,1032.2 L1310.6,1031.4 L1312.4,1030.6 L1314.2,1029.7 L1316.1,1028.9 L1317.9,1028.1 L1319.7,1027.2 L1321.6,1026.3 L1323.4,1025.5 L1325.2,1024.6 L1327.0,1023.7 L1328.8,1022.8 L1330.6,1021.9 L1332.4,1021.0 L1334.2,1020.0 L1335.9,1019.1 L1337.7,1018.2 L1339.5,1017.2 L1341.3,1016.3 L1343.0,1015.3 L1344.8,1014.3 L1346.5,1013.3 L1348.3,1012.3 L1350.0,1011.3 L1351.7,1010.3 L1353.5,1009.3 L1355.2,1008.3 L1356.9,1007.3 L1358.6,1006.2 L1360.3,1005.2 L1362.0,1004.1 L1363.7,1003.0 L1365.3,1002.0 L1367.0,1000.9 L1368.7,999.8 L1370.3,998.7 L1372.0,997.6 L1373.6,996.4 L1375.3,995.3 L1376.9,994.2 L1378.5,993.0 L1380.2,991.9 L1381.8,990.7 L1383.4,989.6 L1385.0,988.4 L1386.6,987.2 L1388.1,986.0 L1389.7,984.8 L1391.3,983.6 L1392.9,982.4 L1394.4,981.2 L1396.0,980.0 L1397.6,978.8 L1399.1,977.5 L1400.7,976.3 L1402.2,975.0 L1403.7,973.8 L1405.3,972.5 L1406.8,971.3 L1408.3,970.0 L1409.8,968.7 L1411.3,967.4 L1412.8,966.1 L1414.4,964.9 L1415.9,963.6 L1417.4,962.3 L1418.8,961.0 L1420.3,959.6 L1421.8,958.3 L1423.3,957.0 L1424.8,955.7 L1426.3,954.4 L1427.7,953.0 L1429.2,951.7 L1430.7,950.4 L1432.1,949.0 L1433.6,947.7 L1435.1,946.3 L1436.5,945.0 L1438.0,943.6 L1439.4,942.3 L1440.9,940.9 L1442.3,939.5 L1443.8,938.2 L1445.2,936.8 L1446.7,935.4 L1448.1,934.1 L1449.6,932.7 L1451.0,931.3 L1452.5,929.9 L1453.9,928.6 L1455.3,927.2 L1456.8,925.8 L1458.2,924.4 L1459.7,923.0 L1461.1,921.6 L1462.5,920.3 L1464.0,918.9 L1465.4,917.5 L1466.9,916.1 L1468.3,914.7 L1469.7,913.3 L1471.2,911.9 L1472.6,910.5 L1474.0,909.1 L1475.5,907.7 L1476.9,906.3 L1478.3,905.0 L1479.8,903.6 L1481.2,902.2 L1482.6,900.8 L1484.0,899.3 L1485.5,897.9 L1486.9,896.5 L1488.3,895.1 L1489.7,893.7 L1491.2,892.3 L1492.6,890.9 L1494.0,889.5 L1495.4,888.1 L1496.8,886.6 L1498.2,885.2 L1499.6,883.8 L1501.0,882.4 L1502.4,880.9 L1503.8,879.5 L1505.2,878.1 L1506.6,876.7 L1508.0,875.2 L1509.4,873.8 L1510.8,872.3 L1512.2,870.9 L1513.6,869.4 L1514.9,868.0 L1516.3,866.5 L1517.7,865.1 L1519.0,863.6 L1520.4,862.2 L1521.8,860.7 L1523.1,859.2 L1524.5,857.8 L1525.8,856.3 L1527.2,854.8 L1528.5,853.3 L1529.8,851.9 L1531.2,850.4 L1532.5,848.9 L1533.8,847.4 L1535.1,845.9 L1536.4,844.4 L1537.8,842.9 L1539.1,841.4 L1540.4,839.9 L1541.6,838.4 L1542.9,836.8 L1544.2,835.3 L1545.5,833.8 L1546.8,832.3 L1548.0,830.7 L1549.3,829.2 L1550.6,827.6 L1551.8,826.1 L1553.1,824.5 L1554.3,823.0 L1555.5,821.4 L1556.8,819.9 L1558.0,818.3 L1559.3,816.8 L1560.5,815.2 L1561.7,813.7 L1562.9,812.1 L1564.2,810.5 L1565.4,809.0 L1566.6,807.4 L1567.8,805.8 L1569.1,804.3 L1570.3,802.7 L1571.5,801.1 L1572.7,799.6 L1574.0,798.0 L1575.2,796.4 L1576.4,794.9 L1577.6,793.3 L1578.9,791.7 L1580.1,790.2 L1581.3,788.6 L1582.5,787.0 L1583.8,785.5 L1585.0,783.9 L1586.2,782.4 L1587.5,780.8 L1588.7,779.3 L1590.0,777.7 L1591.2,776.2 L1592.5,774.6 L1593.8,773.1 L1595.0,771.6 L1596.3,770.1 L1597.6,768.5 L1598.9,767.0 L1600.2,765.5 L1601.4,764.0 L1602.7,762.5 L1604.1,761.0 L1605.4,759.5 L1606.7,758.0 L1608.0,756.5 L1609.3,755.0 L1610.7,753.5 L1612.0,752.1 L1613.3,750.6 L1614.7,749.1 L1616.0,747.6 L1617.4,746.2 L1618.7,744.7 L1620.1,743.2 L1621.5,741.8 L1622.8,740.3 L1624.2,738.9 L1625.6,737.4 L1626.9,736.0 L1628.3,734.5 L1629.7,733.1 L1631.1,731.6 L1632.5,730.2 L1633.8,728.8 L1635.2,727.3 L1636.6,725.9 L1638.0,724.4 L1639.4,723.0 L1640.8,721.6 L1642.2,720.1 L1643.6,718.7 L1644.9,717.2 L1646.3,715.8 L1647.7,714.4 L1649.1,712.9 L1650.5,711.5 L1651.9,710.0 L1653.3,708.6 L1654.7,707.2 L1656.1,705.7 L1657.4,704.3 L1658.8,702.8 L1660.2,701.4 L1661.6,699.9 L1663.0,698.5 L1664.3,697.0 L1665.7,695.6 L1667.1,694.1 L1668.4,692.6 L1669.8,691.2 L1671.2,689.7 L1672.5,688.2 L1673.9,686.8 L1675.2,685.3 L1676.6,683.8 L1678.0,682.4 L1679.3,680.9 L1680.7,679.4 L1682.0,677.9 L1683.4,676.5 L1684.7,675.0 L1686.1,673.5 L1687.4,672.0 L1688.7,670.6 L1690.1,669.1 L1691.4,667.6 L1692.8,666.1 L1694.1,664.7 L1695.5,663.2 L1696.8,661.7 L1698.2,660.3 L1699.5,658.8 L1700.9,657.3 L1702.2,655.8 L1703.6,654.4 L1705.0,652.9 L1706.3,651.4 L1707.7,650.0 L1709.0,648.5 L1710.4,647.1 L1711.8,645.6 L1713.1,644.2 L1714.5,642.7 L1715.9,641.3 L1717.2,639.8 L1718.6,638.4 L1720.0,636.9 L1721.4,635.5 L1722.8,634.1 L1724.2,632.6 L1725.5,631.2 L1726.9,629.8 L1728.3,628.4 L1729.7,626.9 L1731.2,625.5 L1732.6,624.1 L1734.0,622.7 L1735.4,621.3 L1736.8,619.9 L1738.3,618.5 L1739.7,617.2 L1741.1,615.8 L1742.6,614.4 L1744.0,613.0 L1745.5,611.7 L1747.0,610.3 L1748.4,609.0 L1749.9,607.6 L1751.4,606.3 L1752.9,605.0 L1754.4,603.6 L1755.9,602.3 L1757.4,601.0 L1758.9,599.7 L1760.4,598.4 L1761.9,597.1 L1763.5,595.8 L1765.0,594.5 L1766.6,593.3 L1768.1,592.0 L1769.7,590.7 L1771.2,589.5 L1772.8,588.2 L1774.3,587.0 L1775.9,585.7 L1777.5,584.5 L1779.1,583.2 L1780.7,582.0 L1782.2,580.7 L1783.8,579.5 L1785.4,578.3 L1787.0,577.0 L1788.6,575.8 L1790.2,574.6 L1791.8,573.4 L1793.3,572.1 L1794.9,570.9 L1796.5,569.7 L1798.1,568.4 L1799.7,567.2 L1801.3,566.0 L1802.9,564.7 L1804.5,563.5 L1806.0,562.3 L1807.6,561.0 L1809.2,559.8 L1810.8,558.5 L1812.3,557.3 L1813.9,556.0 L1815.4,554.8 L1817.0,553.5 L1818.5,552.3 L1820.1,551.0 L1821.6,549.7 L1823.2,548.4 L1824.7,547.1 L1826.2,545.9 L1827.7,544.6 L1829.2,543.2 L1830.7,541.9 L1832.2,540.6 L1833.7,539.3 L1835.2,537.9 L1836.6,536.6 L1838.1,535.3 L1839.5,533.9 L1841.0,532.5 L1842.4,531.1 L1843.8,529.8 L1845.2,528.4 L1846.6,526.9 L1848.0,525.5 L1849.3,524.1 L1850.7,522.6 L1852.0,521.2 L1853.4,519.7 L1854.7,518.2 L1856.0,516.8 L1857.3,515.3 L1858.6,513.7 L1859.9,512.2 L1861.1,510.7 L1862.4,509.1 L1863.6,507.6 L1864.8,506.0 L1866.0,504.4 L1867.2,502.8 L1868.4,501.2 L1869.6,499.6 L1870.8,498.0 L1871.9,496.4 L1873.1,494.8 L1874.2,493.1 L1875.4,491.5 L1876.5,489.8 L1877.6,488.2 L1878.7,486.5 L1879.8,484.8 L1880.9,483.1 L1882.0,481.5 L1883.1,479.8 L1884.1,478.1 L1885.2,476.4 L1886.3,474.6 L1887.3,472.9 L1888.3,471.2 L1889.4,469.5 L1890.4,467.8 L1891.4,466.0 L1892.4,464.3 L1893.5,462.5 L1894.5,460.8 L1895.5,459.1 L1896.5,457.3 L1897.4,455.6 L1898.4,453.8 L1899.4,452.1 L1900.4,450.3 L1901.4,448.5 L1902.3,446.8 L1903.3,445.0 L1904.3,443.3 L1905.2,441.5 L1906.2,439.7 L1907.2,438.0 L1908.1,436.2 L1909.1,434.4 L1910.0,432.7 L1910.9,430.9 L1911.9,429.1 L1912.8,427.4 L1913.7,425.6 L1914.6,423.8 L1915.6,422.0 L1916.5,420.3 L1917.4,418.5 L1918.3,416.7 L1919.2,414.9 L1920.1,413.1 L1921.0,411.3 L1921.9,409.6 L1922.8,407.8 L1923.7,406.0 L1924.5,404.2 L1925.4,402.4 L1926.3,400.6 L1927.2,398.8 L1928.0,397.0 L1928.9,395.2 L1929.7,393.4 L1930.6,391.6 L1931.4,389.8 L1932.3,388.0 L1933.1,386.2 L1933.9,384.4 L1934.8,382.6 L1935.6,380.8 L1936.4,378.9 L1937.2,377.1 L1938.0,375.3 L1938.9,373.5 L1939.7,371.7 L1940.5,369.8 L1941.2,368.0 L1942.0,366.2 L1942.8,364.4 L1943.6,362.5 L1944.4,360.7 L1945.1,358.9 L1945.9,357.0 L1946.7,355.2 L1947.4,353.4 L1948.2,351.5 L1948.9,349.7 L1949.7,347.8 L1950.4,346.0 L1951.1,344.1 L1951.9,342.3 L1952.6,340.4 L1953.3,338.6 L1954.0,336.7 L1954.7,334.8 L1955.4,333.0 L1956.1,331.1 L1956.8,329.3 L1957.5,327.4 L1958.2,325.5 L1958.9,323.6 L1959.5,321.8 L1960.2,319.9 L1960.9,318.0 L1961.5,316.1 L1962.2,314.2 L1962.8,312.4 L1963.5,310.5 L1964.1,308.6 L1964.8,306.7 L1965.4,304.8 L1966.0,302.9 L1966.6,301.0 L1967.2,299.1 L1967.8,297.2 L1968.4,295.3 L1969.0,293.4 L1969.6,291.5 L1970.2,289.5 L1970.8,287.6 L1971.4,285.7 L1971.9,283.8 L1972.5,281.9 L1973.0,279.9 L1973.6,278.0 L1974.1,276.1 L1974.7,274.2 L1975.2,272.2 M1034.4,1075.5 L1034.4,1067.5 L1035.6,1067.5 L1035.6,1075.5"/>
<path stroke="#00D08C" d="M359.3,1331.9 L359.4,1329.9 L359.5,1328.0 L359.6,1326.0 L359.7,1324.0 L359.8,1322.0 L359.9,1320.0 L360.0,1318.0 L360.1,1316.1 L360.1,1314.1 L360.2,1312.1 L360.3,1310.1 L360.4,1308.1 L360.5,1306.1 L360.6,1304.1 L360.7,1302.1 L360.8,1300.1 L360.8,1298.1 L360.9,1296.1 L361.0,1294.1 L361.1,1292.1 L361.2,1290.1 L361.3,1288.1 L361.4,1286.1 L361.5,1284.1 L361.6,1282.0 L361.7,1280.0 L361.8,1278.0 L362.0,1276.0 L362.1,1274.0 L362.2,1272.0 L362.3,1270.0 L362.5,1268.0 L362.6,1266.0 L362.7,1264.0 L362.9,1262.0 L363.0,1260.0 L363.2,1258.0 L363.3,1256.0 L363.5,1254.0 L363.7,1252.0 L363.8,1250.0 L364.0,1248.0 L364.2,1246.0 L364.4,1244.0 L364.6,1242.0 L364.8,1240.0 L365.0,1238.0 L365.3,1236.0 L365.5,1234.0 L365.7,1232.0 L366.0,1230.0 L366.2,1228.0 L366.5,1226.1 L366.8,1224.1 L367.1,1222.1 L367.4,1220.1 L367.7,1218.1 L368.0,1216.2 L368.3,1214.2 L368.6,1212.2 L369.0,1210.3 L369.3,1208.3 L369.7,1206.3 L370.1,1204.4 L370.5,1202.4 L370.9,1200.5 L371.3,1198.5 L371.7,1196.6 L372.1,1194.6 L372.6,1192.7 L373.0,1190.7 L373.5,1188.8 L374.0,1186.9 L374.5,1185.0 L375.0,1183.0 L375.5,1181.1 L376.1,1179.2 L376.6,1177.3 L377.2,1175.4 L377.7,1173.5 L378.3,1171.6 L378.9,1169.7 L379.6,1167.8 L380.2,1165.9 L380.8,1164.0 L381.5,1162.1 L382.2,1160.2 L382.8,1158.3 L383.5,1156.5 L384.2,1154.6 L385.0,1152.7 L385.7,1150.9 L386.4,1149.0 L387.2,1147.1 L388.0,1145.3 L388.7,1143.4 L389.5,1141.6 L390.3,1139.7 L391.1,1137.9 L391.9,1136.1 L392.8,1134.2 L393.6,1132.4 L394.5,1130.5 L395.3,1128.7 L396.2,1126.9 L397.1,1125.1 L398.0,1123.2 L398.9,1121.4 L399.8,1119.6 L400.7,1117.8 L401.6,1116.0 L402.6,1114.2 L403.5,1112.4 L404.5,1110.6 L405.4,1108.8 L406.4,1107.0 L407.4,1105.2 L408.5,1103.5 L409.5,1101.7 L410.6,1100.0 L411.7,1098.3 L412.8,1096.7 L413.9,1095.0 L415.1,1093.4 L416.3,1091.8 L417.5,1090.3 L418.7,1088.7 L420.0,1087.3 L421.3,1085.8 L422.7,1084.4 L424.1,1083.0 L425.5,1081.7 L427.0,1080.4 L428.5,1079.2 L430.0,1078.0 L431.6,1076.8 L433.2,1075.7 L434.8,1074.6 L436.4,1073.5 L438.1,1072.5 L439.8,1071.5 L441.5,1070.6 L443.2,1069.7 L445.0,1068.8 L446.8,1068.0 L448.6,1067.2 L450.4,1066.4 L452.2,1065.7 L454.1,1065.0 L456.0,1064.4 L457.8,1063.8 L459.7,1063.2 L461.6,1062.7 L463.6,1062.1 L465.5,1061.7 L467.4,1061.2 L469.4,1060.8 L471.4,1060.4 L473.3,1060.0 L475.3,1059.7 L477.3,1059.3 L479.3,1059.0 L481.3,1058.8 L483.3,1058.5 L485.3,1058.3 L487.4,1058.1 L489.4,1057.9 L491.4,1057.7 L493.4,1057.6 L495.5,1057.4 L497.5,1057.3 L499.5,1057.2 L501.5,1057.1 L503.6,1057.0 L505.6,1056.9 L507.6,1056.9 L509.6,1056.8 L511.7,1056.8 L513.7,1056.8 L515.7,1056.7 L517.7,1056.7 L519.7,1056.7 L521.7,1056.7 L523.7,1056.8 L525.7,1056.8 L527.7,1056.8 L529.7,1056.8 L531.7,1056.9 L533.7,1056.9 L535.7,1057.0 L537.7,1057.0 L539.7,1057.1 L541.7,1057.1 L543.7,1057.2 L545.7,1057.3 L547.7,1057.3 L549.7,1057.4 L551.7,1057.5 L553.6,1057.6 L555.6,1057.6 L557.6,1057.7 L559.6,1057.8 L561.6,1057.9 L563.6,1057.9 L565.6,1058.0 L567.6,1058.1 L569.6,1058.1 L571.6,1058.2 L573.6,1058.3 L575.5,1058.3 L577.5,1058.4 L579.5,1058.5 L581.5,1058.6 L583.5,1058.6 L585.5,1058.7 L587.5,1058.8 L589.5,1058.8 L591.5,1058.9 L593.5,1058.9 L595.5,1059.0 L597.5,1059.1 L599.5,1059.1 L601.5,1059.2 L603.5,1059.3 L605.5,1059.3 L607.4,1059.4 L609.4,1059.4 L611.4,1059.5 L613.4,1059.6 L615.4,1059.6 L617.4,1059.7 L619.4,1059.7 L621.4,1059.8 L623.4,1059.9 L625.4,1059.9 L627.4,1060.0 L629.4,1060.0 L631.4,1060.1 L633.4,1060.1 L635.4,1060.2 L637.4,1060.3 L639.4,1060.3 L641.4,1060.4 L643.4,1060.4 L645.4,1060.5 L647.4,1060.5 L649.4,1060.6 L651.4,1060.6 L653.4,1060.7 L655.4,1060.8 L657.4,1060.8 L659.4,1060.9 L661.4,1060.9 L663.4,1061.0 L665.4,1061.0 L667.4,1061.1 L669.4,1061.1 L671.4,1061.2 L673.4,1061.3 L675.4,1061.3 L677.4,1061.4 L679.4,1061.4 L681.4,1061.5 L683.4,1061.5 L685.4,1061.6 L687.4,1061.7 L689.4,1061.7 L691.4,1061.8 L693.4,1061.8 L695.4,1061.9 L697.4,1062.0 L699.4,1062.0 L701.4,1062.1 L703.4,1062.1 L705.4,1062.2 L707.4,1062.3 L709.4,1062.3 L711.4,1062.4 L713.4,1062.4 L715.4,1062.5 L717.4,1062.6 L719.4,1062.6 L721.4,1062.7 L723.4,1062.8 L725.4,1062.8 L727.4,1062.9 L729.4,1063.0 L731.4,1063.0 L733.4,1063.1 L735.4,1063.2 L737.4,1063.2 L739.4,1063.3 L741.4,1063.4 L743.4,1063.4 L745.4,1063.5 L747.4,1063.6 L749.4,1063.7 L751.4,1063.7 L753.4,1063.8 L755.4,1063.9 L757.4,1064.0 L759.4,1064.0 L761.4,1064.1 L763.4,1064.2 L765.4,1064.3 L767.4,1064.4 L769.5,1064.4 L771.5,1064.5 L773.5,1064.6 L775.5,1064.7 L777.5,1064.8 L779.5,1064.9 L781.5,1065.0 L783.5,1065.0 L785.5,1065.1 L787.5,1065.2 L789.5,1065.3 L791.5,1065.4 L793.5,1065.5 L795.5,1065.6 L797.5,1065.7 L799.5,1065.8 L801.5,1065.9 L803.5,1066.0 L805.5,1066.1 L807.5,1066.2 L809.5,1066.3 L811.5,1066.4 L813.5,1066.5 L815.5,1066.6 L817.5,1066.7 L819.5,1066.8 L821.5,1066.9 L823.5,1067.1 L825.5,1067.2 L827.5,1067.3 L829.5,1067.4 L831.5,1067.5 L833.5,1067.6 L835.6,1067.8 L837.6,1067.9 L839.6,1068.0 L841.6,1068.1 L843.6,1068.2 L845.6,1068.4 L847.6,1068.5 L849.6,1068.6 L851.6,1068.7 L853.6,1068.9 L855.6,1069.0 L857.6,1069.1 L859.6,1069.3 L861.6,1069.4 L863.6,1069.5 L865.6,1069.6 L867.6,1069.8 L869.6,1069.9 L871.6,1070.0 L873.6,1070.2 L875.6,1070.3 L877.6,1070.4 L879.6,1070.6 L881.6,1070.7 L883.6,1070.8 L885.6,1071.0 L887.6,1071.1 L889.6,1071.2 L891.6,1071.3 L893.6,1071.5 L895.6,1071.6 L897.6,1071.7 L899.6,1071.9 L901.6,1072.0 L903.6,1072.1 L905.6,1072.3 L907.6,1072.4 L909.6,1072.5 L911.6,1072.6 L913.6,1072.8 L915.6,1072.9 L917.6,1073.0 L919.6,1073.1 L921.6,1073.3 L923.6,1073.4 L925.6,1073.5 L927.7,1073.6 L929.7,1073.8 L931.7,1073.9 L933.7,1074.0 L935.7,1074.1 L937.7,1074.2 L939.7,1074.3 L941.7,1074.5 L943.7,1074.6 L945.7,1074.7 L947.7,1074.8 L949.7,1074.9 L951.7,1075.0 L953.7,1075.1 L955.7,1075.2 L957.7,1075.3 L959.7,1075.4 L961.7,1075.5 L963.7,1075.6 L965.7,1075.7 L967.7,1075.8 L969.7,1075.9 L971.7,1076.0 L973.7,1076.1 L975.7,1076.2 L977.7,1076.2 L979.7,1076.3 L981.7,1076.4 L983.7,1076.5 L985.7,1076.6 L987.7,1076.6 L989.7,1076.7 L991.7,1076.8 L993.7,1076.8 L995.7,1076.9 L997.7,1077.0 L999.7,1077.0 L1001.7,1077.1 L1003.7,1077.1 L1005.7,1077.2 L1007.7,1077.2 L1009.7,1077.3 L1011.7,1077.3 L1013.7,1077.4 L1015.7,1077.4 L1017.7,1077.4 L1019.6,1077.5 L1021.6,1077.5 L1023.6,1077.5 L1025.6,1077.6 L1027.6,1077.6 L1029.6,1077.6 L1031.6,1077.6 L1033.6,1077.6 L1035.6,1077.6 L1037.6,1077.6 L1039.6,1077.6 L1041.6,1077.6 L1043.6,1077.6 L1045.6,1077.6 L1047.6,1077.6 L1049.6,1077.6 L1051.6,1077.6 L1053.6,1077.6 L1055.6,1077.5 L1057.6,1077.5 L1059.6,1077.5 L1061.6,1077.4 L1063.6,1077.4 L1065.6,1077.3 L1067.6,1077.3 L1069.6,1077.2 L1071.6,1077.2 L1073.6,1077.1 L1075.6,1077.1 L1077.6,1077.0 L1079.6,1076.9 L1081.6,1076.8 L1083.6,1076.8 L1085.6,1076.7 L1087.6,1076.6 L1089.6,1076.5 L1091.5,1076.4 L1093.5,1076.3 L1095.5,1076.2 L1097.5,1076.1 L1099.5,1075.9 L1101.5,1075.8 L1103.5,1075.7 L1105.5,1075.6 L1107.5,1075.4 L1109.5,1075.3 L1111.5,1075.1 L1113.5,1075.0 L1115.5,1074.8 L1117.5,1074.7 L1119.5,1074.5 L1121.5,1074.3 L1123.5,1074.2 L1125.5,1074.0 L1127.5,1073.8 L1129.5,1073.6 L1131.4,1073.4 L1133.4,1073.2 L1135.4,1073.0 L1137.4,1072.8 L1139.4,1072.6 L1141.4,1072.4 L1143.4,1072.1 L1145.4,1071.9 L1147.4,1071.7 L1149.4,1071.4 L1151.4,1071.2 L1153.4,1070.9 L1155.4,1070.6 L1157.3,1070.4 L1159.3,1070.1 L1161.3,1069.8 L1163.3,1069.5 L1165.3,1069.2 L1167.3,1068.9 L1169.3,1068.6 L1171.3,1068.3 L1173.3,1068.0 L1175.2,1067.7 L1177.2,1067.4 L1179.2,1067.0 L1181.2,1066.7 L1183.2,1066.3 L1185.1,1066.0 L1187.1,1065.6 L1189.1,1065.3 L1191.1,1064.9 L1193.1,1064.5 L1195.0,1064.1 L1197.0,1063.7 L1199.0,1063.3 L1200.9,1062.9 L1202.9,1062.5 L1204.9,1062.1 L1206.8,1061.7 L1208.8,1061.2 L1210.7,1060.8 L1212.7,1060.4 L1214.7,1059.9 L1216.6,1059.4 L1218.6,1059.0 L1220.5,1058.5 L1222.5,1058.0 L1224.4,1057.5 L1226.4,1057.0 L1228.3,1056.5 L1230.2,1056.0 L1232.2,1055.5 L1234.1,1055.0 L1236.0,1054.5 L1238.0,1053.9 L1239.9,1053.4 L1241.8,1052.8 L1243.7,1052.3 L1245.7,1051.7 L1247.6,1051.1 L1249.5,1050.5 L1251.4,1049.9 L1253.3,1049.3 L1255.2,1048.7 L1257.1,1048.1 L1259.0,1047.5 L1260.9,1046.9 L1262.8,1046.2 L1264.7,1045.6 L1266.6,1044.9 L1268.5,1044.3 L1270.4,1043.6 L1272.2,1042.9 L1274.1,1042.2 L1276.0,1041.6 L1277.8,1040.9 L1279.7,1040.1 L1281.6,1039.4 L1283.4,1038.7 L1285.3,1038.0 L1287.1,1037.2 L1289.0,1036.5 L1290.8,1035.7 L1292.7,1034.9 L1294.5,1034.2 L1296.3,1033.4 L1298.1,1032.6 L1300.0,1031.8 L1301.8,1031.0 L1303.6,1030.2 L1305.4,1029.3 L1307.2,1028.5 L1309.0,1027.6 L1310.8,1026.8 L1312.6,1025.9 L1314.4,1025.1 L1316.2,1024.2 L1318.0,1023.3 L1319.7,1022.4 L1321.5,1021.5 L1323.3,1020.6 L1325.0,1019.6 L1326.8,1018.7 L1328.5,1017.7 L1330.3,1016.8 L1332.0,1015.8 L1333.8,1014.9 L1335.5,1013.9 L1337.2,1012.9 L1338.9,1011.9 L1340.6,1010.9 L1342.4,1009.9 L1344.1,1008.8 L1345.8,1007.8 L1347.5,1006.7 L1349.1,1005.7 L1350.8,1004.6 L1352.5,1003.5 L1354.2,1002.4 L1355.8,1001.3 L1357.5,1000.2 L1359.2,999.1 L1360.8,998.0 L1362.5,996.9 L1364.1,995.7 L1365.7,994.6 L1367.4,993.4 L1369.0,992.2 L1370.6,991.1 L1372.2,989.9 L1373.8,988.7 L1375.4,987.5 L1377.0,986.3 L1378.6,985.1 L1380.2,983.8 L1381.8,982.6 L1383.4,981.4 L1384.9,980.1 L1386.5,978.9 L1388.1,977.6 L1389.6,976.3 L1391.2,975.1 L1392.7,973.8 L1394.3,972.5 L1395.8,971.2 L1397.3,969.9 L1398.9,968.6 L1400.4,967.3 L1401.9,966.0 L1403.4,964.7 L1404.9,963.3 L1406.4,962.0 L1407.9,960.7 L1409.4,959.3 L1410.9,958.0 L1412.4,956.6 L1413.9,955.3 L1415.4,953.9 L1416.8,952.5 L1418.3,951.1 L1419.7,949.8 L1421.2,948.4 L1422.6,947.0 L1424.1,945.6 L1425.5,944.2 L1427.0,942.8 L1428.4,941.4 L1429.8,940.0 L1431.2,938.6 L1432.7,937.2 L1434.1,935.8 L1435.5,934.3 L1436.9,932.9 L1438.3,931.5 L1439.7,930.1 L1441.1,928.6 L1442.5,927.2 L1443.8,925.8 L1445.2,924.3 L1446.6,922.9 L1448.0,921.4 L1449.3,920.0 L1450.7,918.5 L1452.1,917.1 L1453.4,915.6 L1454.8,914.1 L1456.1,912.7 L1457.5,911.2 L1458.8,909.7 L1460.2,908.3 L1461.5,906.8 L1462.8,905.3 L1464.2,903.8 L1465.5,902.3 L1466.8,900.9 L1468.1,899.4 L1469.4,897.9 L1470.8,896.4 L1472.1,894.9 L1473.4,893.4 L1474.7,891.9 L1476.0,890.4 L1477.3,888.9 L1478.6,887.4 L1479.9,885.9 L1481.2,884.4 L1482.5,882.9 L1483.8,881.4 L1485.1,879.8 L1486.4,878.3 L1487.7,876.8 L1488.9,875.3 L1490.2,873.8 L1491.5,872.2 L1492.8,870.7 L1494.1,869.2 L1495.3,867.7 L1496.6,866.2 L1497.9,864.6 L1499.2,863.1 L1500.4,861.6 L1501.7,860.0 L1503.0,858.5 L1504.2,857.0 L1505.5,855.4 L1506.8,853.9 L1508.1,852.4 L1509.3,850.8 L1510.6,849.3 L1511.8,847.7 L1513.1,846.2 L1514.4,844.7 L1515.6,843.1 L1516.9,841.6 L1518.2,840.0 L1519.4,838.5 L1520.7,837.0 L1521.9,835.4 L1523.2,833.9 L1524.4,832.3 L1525.7,830.8 L1527.0,829.2 L1528.2,827.7 L1529.5,826.1 L1530.7,824.6 L1532.0,823.0 L1533.2,821.5 L1534.5,819.9 L1535.7,818.4 L1537.0,816.8 L1538.2,815.2 L1539.4,813.7 L1540.7,812.1 L1541.9,810.6 L1543.2,809.0 L1544.4,807.4 L1545.7,805.9 L1546.9,804.3 L1548.1,802.8 L1549.4,801.2 L1550.6,799.6 L1551.9,798.1 L1553.1,796.5 L1554.3,794.9 L1555.6,793.4 L1556.8,791.8 L1558.0,790.2 L1559.2,788.6 L1560.5,787.1 L1561.7,785.5 L1562.9,783.9 L1564.1,782.4 L1565.4,780.8 L1566.6,779.2 L1567.8,777.6 L1569.0,776.0 L1570.3,774.5 L1571.5,772.9 L1572.7,771.3 L1573.9,769.7 L1575.1,768.1 L1576.3,766.5 L1577.5,765.0 L1578.8,763.4 L1580.0,761.8 L1581.2,760.2 L1582.4,758.6 L1583.6,757.0 L1584.8,755.4 L1586.0,753.8 L1587.2,752.2 L1588.4,750.6 L1589.6,749.0 L1590.8,747.4 L1592.0,745.8 L1593.2,744.2 L1594.4,742.6 L1595.6,741.0 L1596.8,739.4 L1597.9,737.8 L1599.1,736.2 L1600.3,734.6 L1601.5,733.0 L1602.7,731.4 L1603.9,729.8 L1605.1,728.2 L1606.2,726.6 L1607.4,725.0 L1608.6,723.4 L1609.8,721.8 L1611.0,720.2 L1612.1,718.5 L1613.3,716.9 L1614.5,715.3 L1615.7,713.7 L1616.9,712.1 L1618.0,710.5 L1619.2,708.9 L1620.4,707.3 L1621.6,705.7 L1622.8,704.1 L1624.0,702.5 L1625.1,700.9 L1626.3,699.3 L1627.5,697.7 L1628.7,696.1 L1629.9,694.5 L1631.1,692.9 L1632.3,691.3 L1633.5,689.7 L1634.7,688.1 L1635.9,686.5 L1637.1,684.9 L1638.3,683.3 L1639.5,681.7 L1640.7,680.1 L1641.9,678.5 L1643.1,676.9 L1644.3,675.4 L1645.5,673.8 L1646.7,672.2 L1647.9,670.6 L1649.2,669.1 L1650.4,667.5 L1651.6,665.9 L1652.8,664.4 L1654.1,662.8 L1655.3,661.2 L1656.5,659.7 L1657.8,658.1 L1659.0,656.6 L1660.3,655.0 L1661.5,653.5 L1662.8,651.9 L1664.1,650.4 L1665.3,648.9 L1666.6,647.3 L1667.9,645.8 L1669.1,644.3 L1670.4,642.8 L1671.7,641.3 L1673.0,639.7 L1674.3,638.2 L1675.6,636.7 L1676.9,635.2 L1678.2,633.7 L1679.5,632.2 L1680.8,630.7 L1682.1,629.3 L1683.5,627.8 L1684.8,626.3 L1686.1,624.8 L1687.5,623.4 L1688.8,621.9 L1690.2,620.5 L1691.6,619.0 L1692.9,617.6 L1694.3,616.1 L1695.7,614.7 L1697.1,613.2 L1698.4,611.8 L1699.8,610.4 L1701.2,609.0 L1702.6,607.6 L1704.0,606.1 L1705.4,604.7 L1706.9,603.3 L1708.3,601.9 L1709.7,600.5 L1711.1,599.1 L1712.6,597.7 L1714.0,596.4 L1715.4,595.0 L1716.9,593.6 L1718.3,592.2 L1719.8,590.8 L1721.2,589.5 L1722.7,588.1 L1724.1,586.7 L1725.6,585.4 L1727.1,584.0 L1728.5,582.6 L1730.0,581.3 L1731.5,579.9 L1733.0,578.6 L1734.5,577.2 L1735.9,575.9 L1737.4,574.5 L1738.9,573.2 L1740.4,571.9 L1741.9,570.5 L1743.4,569.2 L1744.9,567.9 L1746.4,566.5 L1747.9,565.2 L1749.4,563.9 L1750.9,562.5 L1752.4,561.2 L1753.9,559.9 L1755.4,558.5 L1756.9,557.2 L1758.4,555.9 L1759.9,554.6 L1761.4,553.3 L1763.0,551.9 L1764.5,550.6 L1766.0,549.3 L1767.5,548.0 L1769.0,546.6 L1770.5,545.3 L1772.0,544.0 L1773.5,542.7 L1775.1,541.4 L1776.6,540.1 L1778.1,538.7 L1779.6,537.4 L1781.1,536.1 L1782.6,534.8 L1784.1,533.5 L1785.7,532.1 L1787.2,530.8 L1788.7,529.5 L1790.2,528.2 L1791.7,526.8 L1793.2,525.5 L1794.7,524.2 L1796.2,522.9 L1797.7,521.5 L1799.2,520.2 L1800.7,518.9 L1802.2,517.6 L1803.7,516.2 L1805.2,514.9 L1806.7,513.5 L1808.2,512.2 L1809.7,510.9 L1811.2,509.5 L1812.7,508.2 L1814.1,506.8 L1815.6,505.5 L1817.1,504.1 L1818.6,502.8 L1820.0,501.4 L1821.5,500.1 L1823.0,498.7 L1824.4,497.4 L1825.9,496.0 L1827.4,494.6 L1828.8,493.2 L1830.3,491.9 L1831.7,490.5 L1833.1,489.1 L1834.6,487.7 L1836.0,486.3 L1837.4,485.0 L1838.9,483.6 L1840.3,482.2 L1841.7,480.8 L1843.1,479.4 L1844.5,478.0 L1845.9,476.5 L1847.3,475.1 L1848.7,473.7 L1850.1,472.3 L1851.5,470.9 L1852.9,469.4 L1854.3,468.0 L1855.6,466.6 L1857.0,465.1 L1858.3,463.7 L1859.7,462.2 L1861.0,460.7 L1862.4,459.3 L1863.7,457.8 L1865.1,456.3 L1866.4,454.9 L1867.7,453.4 L1869.0,451.9 L1870.3,450.4 L1871.6,448.9 L1872.9,447.4 L1874.2,445.9 L1875.5,444.4 L1876.7,442.8 L1878.0,441.3 L1879.3,439.8 L1880.5,438.2 L1881.8,436.7 L1883.0,435.1 L1884.2,433.6 L1885.4,432.0 L1886.7,430.4 L1887.9,428.9 L1889.1,427.3 L1890.3,425.7 L1891.4,424.1 L1892.6,422.5 L1893.8,420.9 L1894.9,419.3 L1896.1,417.6 L1897.2,416.0 L1898.4,414.4 L1899.5,412.7 L1900.6,411.1 L1901.7,409.4 L1902.8,407.7 L1903.9,406.1 L1905.0,404.4 L1906.1,402.7 L1907.1,401.0 L1908.2,399.3 L1909.3,397.6 L1910.3,395.9 L1911.3,394.2 L1912.4,392.4 L1913.4,390.7 L1914.4,389.0 L1915.4,387.2 L1916.4,385.5 L1917.4,383.7 L1918.3,382.0 L1919.3,380.2 L1920.3,378.4 L1921.2,376.7 L1922.2,374.9 L1923.1,373.1 L1924.1,371.3 L1925.0,369.5 L1925.9,367.7 L1926.8,365.9 L1927.7,364.1 L1928.6,362.3 L1929.5,360.5 L1930.4,358.7 L1931.3,356.9 L1932.2,355.0 L1933.1,353.2 L1933.9,351.4 L1934.8,349.5 L1935.6,347.7 L1936.5,345.9 L1937.3,344.0 L1938.1,342.2 L1939.0,340.4 L1939.8,338.5 L1940.6,336.7 L1941.4,334.8 L1942.2,333.0 L1943.0,331.1 L1943.8,329.2 L1944.6,327.4 L1945.4,325.5 L1946.1,323.7 L1946.9,321.8 L1947.7,320.0 L1948.4,318.1 L1949.2,316.2 L1949.9,314.4 L1950.7,312.5 L1951.4,310.6 L1952.2,308.8 L1952.9,306.9 L1953.6,305.1 L1954.3,303.2 L1955.1,301.3 L1955.8,299.5 L1956.5,297.6 L1957.2,295.7 L1957.9,293.9 L1958.6,292.0 L1959.3,290.2 L1960.0,288.3 L1960.7,286.5 L1961.3,284.6 L1962.0,282.8 L1962.7,280.9 L1963.4,279.1 L1964.0,277.2 L1964.7,275.4 L1965.3,273.5 L1966.0,271.7 L1966.7,269.9 L1967.3,268.0 L1967.9,266.2 L1968.6,264.4 L1969.2,262.5 L1969.9,260.7 L1970.5,258.9 L1971.1,257.1 L1971.8,255.3 L1972.4,253.5 L1973.0,251.7 L1973.6,249.9 L1974.3,248.1 M1086.4,1076 L1086.4,1065.5 L1087.6,1065.5 L1087.6,1076"/>
<path stroke="#00C8C8" d="M359.6,1325.2 L359.6,1323.1 L359.7,1321.1 L359.7,1319.1 L359.7,1317.0 L359.8,1315.0 L359.8,1313.0 L359.9,1311.0 L359.9,1308.9 L360.0,1306.9 L360.0,1304.9 L360.1,1302.9 L360.1,1300.9 L360.2,1298.8 L360.3,1296.8 L360.4,1294.8 L360.4,1292.8 L360.5,1290.8 L360.6,1288.8 L360.7,1286.8 L360.8,1284.8 L360.9,1282.7 L361.0,1280.7 L361.1,1278.7 L361.2,1276.7 L361.4,1274.7 L361.5,1272.7 L361.6,1270.7 L361.8,1268.7 L361.9,1266.7 L362.1,1264.7 L362.2,1262.7 L362.4,1260.7 L362.6,1258.8 L362.7,1256.8 L362.9,1254.8 L363.1,1252.8 L363.3,1250.8 L363.5,1248.8 L363.7,1246.8 L363.9,1244.9 L364.1,1242.9 L364.4,1240.9 L364.6,1238.9 L364.9,1237.0 L365.1,1235.0 L365.4,1233.0 L365.6,1231.0 L365.9,1229.1 L366.2,1227.1 L366.5,1225.1 L366.8,1223.2 L367.1,1221.2 L367.4,1219.3 L367.7,1217.3 L368.1,1215.4 L368.4,1213.4 L368.8,1211.4 L369.1,1209.5 L369.5,1207.5 L369.9,1205.6 L370.3,1203.6 L370.7,1201.7 L371.1,1199.8 L371.5,1197.8 L372.0,1195.9 L372.4,1193.9 L372.8,1192.0 L373.3,1190.1 L373.8,1188.1 L374.3,1186.2 L374.8,1184.3 L375.3,1182.4 L375.8,1180.4 L376.3,1178.5 L376.8,1176.6 L377.4,1174.7 L378.0,1172.8 L378.5,1170.8 L379.1,1168.9 L379.7,1167.0 L380.3,1165.1 L380.9,1163.2 L381.6,1161.3 L382.2,1159.4 L382.9,1157.5 L383.6,1155.6 L384.2,1153.7 L384.9,1151.8 L385.7,1149.9 L386.4,1148.0 L387.1,1146.1 L387.9,1144.3 L388.6,1142.4 L389.4,1140.5 L390.2,1138.6 L391.0,1136.7 L391.8,1134.9 L392.6,1133.0 L393.5,1131.1 L394.4,1129.2 L395.2,1127.4 L396.1,1125.5 L397.0,1123.7 L398.0,1121.9 L398.9,1120.0 L399.9,1118.2 L400.8,1116.4 L401.8,1114.6 L402.8,1112.8 L403.9,1111.1 L404.9,1109.3 L406.0,1107.6 L407.1,1105.9 L408.2,1104.2 L409.3,1102.5 L410.5,1100.8 L411.6,1099.2 L412.8,1097.6 L414.0,1096.0 L415.3,1094.4 L416.5,1092.9 L417.8,1091.4 L419.1,1089.9 L420.4,1088.4 L421.8,1087.0 L423.1,1085.6 L424.5,1084.2 L426.0,1082.9 L427.4,1081.6 L428.9,1080.3 L430.4,1079.1 L431.9,1077.9 L433.4,1076.8 L435.0,1075.7 L436.6,1074.6 L438.3,1073.6 L439.9,1072.7 L441.6,1071.7 L443.3,1070.8 L445.0,1070.0 L446.8,1069.2 L448.5,1068.4 L450.3,1067.6 L452.1,1066.9 L454.0,1066.3 L455.8,1065.6 L457.7,1065.0 L459.5,1064.4 L461.4,1063.9 L463.3,1063.4 L465.3,1062.9 L467.2,1062.4 L469.1,1062.0 L471.1,1061.6 L473.1,1061.2 L475.1,1060.9 L477.0,1060.5 L479.0,1060.2 L481.0,1060.0 L483.1,1059.7 L485.1,1059.5 L487.1,1059.3 L489.1,1059.1 L491.1,1058.9 L493.2,1058.7 L495.2,1058.6 L497.2,1058.5 L499.3,1058.4 L501.3,1058.3 L503.4,1058.2 L505.4,1058.2 L507.4,1058.1 L509.4,1058.1 L511.5,1058.1 L513.5,1058.1 L515.5,1058.1 L517.5,1058.1 L519.6,1058.1 L521.6,1058.1 L523.6,1058.2 L525.6,1058.2 L527.6,1058.3 L529.6,1058.3 L531.6,1058.4 L533.6,1058.5 L535.6,1058.6 L537.6,1058.6 L539.7,1058.7 L541.7,1058.8 L543.7,1058.9 L545.7,1059.0 L547.7,1059.1 L549.7,1059.2 L551.7,1059.3 L553.7,1059.4 L555.7,1059.6 L557.7,1059.7 L559.7,1059.8 L561.7,1059.9 L563.7,1060.0 L565.7,1060.1 L567.7,1060.2 L569.7,1060.3 L571.7,1060.4 L573.7,1060.5 L575.7,1060.6 L577.7,1060.7 L579.7,1060.7 L581.7,1060.8 L583.7,1060.9 L585.7,1061.0 L587.7,1061.1 L589.7,1061.2 L591.7,1061.3 L593.7,1061.3 L595.7,1061.4 L597.7,1061.5 L599.7,1061.6 L601.7,1061.7 L603.7,1061.7 L605.7,1061.8 L607.7,1061.9 L609.7,1062.0 L611.7,1062.0 L613.7,1062.1 L615.7,1062.2 L617.7,1062.3 L619.7,1062.3 L621.7,1062.4 L623.7,1062.5 L625.7,1062.5 L627.7,1062.6 L629.7,1062.7 L631.7,1062.7 L633.7,1062.8 L635.7,1062.8 L637.7,1062.9 L639.7,1063.0 L641.7,1063.0 L643.7,1063.1 L645.7,1063.2 L647.7,1063.2 L649.7,1063.3 L651.7,1063.3 L653.7,1063.4 L655.7,1063.4 L657.7,1063.5 L659.7,1063.6 L661.7,1063.6 L663.7,1063.7 L665.7,1063.7 L667.7,1063.8 L669.7,1063.8 L671.7,1063.9 L673.7,1063.9 L675.7,1064.0 L677.7,1064.1 L679.7,1064.1 L681.7,1064.2 L683.7,1064.2 L685.7,1064.3 L687.7,1064.3 L689.7,1064.4 L691.7,1064.4 L693.7,1064.5 L695.7,1064.5 L697.7,1064.6 L699.7,1064.6 L701.7,1064.7 L703.7,1064.7 L705.7,1064.8 L707.7,1064.9 L709.7,1064.9 L711.7,1065.0 L713.7,1065.0 L715.7,1065.1 L717.7,1065.1 L719.7,1065.2 L721.7,1065.2 L723.7,1065.3 L725.7,1065.3 L727.7,1065.4 L729.7,1065.5 L731.7,1065.5 L733.7,1065.6 L735.7,1065.6 L737.7,1065.7 L739.7,1065.8 L741.8,1065.8 L743.8,1065.9 L745.8,1065.9 L747.8,1066.0 L749.8,1066.1 L751.8,1066.1 L753.8,1066.2 L755.8,1066.3 L757.8,1066.3 L759.8,1066.4 L761.8,1066.4 L763.8,1066.5 L765.8,1066.6 L767.8,1066.7 L769.8,1066.7 L771.8,1066.8 L773.8,1066.9 L775.8,1066.9 L777.8,1067.0 L779.8,1067.1 L781.8,1067.2 L783.8,1067.2 L785.8,1067.3 L787.8,1067.4 L789.8,1067.5 L791.8,1067.6 L793.8,1067.6 L795.8,1067.7 L797.8,1067.8 L799.8,1067.9 L801.8,1068.0 L803.8,1068.1 L805.8,1068.2 L807.8,1068.3 L809.8,1068.4 L811.8,1068.4 L813.8,1068.5 L815.8,1068.6 L817.8,1068.7 L819.8,1068.8 L821.8,1068.9 L823.8,1069.0 L825.8,1069.1 L827.8,1069.3 L829.8,1069.4 L831.8,1069.5 L833.8,1069.6 L835.8,1069.7 L837.8,1069.8 L839.8,1069.9 L841.8,1070.0 L843.8,1070.1 L845.8,1070.3 L847.8,1070.4 L849.8,1070.5 L851.8,1070.6 L853.8,1070.7 L855.8,1070.8 L857.8,1071.0 L859.8,1071.1 L861.8,1071.2 L863.8,1071.3 L865.8,1071.5 L867.8,1071.6 L869.8,1071.7 L871.8,1071.8 L873.8,1072.0 L875.8,1072.1 L877.8,1072.2 L879.8,1072.3 L881.8,1072.5 L883.8,1072.6 L885.9,1072.7 L887.9,1072.8 L889.9,1073.0 L891.9,1073.1 L893.9,1073.2 L895.9,1073.3 L897.9,1073.5 L899.9,1073.6 L901.9,1073.7 L903.9,1073.8 L905.9,1074.0 L907.9,1074.1 L909.9,1074.2 L911.9,1074.3 L913.9,1074.5 L915.9,1074.6 L917.9,1074.7 L919.9,1074.8 L921.9,1074.9 L923.9,1075.1 L925.9,1075.2 L927.9,1075.3 L929.9,1075.4 L931.9,1075.5 L933.9,1075.6 L935.9,1075.7 L937.9,1075.9 L939.9,1076.0 L941.9,1076.1 L943.9,1076.2 L945.9,1076.3 L947.9,1076.4 L949.9,1076.5 L951.9,1076.6 L953.9,1076.7 L955.9,1076.8 L957.9,1076.9 L959.9,1077.0 L961.9,1077.1 L963.9,1077.2 L965.9,1077.3 L967.9,1077.4 L969.9,1077.5 L971.9,1077.5 L973.9,1077.6 L975.9,1077.7 L977.9,1077.8 L979.9,1077.9 L981.9,1077.9 L983.9,1078.0 L985.9,1078.1 L987.9,1078.2 L989.9,1078.2 L991.9,1078.3 L993.9,1078.4 L995.9,1078.4 L997.9,1078.5 L999.9,1078.5 L1001.9,1078.6 L1003.9,1078.6 L1005.9,1078.7 L1007.9,1078.7 L1009.9,1078.8 L1011.9,1078.8 L1013.9,1078.8 L1015.9,1078.9 L1017.9,1078.9 L1019.9,1078.9 L1021.9,1079.0 L1023.9,1079.0 L1025.9,1079.0 L1027.9,1079.0 L1029.9,1079.0 L1031.9,1079.0 L1033.9,1079.1 L1035.9,1079.1 L1037.9,1079.1 L1039.9,1079.1 L1041.9,1079.0 L1043.9,1079.0 L1045.9,1079.0 L1047.9,1079.0 L1049.9,1079.0 L1051.9,1079.0 L1053.9,1078.9 L1055.9,1078.9 L1057.9,1078.9 L1059.9,1078.8 L1061.9,1078.8 L1063.9,1078.7 L1065.9,1078.7 L1067.9,1078.6 L1069.9,1078.6 L1071.9,1078.5 L1073.9,1078.4 L1075.9,1078.3 L1077.9,1078.3 L1079.9,1078.2 L1081.9,1078.1 L1083.9,1078.0 L1085.9,1077.9 L1087.9,1077.8 L1089.9,1077.7 L1091.9,1077.6 L1093.9,1077.5 L1095.9,1077.4 L1097.9,1077.3 L1099.9,1077.1 L1101.9,1077.0 L1103.9,1076.9 L1105.9,1076.7 L1107.9,1076.6 L1109.9,1076.4 L1111.9,1076.3 L1113.9,1076.1 L1115.9,1075.9 L1117.9,1075.8 L1119.9,1075.6 L1121.9,1075.4 L1123.9,1075.2 L1125.9,1075.0 L1127.9,1074.8 L1129.9,1074.6 L1131.9,1074.4 L1133.9,1074.2 L1135.9,1074.0 L1137.9,1073.8 L1139.9,1073.5 L1141.9,1073.3 L1143.9,1073.1 L1145.9,1072.8 L1147.9,1072.6 L1149.9,1072.3 L1151.9,1072.0 L1153.9,1071.8 L1155.9,1071.5 L1157.9,1071.2 L1159.9,1070.9 L1161.9,1070.6 L1163.9,1070.3 L1165.9,1070.0 L1167.9,1069.7 L1169.9,1069.4 L1171.9,1069.0 L1173.9,1068.7 L1175.9,1068.4 L1177.9,1068.0 L1179.9,1067.7 L1181.9,1067.3 L1183.8,1067.0 L1185.8,1066.6 L1187.8,1066.2 L1189.8,1065.8 L1191.8,1065.4 L1193.8,1065.0 L1195.7,1064.6 L1197.7,1064.2 L1199.7,1063.8 L1201.7,1063.4 L1203.6,1062.9 L1205.6,1062.5 L1207.6,1062.0 L1209.5,1061.6 L1211.5,1061.1 L1213.5,1060.6 L1215.4,1060.2 L1217.4,1059.7 L1219.3,1059.2 L1221.3,1058.7 L1223.2,1058.2 L1225.2,1057.7 L1227.1,1057.1 L1229.1,1056.6 L1231.0,1056.1 L1232.9,1055.5 L1234.9,1055.0 L1236.8,1054.4 L1238.7,1053.8 L1240.6,1053.3 L1242.6,1052.7 L1244.5,1052.1 L1246.4,1051.5 L1248.3,1050.9 L1250.2,1050.2 L1252.1,1049.6 L1254.0,1049.0 L1255.9,1048.3 L1257.8,1047.7 L1259.7,1047.0 L1261.6,1046.4 L1263.5,1045.7 L1265.3,1045.0 L1267.2,1044.3 L1269.1,1043.6 L1270.9,1042.9 L1272.8,1042.2 L1274.7,1041.4 L1276.5,1040.7 L1278.4,1040.0 L1280.2,1039.2 L1282.0,1038.4 L1283.9,1037.7 L1285.7,1036.9 L1287.5,1036.1 L1289.4,1035.3 L1291.2,1034.5 L1293.0,1033.7 L1294.8,1032.8 L1296.6,1032.0 L1298.4,1031.2 L1300.2,1030.3 L1302.0,1029.4 L1303.7,1028.6 L1305.5,1027.7 L1307.3,1026.8 L1309.1,1025.9 L1310.8,1025.0 L1312.6,1024.0 L1314.3,1023.1 L1316.1,1022.2 L1317.8,1021.2 L1319.5,1020.3 L1321.3,1019.3 L1323.0,1018.3 L1324.7,1017.3 L1326.4,1016.3 L1328.1,1015.3 L1329.8,1014.3 L1331.5,1013.3 L1333.2,1012.2 L1334.8,1011.2 L1336.5,1010.1 L1338.2,1009.0 L1339.8,1007.9 L1341.5,1006.8 L1343.1,1005.7 L1344.8,1004.6 L1346.4,1003.5 L1348.0,1002.4 L1349.6,1001.2 L1351.2,1000.1 L1352.8,998.9 L1354.4,997.7 L1356.0,996.5 L1357.6,995.3 L1359.2,994.1 L1360.8,992.9 L1362.3,991.7 L1363.9,990.4 L1365.4,989.2 L1367.0,987.9 L1368.5,986.7 L1370.0,985.4 L1371.6,984.1 L1373.1,982.8 L1374.6,981.5 L1376.1,980.2 L1377.6,978.9 L1379.1,977.6 L1380.6,976.3 L1382.1,974.9 L1383.6,973.6 L1385.1,972.3 L1386.6,970.9 L1388.0,969.5 L1389.5,968.2 L1391.0,966.8 L1392.4,965.4 L1393.9,964.0 L1395.3,962.6 L1396.8,961.3 L1398.2,959.9 L1399.7,958.4 L1401.1,957.0 L1402.5,955.6 L1403.9,954.2 L1405.4,952.8 L1406.8,951.3 L1408.2,949.9 L1409.6,948.5 L1411.0,947.0 L1412.4,945.6 L1413.8,944.2 L1415.2,942.7 L1416.6,941.2 L1418.0,939.8 L1419.4,938.3 L1420.8,936.9 L1422.2,935.4 L1423.6,933.9 L1425.0,932.5 L1426.4,931.0 L1427.7,929.5 L1429.1,928.1 L1430.5,926.6 L1431.9,925.1 L1433.3,923.6 L1434.6,922.2 L1436.0,920.7 L1437.4,919.2 L1438.7,917.7 L1440.1,916.3 L1441.5,914.8 L1442.8,913.3 L1444.2,911.8 L1445.6,910.3 L1446.9,908.9 L1448.3,907.4 L1449.6,905.9 L1451.0,904.4 L1452.3,902.9 L1453.7,901.5 L1455.0,900.0 L1456.4,898.5 L1457.7,897.0 L1459.1,895.5 L1460.4,894.0 L1461.7,892.5 L1463.1,891.0 L1464.4,889.5 L1465.7,888.0 L1467.1,886.5 L1468.4,885.0 L1469.7,883.5 L1471.0,882.0 L1472.3,880.5 L1473.7,879.0 L1475.0,877.5 L1476.3,876.0 L1477.6,874.5 L1478.9,873.0 L1480.2,871.5 L1481.5,870.0 L1482.8,868.4 L1484.1,866.9 L1485.4,865.4 L1486.7,863.9 L1487.9,862.3 L1489.2,860.8 L1490.5,859.3 L1491.8,857.7 L1493.0,856.2 L1494.3,854.7 L1495.6,853.1 L1496.8,851.6 L1498.1,850.0 L1499.3,848.5 L1500.6,846.9 L1501.8,845.4 L1503.1,843.8 L1504.3,842.2 L1505.5,840.7 L1506.8,839.1 L1508.0,837.5 L1509.2,835.9 L1510.4,834.4 L1511.6,832.8 L1512.8,831.2 L1514.0,829.6 L1515.2,828.0 L1516.4,826.4 L1517.6,824.8 L1518.8,823.2 L1520.0,821.6 L1521.2,820.0 L1522.4,818.4 L1523.5,816.8 L1524.7,815.2 L1525.9,813.5 L1527.0,811.9 L1528.2,810.3 L1529.4,808.7 L1530.5,807.0 L1531.7,805.4 L1532.8,803.8 L1534.0,802.1 L1535.1,800.5 L1536.2,798.8 L1537.4,797.2 L1538.5,795.6 L1539.7,793.9 L1540.8,792.3 L1541.9,790.6 L1543.0,789.0 L1544.2,787.3 L1545.3,785.6 L1546.4,784.0 L1547.5,782.3 L1548.7,780.7 L1549.8,779.0 L1550.9,777.3 L1552.0,775.7 L1553.1,774.0 L1554.2,772.3 L1555.3,770.7 L1556.4,769.0 L1557.5,767.3 L1558.6,765.7 L1559.7,764.0 L1560.9,762.3 L1562.0,760.6 L1563.1,759.0 L1564.2,757.3 L1565.3,755.6 L1566.4,753.9 L1567.4,752.3 L1568.5,750.6 L1569.6,748.9 L1570.7,747.2 L1571.8,745.5 L1572.9,743.9 L1574.0,742.2 L1575.1,740.5 L1576.2,738.8 L1577.3,737.2 L1578.4,735.5 L1579.5,733.8 L1580.6,732.1 L1581.7,730.4 L1582.8,728.8 L1583.9,727.1 L1585.0,725.4 L1586.1,723.7 L1587.2,722.1 L1588.3,720.4 L1589.4,718.7 L1590.5,717.0 L1591.6,715.4 L1592.7,713.7 L1593.8,712.0 L1594.9,710.3 L1596.0,708.7 L1597.1,707.0 L1598.3,705.3 L1599.4,703.7 L1600.5,702.0 L1601.6,700.3 L1602.7,698.7 L1603.8,697.0 L1605.0,695.4 L1606.1,693.7 L1607.2,692.0 L1608.3,690.4 L1609.5,688.7 L1610.6,687.1 L1611.7,685.4 L1612.9,683.8 L1614.0,682.1 L1615.2,680.5 L1616.3,678.9 L1617.4,677.2 L1618.6,675.6 L1619.7,674.0 L1620.9,672.3 L1622.1,670.7 L1623.2,669.1 L1624.4,667.4 L1625.5,665.8 L1626.7,664.2 L1627.9,662.6 L1629.1,661.0 L1630.2,659.3 L1631.4,657.7 L1632.6,656.1 L1633.8,654.5 L1635.0,652.9 L1636.1,651.3 L1637.3,649.7 L1638.5,648.1 L1639.7,646.5 L1640.9,644.9 L1642.1,643.3 L1643.3,641.7 L1644.5,640.1 L1645.7,638.5 L1647.0,636.9 L1648.2,635.4 L1649.4,633.8 L1650.6,632.2 L1651.8,630.6 L1653.1,629.0 L1654.3,627.5 L1655.5,625.9 L1656.7,624.3 L1658.0,622.8 L1659.2,621.2 L1660.5,619.6 L1661.7,618.1 L1662.9,616.5 L1664.2,614.9 L1665.4,613.4 L1666.7,611.8 L1667.9,610.3 L1669.2,608.7 L1670.5,607.2 L1671.7,605.6 L1673.0,604.1 L1674.2,602.6 L1675.5,601.0 L1676.8,599.5 L1678.1,598.0 L1679.3,596.4 L1680.6,594.9 L1681.9,593.4 L1683.2,591.8 L1684.5,590.3 L1685.7,588.8 L1687.0,587.3 L1688.3,585.8 L1689.6,584.2 L1690.9,582.7 L1692.2,581.2 L1693.5,579.7 L1694.8,578.2 L1696.1,576.7 L1697.4,575.2 L1698.8,573.7 L1700.1,572.2 L1701.4,570.7 L1702.7,569.2 L1704.0,567.7 L1705.4,566.2 L1706.7,564.7 L1708.0,563.2 L1709.3,561.8 L1710.7,560.3 L1712.0,558.8 L1713.3,557.3 L1714.7,555.8 L1716.0,554.4 L1717.4,552.9 L1718.7,551.4 L1720.1,550.0 L1721.4,548.5 L1722.8,547.0 L1724.1,545.6 L1725.5,544.1 L1726.8,542.7 L1728.2,541.2 L1729.6,539.7 L1730.9,538.3 L1732.3,536.8 L1733.7,535.4 L1735.1,534.0 L1736.4,532.5 L1737.8,531.1 L1739.2,529.6 L1740.6,528.2 L1742.0,526.8 L1743.3,525.3 L1744.7,523.9 L1746.1,522.5 L1747.5,521.0 L1748.9,519.6 L1750.3,518.2 L1751.7,516.8 L1753.1,515.4 L1754.5,513.9 L1755.9,512.5 L1757.3,511.1 L1758.8,509.7 L1760.2,508.3 L1761.6,506.9 L1763.0,505.5 L1764.4,504.1 L1765.8,502.7 L1767.3,501.3 L1768.7,499.9 L1770.1,498.5 L1771.5,497.1 L1773.0,495.7 L1774.4,494.3 L1775.8,492.9 L1777.3,491.5 L1778.7,490.2 L1780.1,488.8 L1781.6,487.4 L1783.0,486.0 L1784.5,484.6 L1785.9,483.2 L1787.3,481.9 L1788.8,480.5 L1790.2,479.1 L1791.7,477.7 L1793.1,476.3 L1794.6,475.0 L1796.0,473.6 L1797.5,472.2 L1798.9,470.8 L1800.3,469.4 L1801.8,468.1 L1803.2,466.7 L1804.7,465.3 L1806.1,463.9 L1807.6,462.5 L1809.0,461.2 L1810.4,459.8 L1811.9,458.4 L1813.3,457.0 L1814.8,455.6 L1816.2,454.2 L1817.6,452.9 L1819.1,451.5 L1820.5,450.1 L1822.0,448.7 L1823.4,447.3 L1824.8,445.9 L1826.2,444.5 L1827.7,443.1 L1829.1,441.7 L1830.5,440.3 L1832.0,438.9 L1833.4,437.5 L1834.8,436.1 L1836.2,434.7 L1837.6,433.3 L1839.0,431.9 L1840.5,430.5 L1841.9,429.1 L1843.3,427.7 L1844.7,426.3 L1846.1,424.8 L1847.5,423.4 L1848.9,422.0 L1850.3,420.6 L1851.7,419.1 L1853.1,417.7 L1854.4,416.3 L1855.8,414.8 L1857.2,413.4 L1858.6,412.0 L1860.0,410.5 L1861.3,409.1 L1862.7,407.6 L1864.1,406.1 L1865.4,404.7 L1866.8,403.2 L1868.1,401.8 L1869.5,400.3 L1870.8,398.8 L1872.1,397.3 L1873.5,395.8 L1874.8,394.4 L1876.1,392.9 L1877.5,391.4 L1878.8,389.9 L1880.1,388.4 L1881.4,386.9 L1882.7,385.3 L1884.0,383.8 L1885.3,382.3 L1886.6,380.8 L1887.9,379.3 L1889.1,377.7 L1890.4,376.2 L1891.7,374.6 L1893.0,373.1 L1894.2,371.5 L1895.5,370.0 L1896.7,368.4 L1898.0,366.8 L1899.2,365.2 L1900.4,363.7 L1901.6,362.1 L1902.9,360.5 L1904.1,358.9 L1905.3,357.3 L1906.5,355.7 L1907.7,354.0 L1908.9,352.4 L1910.0,350.8 L1911.2,349.2 L1912.4,347.5 L1913.5,345.9 L1914.7,344.2 L1915.8,342.6 L1917.0,340.9 L1918.1,339.2 L1919.2,337.6 L1920.4,335.9 L1921.5,334.2 L1922.6,332.5 L1923.7,330.8 L1924.8,329.1 L1925.9,327.4 L1926.9,325.7 L1928.0,324.0 L1929.1,322.3 L1930.1,320.6 L1931.2,318.9 L1932.2,317.1 L1933.3,315.4 L1934.3,313.7 L1935.3,311.9 L1936.3,310.2 L1937.3,308.5 L1938.3,306.7 L1939.3,305.0 L1940.3,303.2 L1941.3,301.4 L1942.2,299.7 L1943.2,297.9 L1944.1,296.1 L1945.1,294.4 L1946.0,292.6 L1946.9,290.8 L1947.8,289.0 L1948.7,287.2 L1949.6,285.4 L1950.5,283.7 L1951.4,281.9 L1952.3,280.1 L1953.2,278.3 L1954.0,276.5 L1954.9,274.7 L1955.7,272.9 L1956.5,271.0 L1957.3,269.2 L1958.2,267.4 L1959.0,265.6 L1959.8,263.8 L1960.5,262.0 L1961.3,260.1 L1962.1,258.3 L1962.8,256.5 L1963.6,254.7 L1964.3,252.8 L1965.0,251.0 L1965.8,249.2 L1966.5,247.4 L1967.2,245.5 L1967.9,243.7 L1968.5,241.9 L1969.2,240.0 L1969.9,238.2 L1970.5,236.3 L1971.2,234.5 L1971.8,232.7 L1972.4,230.8 L1973.0,229.0 L1973.6,227.1 L1974.2,225.3 L1974.8,223.5 L1975.4,221.6 L1975.9,219.8 L1976.5,217.9"/>
<path stroke="#00A0F8" d="M358.7,1324.9 L358.9,1322.9 L359.1,1321.0 L359.2,1319.0 L359.4,1317.1 L359.5,1315.1 L359.6,1313.1 L359.7,1311.1 L359.9,1309.2 L360.0,1307.2 L360.0,1305.2 L360.1,1303.2 L360.2,1301.2 L360.3,1299.2 L360.3,1297.2 L360.4,1295.2 L360.5,1293.2 L360.5,1291.2 L360.6,1289.1 L360.6,1287.1 L360.7,1285.1 L360.7,1283.1 L360.8,1281.1 L360.9,1279.1 L360.9,1277.0 L361.0,1275.0 L361.0,1273.0 L361.1,1271.0 L361.1,1268.9 L361.2,1266.9 L361.3,1264.9 L361.4,1262.9 L361.5,1260.9 L361.6,1258.8 L361.7,1256.8 L361.8,1254.8 L361.9,1252.8 L362.0,1250.8 L362.1,1248.8 L362.3,1246.8 L362.4,1244.8 L362.6,1242.8 L362.8,1240.8 L363.0,1238.8 L363.2,1236.8 L363.4,1234.8 L363.7,1232.8 L363.9,1230.8 L364.2,1228.8 L364.4,1226.9 L364.7,1224.9 L365.0,1222.9 L365.3,1221.0 L365.6,1219.0 L366.0,1217.0 L366.3,1215.1 L366.7,1213.1 L367.0,1211.2 L367.4,1209.2 L367.8,1207.3 L368.2,1205.3 L368.6,1203.4 L369.1,1201.4 L369.5,1199.5 L369.9,1197.6 L370.4,1195.6 L370.9,1193.7 L371.4,1191.8 L371.9,1189.9 L372.4,1187.9 L372.9,1186.0 L373.4,1184.1 L373.9,1182.2 L374.5,1180.3 L375.0,1178.4 L375.6,1176.5 L376.2,1174.5 L376.8,1172.6 L377.3,1170.7 L377.9,1168.8 L378.6,1166.9 L379.2,1165.0 L379.8,1163.2 L380.5,1161.3 L381.1,1159.4 L381.8,1157.5 L382.4,1155.6 L383.1,1153.7 L383.8,1151.8 L384.5,1149.9 L385.2,1148.1 L385.9,1146.2 L386.7,1144.3 L387.4,1142.4 L388.1,1140.6 L388.9,1138.7 L389.6,1136.8 L390.4,1134.9 L391.2,1133.1 L392.0,1131.2 L392.8,1129.3 L393.6,1127.5 L394.4,1125.6 L395.2,1123.8 L396.0,1121.9 L396.8,1120.1 L397.7,1118.2 L398.5,1116.4 L399.4,1114.5 L400.3,1112.7 L401.2,1110.9 L402.1,1109.1 L403.0,1107.3 L403.9,1105.6 L404.9,1103.8 L405.9,1102.1 L406.9,1100.3 L407.9,1098.7 L409.0,1097.0 L410.2,1095.4 L411.3,1093.8 L412.6,1092.3 L413.9,1090.8 L415.3,1089.3 L416.7,1087.9 L418.1,1086.6 L419.7,1085.3 L421.2,1084.0 L422.8,1082.8 L424.5,1081.6 L426.1,1080.4 L427.8,1079.3 L429.5,1078.3 L431.3,1077.3 L433.0,1076.3 L434.8,1075.3 L436.5,1074.4 L438.3,1073.5 L440.1,1072.7 L441.9,1071.9 L443.7,1071.1 L445.6,1070.4 L447.4,1069.7 L449.2,1069.0 L451.1,1068.4 L452.9,1067.8 L454.8,1067.2 L456.7,1066.7 L458.6,1066.1 L460.5,1065.7 L462.4,1065.2 L464.3,1064.8 L466.2,1064.3 L468.1,1064.0 L470.0,1063.6 L472.0,1063.3 L473.9,1063.0 L475.8,1062.7 L477.8,1062.4 L479.8,1062.1 L481.7,1061.9 L483.7,1061.7 L485.7,1061.5 L487.6,1061.3 L489.6,1061.2 L491.6,1061.0 L493.6,1060.9 L495.6,1060.8 L497.6,1060.7 L499.6,1060.7 L501.6,1060.6 L503.6,1060.5 L505.7,1060.5 L507.7,1060.5 L509.7,1060.4 L511.7,1060.4 L513.7,1060.4 L515.8,1060.4 L517.8,1060.5 L519.8,1060.5 L521.8,1060.5 L523.9,1060.5 L525.9,1060.6 L527.9,1060.6 L530.0,1060.7 L532.0,1060.7 L534.0,1060.8 L536.1,1060.8 L538.1,1060.9 L540.1,1060.9 L542.2,1061.0 L544.2,1061.0 L546.2,1061.1 L548.2,1061.1 L550.3,1061.2 L552.3,1061.2 L554.3,1061.3 L556.3,1061.3 L558.4,1061.4 L560.4,1061.4 L562.4,1061.5 L564.4,1061.6 L566.5,1061.6 L568.5,1061.7 L570.5,1061.7 L572.5,1061.8 L574.5,1061.8 L576.6,1061.9 L578.6,1061.9 L580.6,1062.0 L582.6,1062.1 L584.6,1062.1 L586.6,1062.2 L588.7,1062.2 L590.7,1062.3 L592.7,1062.3 L594.7,1062.4 L596.7,1062.5 L598.7,1062.5 L600.7,1062.6 L602.7,1062.6 L604.8,1062.7 L606.8,1062.8 L608.8,1062.8 L610.8,1062.9 L612.8,1062.9 L614.8,1063.0 L616.8,1063.1 L618.8,1063.1 L620.8,1063.2 L622.8,1063.3 L624.8,1063.3 L626.9,1063.4 L628.9,1063.4 L630.9,1063.5 L632.9,1063.6 L634.9,1063.6 L636.9,1063.7 L638.9,1063.8 L640.9,1063.8 L642.9,1063.9 L644.9,1063.9 L646.9,1064.0 L648.9,1064.1 L650.9,1064.1 L652.9,1064.2 L654.9,1064.3 L656.9,1064.3 L658.9,1064.4 L660.9,1064.5 L662.9,1064.5 L664.9,1064.6 L666.9,1064.7 L668.9,1064.7 L670.9,1064.8 L672.9,1064.9 L674.9,1064.9 L676.9,1065.0 L678.9,1065.1 L680.9,1065.2 L682.9,1065.2 L684.9,1065.3 L686.9,1065.4 L688.9,1065.4 L690.8,1065.5 L692.8,1065.6 L694.8,1065.6 L696.8,1065.7 L698.8,1065.8 L700.8,1065.9 L702.8,1065.9 L704.8,1066.0 L706.8,1066.1 L708.8,1066.1 L710.8,1066.2 L712.8,1066.3 L714.8,1066.4 L716.8,1066.4 L718.8,1066.5 L720.7,1066.6 L722.7,1066.7 L724.7,1066.7 L726.7,1066.8 L728.7,1066.9 L730.7,1067.0 L732.7,1067.0 L734.7,1067.1 L736.7,1067.2 L738.7,1067.3 L740.7,1067.3 L742.7,1067.4 L744.6,1067.5 L746.6,1067.6 L748.6,1067.6 L750.6,1067.7 L752.6,1067.8 L754.6,1067.9 L756.6,1068.0 L758.6,1068.0 L760.6,1068.1 L762.6,1068.2 L764.5,1068.3 L766.5,1068.4 L768.5,1068.4 L770.5,1068.5 L772.5,1068.6 L774.5,1068.7 L776.5,1068.8 L778.5,1068.8 L780.5,1068.9 L782.5,1069.0 L784.4,1069.1 L786.4,1069.2 L788.4,1069.2 L790.4,1069.3 L792.4,1069.4 L794.4,1069.5 L796.4,1069.6 L798.4,1069.7 L800.4,1069.7 L802.4,1069.8 L804.3,1069.9 L806.3,1070.0 L808.3,1070.1 L810.3,1070.2 L812.3,1070.3 L814.3,1070.3 L816.3,1070.4 L818.3,1070.5 L820.3,1070.6 L822.3,1070.7 L824.3,1070.8 L826.3,1070.9 L828.2,1070.9 L830.2,1071.0 L832.2,1071.1 L834.2,1071.2 L836.2,1071.3 L838.2,1071.4 L840.2,1071.5 L842.2,1071.6 L844.2,1071.7 L846.2,1071.7 L848.2,1071.8 L850.2,1071.9 L852.2,1072.0 L854.2,1072.1 L856.2,1072.2 L858.1,1072.3 L860.1,1072.4 L862.1,1072.5 L864.1,1072.6 L866.1,1072.7 L868.1,1072.7 L870.1,1072.8 L872.1,1072.9 L874.1,1073.0 L876.1,1073.1 L878.1,1073.2 L880.1,1073.3 L882.1,1073.4 L884.1,1073.5 L886.1,1073.6 L888.1,1073.7 L890.1,1073.8 L892.1,1073.9 L894.1,1074.0 L896.1,1074.1 L898.1,1074.2 L900.1,1074.3 L902.1,1074.4 L904.1,1074.5 L906.1,1074.6 L908.1,1074.6 L910.1,1074.7 L912.1,1074.8 L914.1,1074.9 L916.1,1075.0 L918.2,1075.1 L920.2,1075.2 L922.2,1075.3 L924.2,1075.4 L926.2,1075.5 L928.2,1075.6 L930.2,1075.7 L932.2,1075.8 L934.2,1075.9 L936.2,1076.0 L938.2,1076.1 L940.2,1076.2 L942.2,1076.3 L944.3,1076.4 L946.3,1076.5 L948.3,1076.6 L950.3,1076.7 L952.3,1076.8 L954.3,1076.9 L956.3,1077.0 L958.3,1077.1 L960.3,1077.2 L962.4,1077.3 L964.4,1077.4 L966.4,1077.5 L968.4,1077.5 L970.4,1077.6 L972.4,1077.7 L974.4,1077.8 L976.4,1077.9 L978.5,1078.0 L980.5,1078.0 L982.5,1078.1 L984.5,1078.2 L986.5,1078.3 L988.5,1078.3 L990.5,1078.4 L992.6,1078.5 L994.6,1078.6 L996.6,1078.6 L998.6,1078.7 L1000.6,1078.7 L1002.6,1078.8 L1004.6,1078.9 L1006.6,1078.9 L1008.7,1079.0 L1010.7,1079.0 L1012.7,1079.1 L1014.7,1079.1 L1016.7,1079.1 L1018.7,1079.2 L1020.7,1079.2 L1022.7,1079.3 L1024.7,1079.3 L1026.8,1079.3 L1028.8,1079.3 L1030.8,1079.4 L1032.8,1079.4 L1034.8,1079.4 L1036.8,1079.4 L1038.8,1079.4 L1040.8,1079.4 L1042.8,1079.4 L1044.8,1079.4 L1046.8,1079.4 L1048.9,1079.4 L1050.9,1079.4 L1052.9,1079.4 L1054.9,1079.4 L1056.9,1079.3 L1058.9,1079.3 L1060.9,1079.3 L1062.9,1079.2 L1064.9,1079.2 L1066.9,1079.2 L1068.9,1079.1 L1070.9,1079.1 L1072.9,1079.0 L1074.9,1078.9 L1076.9,1078.9 L1078.9,1078.8 L1080.9,1078.7 L1082.9,1078.6 L1084.9,1078.6 L1086.9,1078.5 L1088.9,1078.4 L1090.9,1078.3 L1092.9,1078.2 L1094.9,1078.1 L1096.9,1078.0 L1098.9,1077.8 L1100.8,1077.7 L1102.8,1077.6 L1104.8,1077.4 L1106.8,1077.3 L1108.8,1077.2 L1110.8,1077.0 L1112.8,1076.9 L1114.8,1076.7 L1116.8,1076.5 L1118.7,1076.3 L1120.7,1076.2 L1122.7,1076.0 L1124.7,1075.8 L1126.7,1075.6 L1128.6,1075.4 L1130.6,1075.2 L1132.6,1075.0 L1134.6,1074.7 L1136.6,1074.5 L1138.5,1074.3 L1140.5,1074.0 L1142.5,1073.8 L1144.4,1073.5 L1146.4,1073.3 L1148.4,1073.0 L1150.4,1072.7 L1152.3,1072.5 L1154.3,1072.2 L1156.3,1071.9 L1158.2,1071.6 L1160.2,1071.3 L1162.1,1071.0 L1164.1,1070.6 L1166.1,1070.3 L1168.0,1070.0 L1170.0,1069.6 L1171.9,1069.3 L1173.9,1068.9 L1175.8,1068.5 L1177.8,1068.2 L1179.7,1067.8 L1181.7,1067.4 L1183.6,1067.0 L1185.6,1066.6 L1187.5,1066.2 L1189.5,1065.8 L1191.4,1065.3 L1193.4,1064.9 L1195.3,1064.4 L1197.2,1064.0 L1199.2,1063.5 L1201.1,1063.1 L1203.1,1062.6 L1205.0,1062.1 L1206.9,1061.6 L1208.9,1061.1 L1210.8,1060.6 L1212.7,1060.1 L1214.6,1059.5 L1216.6,1059.0 L1218.5,1058.4 L1220.4,1057.9 L1222.3,1057.3 L1224.2,1056.8 L1226.1,1056.2 L1228.0,1055.6 L1230.0,1055.0 L1231.9,1054.4 L1233.8,1053.8 L1235.7,1053.2 L1237.6,1052.5 L1239.5,1051.9 L1241.4,1051.3 L1243.3,1050.6 L1245.1,1049.9 L1247.0,1049.3 L1248.9,1048.6 L1250.8,1047.9 L1252.7,1047.2 L1254.5,1046.5 L1256.4,1045.8 L1258.3,1045.1 L1260.2,1044.4 L1262.0,1043.6 L1263.9,1042.9 L1265.7,1042.1 L1267.6,1041.4 L1269.4,1040.6 L1271.3,1039.8 L1273.1,1039.0 L1275.0,1038.3 L1276.8,1037.5 L1278.7,1036.6 L1280.5,1035.8 L1282.3,1035.0 L1284.1,1034.2 L1286.0,1033.3 L1287.8,1032.5 L1289.6,1031.6 L1291.4,1030.8 L1293.2,1029.9 L1295.0,1029.0 L1296.8,1028.1 L1298.6,1027.2 L1300.4,1026.3 L1302.2,1025.4 L1303.9,1024.5 L1305.7,1023.5 L1307.5,1022.6 L1309.2,1021.7 L1311.0,1020.7 L1312.8,1019.7 L1314.5,1018.8 L1316.3,1017.8 L1318.0,1016.8 L1319.8,1015.8 L1321.5,1014.8 L1323.2,1013.8 L1324.9,1012.8 L1326.7,1011.7 L1328.4,1010.7 L1330.1,1009.7 L1331.8,1008.6 L1333.5,1007.5 L1335.2,1006.5 L1336.9,1005.4 L1338.6,1004.3 L1340.2,1003.2 L1341.9,1002.1 L1343.6,1001.0 L1345.3,999.9 L1346.9,998.8 L1348.6,997.6 L1350.2,996.5 L1351.9,995.4 L1353.5,994.2 L1355.1,993.0 L1356.7,991.9 L1358.4,990.7 L1360.0,989.5 L1361.6,988.3 L1363.2,987.1 L1364.8,985.9 L1366.4,984.7 L1367.9,983.4 L1369.5,982.2 L1371.1,981.0 L1372.7,979.7 L1374.2,978.4 L1375.8,977.2 L1377.3,975.9 L1378.8,974.6 L1380.4,973.3 L1381.9,972.0 L1383.4,970.7 L1384.9,969.4 L1386.5,968.1 L1388.0,966.8 L1389.5,965.4 L1391.0,964.1 L1392.4,962.7 L1393.9,961.4 L1395.4,960.0 L1396.9,958.7 L1398.3,957.3 L1399.8,955.9 L1401.2,954.5 L1402.7,953.1 L1404.1,951.8 L1405.6,950.3 L1407.0,948.9 L1408.4,947.5 L1409.8,946.1 L1411.3,944.7 L1412.7,943.3 L1414.1,941.8 L1415.5,940.4 L1416.9,938.9 L1418.3,937.5 L1419.7,936.0 L1421.0,934.6 L1422.4,933.1 L1423.8,931.6 L1425.2,930.2 L1426.5,928.7 L1427.9,927.2 L1429.2,925.7 L1430.6,924.2 L1431.9,922.7 L1433.3,921.2 L1434.6,919.7 L1435.9,918.2 L1437.2,916.7 L1438.6,915.2 L1439.9,913.7 L1441.2,912.2 L1442.5,910.6 L1443.8,909.1 L1445.1,907.6 L1446.4,906.0 L1447.7,904.5 L1449.0,903.0 L1450.3,901.4 L1451.5,899.9 L1452.8,898.3 L1454.1,896.8 L1455.3,895.2 L1456.6,893.7 L1457.9,892.1 L1459.1,890.5 L1460.4,889.0 L1461.6,887.4 L1462.9,885.8 L1464.1,884.3 L1465.3,882.7 L1466.6,881.1 L1467.8,879.6 L1469.0,878.0 L1470.3,876.4 L1471.5,874.8 L1472.7,873.2 L1473.9,871.6 L1475.1,870.0 L1476.3,868.4 L1477.5,866.9 L1478.7,865.3 L1479.9,863.7 L1481.1,862.1 L1482.3,860.5 L1483.5,858.8 L1484.7,857.2 L1485.9,855.6 L1487.0,854.0 L1488.2,852.4 L1489.4,850.8 L1490.5,849.2 L1491.7,847.6 L1492.9,845.9 L1494.0,844.3 L1495.2,842.7 L1496.4,841.1 L1497.5,839.4 L1498.7,837.8 L1499.8,836.2 L1500.9,834.5 L1502.1,832.9 L1503.2,831.3 L1504.4,829.6 L1505.5,828.0 L1506.6,826.4 L1507.8,824.7 L1508.9,823.1 L1510.0,821.4 L1511.1,819.8 L1512.3,818.1 L1513.4,816.5 L1514.5,814.8 L1515.6,813.2 L1516.7,811.5 L1517.8,809.9 L1518.9,808.2 L1520.1,806.6 L1521.2,804.9 L1522.3,803.2 L1523.4,801.6 L1524.5,799.9 L1525.6,798.2 L1526.7,796.6 L1527.8,794.9 L1528.8,793.2 L1529.9,791.6 L1531.0,789.9 L1532.1,788.2 L1533.2,786.6 L1534.3,784.9 L1535.4,783.2 L1536.5,781.5 L1537.5,779.9 L1538.6,778.2 L1539.7,776.5 L1540.8,774.8 L1541.9,773.2 L1542.9,771.5 L1544.0,769.8 L1545.1,768.1 L1546.1,766.4 L1547.2,764.7 L1548.3,763.1 L1549.4,761.4 L1550.4,759.7 L1551.5,758.0 L1552.6,756.3 L1553.6,754.6 L1554.7,752.9 L1555.7,751.3 L1556.8,749.6 L1557.9,747.9 L1558.9,746.2 L1560.0,744.5 L1561.1,742.8 L1562.1,741.1 L1563.2,739.4 L1564.2,737.7 L1565.3,736.0 L1566.4,734.3 L1567.4,732.6 L1568.5,731.0 L1569.5,729.3 L1570.6,727.6 L1571.6,725.9 L1572.7,724.2 L1573.8,722.5 L1574.8,720.8 L1575.9,719.1 L1576.9,717.4 L1578.0,715.7 L1579.0,714.0 L1580.1,712.3 L1581.1,710.6 L1582.2,708.9 L1583.3,707.2 L1584.3,705.5 L1585.4,703.8 L1586.4,702.1 L1587.5,700.4 L1588.6,698.7 L1589.6,697.1 L1590.7,695.4 L1591.7,693.7 L1592.8,692.0 L1593.9,690.3 L1594.9,688.6 L1596.0,686.9 L1597.0,685.2 L1598.1,683.5 L1599.2,681.8 L1600.2,680.1 L1601.3,678.4 L1602.4,676.7 L1603.4,675.0 L1604.5,673.4 L1605.6,671.7 L1606.6,670.0 L1607.7,668.3 L1608.8,666.6 L1609.9,664.9 L1610.9,663.2 L1612.0,661.5 L1613.1,659.8 L1614.2,658.2 L1615.2,656.5 L1616.3,654.8 L1617.4,653.1 L1618.5,651.4 L1619.6,649.7 L1620.7,648.1 L1621.8,646.4 L1622.8,644.7 L1623.9,643.0 L1625.0,641.3 L1626.1,639.7 L1627.2,638.0 L1628.3,636.3 L1629.4,634.6 L1630.5,633.0 L1631.6,631.3 L1632.7,629.6 L1633.8,628.0 L1634.9,626.3 L1636.0,624.6 L1637.2,623.0 L1638.3,621.3 L1639.4,619.6 L1640.5,618.0 L1641.6,616.3 L1642.7,614.6 L1643.9,613.0 L1645.0,611.3 L1646.1,609.7 L1647.2,608.0 L1648.4,606.4 L1649.5,604.7 L1650.6,603.1 L1651.8,601.4 L1652.9,599.8 L1654.0,598.1 L1655.2,596.5 L1656.3,594.8 L1657.5,593.2 L1658.6,591.6 L1659.8,589.9 L1660.9,588.3 L1662.1,586.6 L1663.3,585.0 L1664.4,583.4 L1665.6,581.8 L1666.7,580.1 L1667.9,578.5 L1669.1,576.9 L1670.3,575.3 L1671.4,573.6 L1672.6,572.0 L1673.8,570.4 L1675.0,568.8 L1676.2,567.2 L1677.3,565.6 L1678.5,564.0 L1679.7,562.4 L1680.9,560.7 L1682.1,559.1 L1683.3,557.5 L1684.5,555.9 L1685.7,554.4 L1686.9,552.8 L1688.1,551.2 L1689.4,549.6 L1690.6,548.0 L1691.8,546.4 L1693.0,544.8 L1694.2,543.3 L1695.5,541.7 L1696.7,540.1 L1697.9,538.5 L1699.2,537.0 L1700.4,535.4 L1701.7,533.8 L1702.9,532.3 L1704.2,530.7 L1705.4,529.2 L1706.7,527.6 L1707.9,526.0 L1709.2,524.5 L1710.4,523.0 L1711.7,521.4 L1713.0,519.9 L1714.3,518.3 L1715.5,516.8 L1716.8,515.3 L1718.1,513.7 L1719.4,512.2 L1720.7,510.7 L1722.0,509.2 L1723.3,507.7 L1724.6,506.1 L1725.9,504.6 L1727.2,503.1 L1728.5,501.6 L1729.8,500.1 L1731.1,498.6 L1732.4,497.1 L1733.8,495.6 L1735.1,494.1 L1736.4,492.6 L1737.8,491.2 L1739.1,489.7 L1740.4,488.2 L1741.8,486.7 L1743.1,485.3 L1744.5,483.8 L1745.9,482.3 L1747.2,480.9 L1748.6,479.4 L1750.0,478.0 L1751.3,476.5 L1752.7,475.1 L1754.1,473.6 L1755.5,472.2 L1756.9,470.7 L1758.2,469.3 L1759.6,467.9 L1761.0,466.5 L1762.4,465.0 L1763.9,463.6 L1765.3,462.2 L1766.7,460.8 L1768.1,459.4 L1769.5,458.0 L1771.0,456.6 L1772.4,455.2 L1773.8,453.8 L1775.3,452.4 L1776.7,451.0 L1778.2,449.6 L1779.6,448.3 L1781.1,446.9 L1782.5,445.5 L1784.0,444.1 L1785.4,442.8 L1786.9,441.4 L1788.4,440.1 L1789.8,438.7 L1791.3,437.3 L1792.8,436.0 L1794.3,434.6 L1795.7,433.3 L1797.2,431.9 L1798.7,430.6 L1800.2,429.2 L1801.7,427.9 L1803.1,426.5 L1804.6,425.2 L1806.1,423.8 L1807.6,422.5 L1809.1,421.1 L1810.6,419.8 L1812.1,418.5 L1813.6,417.1 L1815.0,415.8 L1816.5,414.4 L1818.0,413.1 L1819.5,411.8 L1821.0,410.4 L1822.5,409.1 L1824.0,407.8 L1825.5,406.4 L1827.0,405.1 L1828.5,403.7 L1830.0,402.4 L1831.4,401.1 L1832.9,399.7 L1834.4,398.4 L1835.9,397.0 L1837.4,395.7 L1838.9,394.3 L1840.3,393.0 L1841.8,391.6 L1843.3,390.3 L1844.8,388.9 L1846.2,387.6 L1847.7,386.2 L1849.2,384.9 L1850.6,383.5 L1852.1,382.1 L1853.5,380.8 L1855.0,379.4 L1856.4,378.0 L1857.9,376.7 L1859.3,375.3 L1860.8,373.9 L1862.2,372.5 L1863.7,371.1 L1865.1,369.7 L1866.5,368.4 L1867.9,367.0 L1869.4,365.6 L1870.8,364.2 L1872.2,362.8 L1873.6,361.4 L1875.0,359.9 L1876.4,358.5 L1877.8,357.1 L1879.2,355.7 L1880.6,354.2 L1881.9,352.8 L1883.3,351.4 L1884.7,349.9 L1886.0,348.5 L1887.4,347.0 L1888.8,345.6 L1890.1,344.1 L1891.4,342.6 L1892.8,341.2 L1894.1,339.7 L1895.4,338.2 L1896.7,336.7 L1898.0,335.2 L1899.3,333.7 L1900.6,332.2 L1901.9,330.7 L1903.2,329.2 L1904.5,327.7 L1905.7,326.1 L1907.0,324.6 L1908.2,323.1 L1909.5,321.5 L1910.7,320.0 L1912.0,318.4 L1913.2,316.8 L1914.4,315.3 L1915.6,313.7 L1916.8,312.1 L1918.0,310.5 L1919.2,308.9 L1920.3,307.3 L1921.5,305.7 L1922.7,304.1 L1923.8,302.5 L1924.9,300.8 L1926.1,299.2 L1927.2,297.6 L1928.3,295.9 L1929.4,294.3 L1930.5,292.6 L1931.6,291.0 L1932.7,289.3 L1933.7,287.6 L1934.8,285.9 L1935.8,284.3 L1936.9,282.6 L1937.9,280.9 L1938.9,279.2 L1939.9,277.5 L1940.9,275.7 L1941.9,274.0 L1942.9,272.3 L1943.9,270.6 L1944.8,268.8 L1945.8,267.1 L1946.7,265.3 L1947.7,263.6 L1948.6,261.8 L1949.5,260.0 L1950.4,258.2 L1951.3,256.5 L1952.1,254.7 L1953.0,252.9 L1953.8,251.1 L1954.7,249.3 L1955.5,247.4 L1956.3,245.6 L1957.1,243.8 L1957.9,242.0 L1958.7,240.1 L1959.5,238.3 L1960.3,236.4 L1961.0,234.6 L1961.7,232.7 L1962.5,230.8 L1963.2,228.9 L1963.9,227.1 L1964.6,225.2 L1965.2,223.3 L1965.9,221.4 L1966.5,219.5 L1967.2,217.5 L1967.8,215.6 L1968.4,213.7 L1969.0,211.8 L1969.6,209.8 L1970.2,207.9 L1970.7,205.9 L1971.3,204.0 L1971.8,202.0 L1972.3,200.0 L1972.8,198.0"/>
<path stroke="#2040F8" d="M359.4,1325.1 L359.4,1323.1 L359.5,1321.0 L359.5,1319.0 L359.6,1317.0 L359.6,1314.9 L359.7,1312.9 L359.8,1310.9 L359.8,1308.9 L359.9,1306.8 L360.0,1304.8 L360.1,1302.8 L360.2,1300.8 L360.3,1298.8 L360.4,1296.8 L360.5,1294.8 L360.6,1292.8 L360.7,1290.8 L360.8,1288.8 L360.9,1286.8 L361.0,1284.8 L361.2,1282.8 L361.3,1280.8 L361.4,1278.8 L361.6,1276.8 L361.7,1274.8 L361.9,1272.8 L362.0,1270.9 L362.2,1268.9 L362.3,1266.9 L362.5,1264.9 L362.7,1262.9 L362.9,1261.0 L363.0,1259.0 L363.2,1257.0 L363.4,1255.0 L363.6,1253.1 L363.8,1251.1 L364.0,1249.1 L364.2,1247.1 L364.4,1245.2 L364.6,1243.2 L364.9,1241.2 L365.1,1239.3 L365.3,1237.3 L365.6,1235.3 L365.8,1233.4 L366.0,1231.4 L366.3,1229.4 L366.5,1227.5 L366.8,1225.5 L367.1,1223.5 L367.3,1221.5 L367.6,1219.6 L367.9,1217.6 L368.2,1215.6 L368.4,1213.7 L368.7,1211.7 L369.0,1209.7 L369.3,1207.8 L369.6,1205.8 L370.0,1203.8 L370.3,1201.8 L370.6,1199.9 L370.9,1197.9 L371.3,1195.9 L371.6,1193.9 L372.0,1192.0 L372.4,1190.0 L372.8,1188.0 L373.1,1186.0 L373.5,1184.0 L373.9,1182.0 L374.4,1180.0 L374.8,1178.1 L375.2,1176.1 L375.7,1174.1 L376.1,1172.1 L376.6,1170.1 L377.1,1168.1 L377.6,1166.1 L378.1,1164.1 L378.6,1162.1 L379.2,1160.1 L379.7,1158.1 L380.3,1156.1 L380.9,1154.1 L381.5,1152.1 L382.1,1150.1 L382.7,1148.1 L383.4,1146.1 L384.0,1144.1 L384.7,1142.1 L385.5,1140.2 L386.2,1138.2 L386.9,1136.3 L387.7,1134.4 L388.5,1132.5 L389.4,1130.6 L390.2,1128.8 L391.1,1127.0 L392.0,1125.2 L392.9,1123.4 L393.9,1121.6 L394.9,1119.9 L395.9,1118.2 L397.0,1116.5 L398.1,1114.9 L399.2,1113.2 L400.4,1111.7 L401.5,1110.1 L402.8,1108.6 L404.0,1107.1 L405.3,1105.7 L406.6,1104.3 L407.9,1102.9 L409.3,1101.5 L410.7,1100.2 L412.1,1098.9 L413.5,1097.6 L415.0,1096.4 L416.5,1095.2 L418.0,1094.0 L419.5,1092.8 L421.1,1091.7 L422.7,1090.6 L424.3,1089.5 L425.9,1088.5 L427.6,1087.5 L429.2,1086.5 L430.9,1085.5 L432.6,1084.6 L434.4,1083.7 L436.1,1082.8 L437.9,1081.9 L439.6,1081.0 L441.4,1080.2 L443.2,1079.4 L445.1,1078.6 L446.9,1077.9 L448.8,1077.1 L450.6,1076.4 L452.5,1075.7 L454.4,1075.1 L456.3,1074.4 L458.2,1073.8 L460.1,1073.2 L462.0,1072.6 L464.0,1072.0 L465.9,1071.5 L467.8,1070.9 L469.8,1070.4 L471.8,1069.9 L473.7,1069.4 L475.7,1068.9 L477.7,1068.5 L479.7,1068.1 L481.6,1067.6 L483.6,1067.2 L485.6,1066.8 L487.6,1066.5 L489.6,1066.1 L491.6,1065.8 L493.6,1065.4 L495.6,1065.1 L497.5,1064.8 L499.5,1064.5 L501.5,1064.2 L503.5,1064.0 L505.5,1063.7 L507.5,1063.5 L509.5,1063.2 L511.5,1063.0 L513.5,1062.8 L515.5,1062.6 L517.5,1062.4 L519.5,1062.3 L521.4,1062.1 L523.4,1062.0 L525.4,1061.8 L527.4,1061.7 L529.4,1061.6 L531.4,1061.5 L533.4,1061.4 L535.4,1061.3 L537.4,1061.2 L539.4,1061.1 L541.4,1061.1 L543.4,1061.0 L545.4,1061.0 L547.4,1061.0 L549.4,1060.9 L551.4,1060.9 L553.4,1060.9 L555.4,1060.9 L557.4,1060.9 L559.4,1060.9 L561.4,1061.0 L563.4,1061.0 L565.4,1061.0 L567.4,1061.1 L569.4,1061.1 L571.4,1061.2 L573.4,1061.2 L575.4,1061.3 L577.4,1061.4 L579.4,1061.5 L581.4,1061.5 L583.4,1061.6 L585.4,1061.7 L587.4,1061.8 L589.4,1061.9 L591.4,1062.0 L593.4,1062.1 L595.4,1062.3 L597.5,1062.4 L599.5,1062.5 L601.5,1062.6 L603.5,1062.7 L605.5,1062.9 L607.5,1063.0 L609.5,1063.2 L611.5,1063.3 L613.5,1063.4 L615.5,1063.6 L617.5,1063.7 L619.5,1063.9 L621.5,1064.0 L623.5,1064.2 L625.5,1064.3 L627.5,1064.5 L629.5,1064.6 L631.5,1064.8 L633.5,1064.9 L635.5,1065.1 L637.6,1065.2 L639.6,1065.4 L641.6,1065.5 L643.6,1065.7 L645.6,1065.8 L647.6,1066.0 L649.6,1066.1 L651.6,1066.3 L653.6,1066.4 L655.6,1066.6 L657.6,1066.7 L659.6,1066.8 L661.6,1067.0 L663.6,1067.1 L665.6,1067.2 L667.6,1067.4 L669.6,1067.5 L671.6,1067.6 L673.6,1067.7 L675.6,1067.8 L677.6,1068.0 L679.7,1068.1 L681.7,1068.2 L683.7,1068.3 L685.7,1068.4 L687.7,1068.5 L689.7,1068.6 L691.7,1068.7 L693.7,1068.8 L695.7,1068.9 L697.7,1069.0 L699.7,1069.1 L701.7,1069.2 L703.7,1069.3 L705.7,1069.4 L707.7,1069.5 L709.7,1069.5 L711.7,1069.6 L713.7,1069.7 L715.7,1069.8 L717.7,1069.9 L719.7,1069.9 L721.7,1070.0 L723.7,1070.1 L725.7,1070.2 L727.7,1070.2 L729.7,1070.3 L731.7,1070.4 L733.7,1070.4 L735.7,1070.5 L737.7,1070.6 L739.7,1070.6 L741.8,1070.7 L743.8,1070.7 L745.8,1070.8 L747.8,1070.8 L749.8,1070.9 L751.8,1071.0 L753.8,1071.0 L755.8,1071.1 L757.8,1071.1 L759.8,1071.2 L761.8,1071.2 L763.8,1071.3 L765.8,1071.3 L767.8,1071.4 L769.8,1071.4 L771.8,1071.5 L773.8,1071.5 L775.8,1071.6 L777.8,1071.6 L779.8,1071.6 L781.8,1071.7 L783.8,1071.7 L785.8,1071.8 L787.8,1071.8 L789.8,1071.9 L791.8,1071.9 L793.8,1071.9 L795.8,1072.0 L797.8,1072.0 L799.8,1072.1 L801.8,1072.1 L803.8,1072.1 L805.8,1072.2 L807.8,1072.2 L809.8,1072.3 L811.8,1072.3 L813.8,1072.3 L815.8,1072.4 L817.8,1072.4 L819.8,1072.5 L821.8,1072.5 L823.8,1072.5 L825.8,1072.6 L827.8,1072.6 L829.8,1072.7 L831.8,1072.7 L833.8,1072.8 L835.8,1072.8 L837.8,1072.8 L839.8,1072.9 L841.8,1072.9 L843.8,1073.0 L845.8,1073.0 L847.8,1073.1 L849.8,1073.1 L851.8,1073.2 L853.8,1073.2 L855.8,1073.2 L857.8,1073.3 L859.8,1073.3 L861.8,1073.4 L863.8,1073.4 L865.8,1073.5 L867.8,1073.6 L869.8,1073.6 L871.8,1073.7 L873.8,1073.7 L875.8,1073.8 L877.8,1073.8 L879.8,1073.9 L881.8,1074.0 L883.8,1074.0 L885.8,1074.1 L887.8,1074.1 L889.8,1074.2 L891.8,1074.3 L893.8,1074.3 L895.8,1074.4 L897.8,1074.5 L899.8,1074.6 L901.8,1074.6 L903.8,1074.7 L905.8,1074.8 L907.8,1074.9 L909.8,1074.9 L911.8,1075.0 L913.8,1075.1 L915.8,1075.2 L917.8,1075.3 L919.8,1075.4 L921.8,1075.5 L923.8,1075.5 L925.8,1075.6 L927.8,1075.7 L929.8,1075.8 L931.8,1075.9 L933.8,1076.0 L935.8,1076.1 L937.8,1076.2 L939.8,1076.3 L941.8,1076.4 L943.7,1076.5 L945.7,1076.6 L947.7,1076.7 L949.7,1076.9 L951.7,1077.0 L953.7,1077.1 L955.7,1077.2 L957.7,1077.3 L959.7,1077.4 L961.7,1077.5 L963.7,1077.6 L965.7,1077.7 L967.7,1077.8 L969.7,1077.9 L971.7,1078.0 L973.7,1078.1 L975.7,1078.2 L977.7,1078.3 L979.7,1078.4 L981.7,1078.5 L983.7,1078.6 L985.7,1078.7 L987.7,1078.8 L989.7,1078.9 L991.7,1079.0 L993.7,1079.0 L995.7,1079.1 L997.7,1079.2 L999.7,1079.3 L1001.7,1079.4 L1003.7,1079.4 L1005.8,1079.5 L1007.8,1079.6 L1009.8,1079.7 L1011.8,1079.7 L1013.8,1079.8 L1015.8,1079.8 L1017.8,1079.9 L1019.8,1079.9 L1021.8,1080.0 L1023.8,1080.0 L1025.8,1080.1 L1027.8,1080.1 L1029.8,1080.1 L1031.8,1080.2 L1033.8,1080.2 L1035.8,1080.2 L1037.8,1080.2 L1039.8,1080.3 L1041.8,1080.3 L1043.8,1080.3 L1045.8,1080.3 L1047.8,1080.3 L1049.8,1080.2 L1051.9,1080.2 L1053.9,1080.2 L1055.9,1080.2 L1057.9,1080.2 L1059.9,1080.1 L1061.9,1080.1 L1063.9,1080.0 L1065.9,1080.0 L1067.9,1079.9 L1069.9,1079.9 L1071.9,1079.8 L1073.9,1079.7 L1076.0,1079.6 L1078.0,1079.5 L1080.0,1079.5 L1082.0,1079.4 L1084.0,1079.3 L1086.0,1079.1 L1088.0,1079.0 L1090.0,1078.9 L1092.0,1078.8 L1094.0,1078.7 L1096.0,1078.5 L1098.0,1078.4 L1100.0,1078.2 L1102.0,1078.1 L1104.0,1077.9 L1106.0,1077.7 L1108.1,1077.6 L1110.1,1077.4 L1112.1,1077.2 L1114.1,1077.0 L1116.1,1076.8 L1118.1,1076.6 L1120.1,1076.4 L1122.1,1076.2 L1124.0,1075.9 L1126.0,1075.7 L1128.0,1075.5 L1130.0,1075.2 L1132.0,1075.0 L1134.0,1074.7 L1136.0,1074.4 L1138.0,1074.2 L1140.0,1073.9 L1142.0,1073.6 L1144.0,1073.3 L1145.9,1073.0 L1147.9,1072.7 L1149.9,1072.4 L1151.9,1072.1 L1153.9,1071.7 L1155.8,1071.4 L1157.8,1071.0 L1159.8,1070.7 L1161.8,1070.3 L1163.7,1070.0 L1165.7,1069.6 L1167.7,1069.2 L1169.7,1068.8 L1171.6,1068.4 L1173.6,1068.0 L1175.5,1067.6 L1177.5,1067.2 L1179.5,1066.7 L1181.4,1066.3 L1183.4,1065.9 L1185.3,1065.4 L1187.3,1064.9 L1189.2,1064.5 L1191.2,1064.0 L1193.1,1063.5 L1195.1,1063.0 L1197.0,1062.5 L1199.0,1062.0 L1200.9,1061.5 L1202.8,1061.0 L1204.8,1060.4 L1206.7,1059.9 L1208.6,1059.4 L1210.5,1058.8 L1212.5,1058.2 L1214.4,1057.7 L1216.3,1057.1 L1218.2,1056.5 L1220.1,1055.9 L1222.0,1055.3 L1224.0,1054.7 L1225.9,1054.1 L1227.8,1053.5 L1229.7,1052.8 L1231.6,1052.2 L1233.5,1051.6 L1235.3,1050.9 L1237.2,1050.2 L1239.1,1049.6 L1241.0,1048.9 L1242.9,1048.2 L1244.8,1047.5 L1246.6,1046.8 L1248.5,1046.1 L1250.4,1045.4 L1252.2,1044.7 L1254.1,1043.9 L1256.0,1043.2 L1257.8,1042.5 L1259.7,1041.7 L1261.5,1040.9 L1263.3,1040.2 L1265.2,1039.4 L1267.0,1038.6 L1268.9,1037.8 L1270.7,1037.0 L1272.5,1036.2 L1274.3,1035.4 L1276.2,1034.6 L1278.0,1033.7 L1279.8,1032.9 L1281.6,1032.1 L1283.4,1031.2 L1285.2,1030.3 L1287.0,1029.5 L1288.8,1028.6 L1290.6,1027.7 L1292.4,1026.8 L1294.1,1025.9 L1295.9,1025.0 L1297.7,1024.1 L1299.4,1023.2 L1301.2,1022.3 L1303.0,1021.3 L1304.7,1020.4 L1306.5,1019.4 L1308.2,1018.5 L1310.0,1017.5 L1311.7,1016.5 L1313.4,1015.5 L1315.2,1014.6 L1316.9,1013.6 L1318.6,1012.6 L1320.3,1011.5 L1322.0,1010.5 L1323.7,1009.5 L1325.4,1008.5 L1327.1,1007.4 L1328.8,1006.4 L1330.5,1005.3 L1332.2,1004.3 L1333.8,1003.2 L1335.5,1002.1 L1337.2,1001.0 L1338.8,999.9 L1340.5,998.8 L1342.1,997.7 L1343.8,996.6 L1345.4,995.5 L1347.1,994.4 L1348.7,993.2 L1350.3,992.1 L1351.9,990.9 L1353.5,989.8 L1355.1,988.6 L1356.7,987.4 L1358.3,986.2 L1359.9,985.0 L1361.5,983.8 L1363.1,982.6 L1364.7,981.4 L1366.2,980.2 L1367.8,979.0 L1369.4,977.7 L1370.9,976.5 L1372.5,975.3 L1374.0,974.0 L1375.5,972.7 L1377.0,971.5 L1378.6,970.2 L1380.1,968.9 L1381.6,967.6 L1383.1,966.3 L1384.6,965.0 L1386.1,963.7 L1387.6,962.4 L1389.0,961.0 L1390.5,959.7 L1392.0,958.3 L1393.4,957.0 L1394.9,955.6 L1396.3,954.3 L1397.8,952.9 L1399.2,951.5 L1400.6,950.1 L1402.0,948.7 L1403.5,947.3 L1404.9,945.9 L1406.3,944.5 L1407.7,943.1 L1409.0,941.7 L1410.4,940.2 L1411.8,938.8 L1413.2,937.3 L1414.5,935.9 L1415.9,934.4 L1417.2,932.9 L1418.6,931.5 L1419.9,930.0 L1421.2,928.5 L1422.6,927.0 L1423.9,925.5 L1425.2,924.0 L1426.5,922.5 L1427.8,921.0 L1429.1,919.4 L1430.4,917.9 L1431.7,916.4 L1433.0,914.9 L1434.3,913.3 L1435.6,911.8 L1436.8,910.2 L1438.1,908.7 L1439.3,907.1 L1440.6,905.5 L1441.9,904.0 L1443.1,902.4 L1444.3,900.8 L1445.6,899.2 L1446.8,897.6 L1448.0,896.0 L1449.3,894.4 L1450.5,892.8 L1451.7,891.2 L1452.9,889.6 L1454.1,888.0 L1455.3,886.4 L1456.5,884.8 L1457.7,883.2 L1458.9,881.6 L1460.1,879.9 L1461.3,878.3 L1462.5,876.7 L1463.7,875.0 L1464.8,873.4 L1466.0,871.7 L1467.2,870.1 L1468.3,868.5 L1469.5,866.8 L1470.7,865.2 L1471.8,863.5 L1473.0,861.9 L1474.1,860.2 L1475.3,858.5 L1476.4,856.9 L1477.6,855.2 L1478.7,853.6 L1479.9,851.9 L1481.0,850.2 L1482.1,848.6 L1483.3,846.9 L1484.4,845.2 L1485.5,843.6 L1486.7,841.9 L1487.8,840.2 L1488.9,838.5 L1490.0,836.9 L1491.1,835.2 L1492.3,833.5 L1493.4,831.8 L1494.5,830.2 L1495.6,828.5 L1496.7,826.8 L1497.8,825.1 L1498.9,823.5 L1500.1,821.8 L1501.2,820.1 L1502.3,818.4 L1503.4,816.7 L1504.5,815.1 L1505.6,813.4 L1506.7,811.7 L1507.8,810.0 L1508.9,808.4 L1510.0,806.7 L1511.1,805.0 L1512.1,803.3 L1513.2,801.6 L1514.3,799.9 L1515.4,798.3 L1516.5,796.6 L1517.6,794.9 L1518.7,793.2 L1519.8,791.5 L1520.8,789.9 L1521.9,788.2 L1523.0,786.5 L1524.1,784.8 L1525.2,783.1 L1526.2,781.4 L1527.3,779.8 L1528.4,778.1 L1529.5,776.4 L1530.5,774.7 L1531.6,773.0 L1532.7,771.3 L1533.7,769.6 L1534.8,767.9 L1535.9,766.3 L1536.9,764.6 L1538.0,762.9 L1539.0,761.2 L1540.1,759.5 L1541.2,757.8 L1542.2,756.1 L1543.3,754.4 L1544.3,752.7 L1545.4,751.0 L1546.5,749.4 L1547.5,747.7 L1548.6,746.0 L1549.6,744.3 L1550.7,742.6 L1551.7,740.9 L1552.8,739.2 L1553.8,737.5 L1554.9,735.8 L1555.9,734.1 L1556.9,732.4 L1558.0,730.7 L1559.0,729.0 L1560.1,727.3 L1561.1,725.6 L1562.2,723.9 L1563.2,722.2 L1564.2,720.5 L1565.3,718.8 L1566.3,717.1 L1567.3,715.4 L1568.4,713.7 L1569.4,712.0 L1570.4,710.3 L1571.5,708.6 L1572.5,706.9 L1573.5,705.2 L1574.6,703.5 L1575.6,701.8 L1576.6,700.1 L1577.7,698.4 L1578.7,696.7 L1579.7,695.0 L1580.7,693.2 L1581.8,691.5 L1582.8,689.8 L1583.8,688.1 L1584.8,686.4 L1585.8,684.7 L1586.9,683.0 L1587.9,681.3 L1588.9,679.6 L1589.9,677.8 L1590.9,676.1 L1592.0,674.4 L1593.0,672.7 L1594.0,671.0 L1595.0,669.3 L1596.0,667.6 L1597.0,665.8 L1598.1,664.1 L1599.1,662.4 L1600.1,660.7 L1601.1,659.0 L1602.1,657.3 L1603.1,655.5 L1604.2,653.8 L1605.2,652.1 L1606.2,650.4 L1607.2,648.7 L1608.2,646.9 L1609.2,645.2 L1610.2,643.5 L1611.3,641.8 L1612.3,640.1 L1613.3,638.3 L1614.3,636.6 L1615.3,634.9 L1616.3,633.2 L1617.4,631.5 L1618.4,629.7 L1619.4,628.0 L1620.4,626.3 L1621.4,624.6 L1622.5,622.9 L1623.5,621.1 L1624.5,619.4 L1625.5,617.7 L1626.5,616.0 L1627.6,614.3 L1628.6,612.6 L1629.6,610.8 L1630.6,609.1 L1631.7,607.4 L1632.7,605.7 L1633.7,604.0 L1634.8,602.3 L1635.8,600.5 L1636.8,598.8 L1637.9,597.1 L1638.9,595.4 L1639.9,593.7 L1641.0,592.0 L1642.0,590.3 L1643.1,588.5 L1644.1,586.8 L1645.2,585.1 L1646.2,583.4 L1647.3,581.7 L1648.3,580.0 L1649.4,578.3 L1650.4,576.6 L1651.5,574.9 L1652.5,573.2 L1653.6,571.5 L1654.7,569.8 L1655.7,568.1 L1656.8,566.4 L1657.9,564.7 L1658.9,563.0 L1660.0,561.3 L1661.1,559.6 L1662.2,557.9 L1663.2,556.2 L1664.3,554.5 L1665.4,552.8 L1666.5,551.1 L1667.6,549.4 L1668.7,547.7 L1669.8,546.0 L1670.9,544.3 L1672.0,542.6 L1673.1,541.0 L1674.2,539.3 L1675.3,537.6 L1676.4,535.9 L1677.5,534.2 L1678.6,532.6 L1679.7,530.9 L1680.9,529.2 L1682.0,527.6 L1683.1,525.9 L1684.2,524.2 L1685.4,522.6 L1686.5,520.9 L1687.7,519.3 L1688.8,517.6 L1690.0,516.0 L1691.1,514.3 L1692.3,512.7 L1693.4,511.0 L1694.6,509.4 L1695.8,507.8 L1696.9,506.1 L1698.1,504.5 L1699.3,502.9 L1700.5,501.2 L1701.7,499.6 L1702.8,498.0 L1704.0,496.4 L1705.2,494.8 L1706.4,493.2 L1707.6,491.6 L1708.9,490.0 L1710.1,488.4 L1711.3,486.8 L1712.5,485.2 L1713.7,483.7 L1715.0,482.1 L1716.2,480.5 L1717.5,479.0 L1718.7,477.4 L1720.0,475.8 L1721.2,474.3 L1722.5,472.7 L1723.7,471.2 L1725.0,469.7 L1726.3,468.1 L1727.6,466.6 L1728.9,465.1 L1730.1,463.6 L1731.4,462.0 L1732.7,460.5 L1734.0,459.0 L1735.4,457.5 L1736.7,456.1 L1738.0,454.6 L1739.3,453.1 L1740.7,451.6 L1742.0,450.1 L1743.3,448.7 L1744.7,447.2 L1746.0,445.8 L1747.4,444.3 L1748.7,442.9 L1750.1,441.4 L1751.5,440.0 L1752.9,438.6 L1754.2,437.1 L1755.6,435.7 L1757.0,434.3 L1758.4,432.9 L1759.8,431.4 L1761.2,430.0 L1762.6,428.6 L1764.0,427.2 L1765.4,425.8 L1766.8,424.4 L1768.2,423.0 L1769.6,421.7 L1771.0,420.3 L1772.5,418.9 L1773.9,417.5 L1775.3,416.1 L1776.7,414.8 L1778.2,413.4 L1779.6,412.0 L1781.1,410.6 L1782.5,409.3 L1783.9,407.9 L1785.4,406.6 L1786.8,405.2 L1788.3,403.8 L1789.7,402.5 L1791.2,401.1 L1792.7,399.8 L1794.1,398.4 L1795.6,397.1 L1797.0,395.7 L1798.5,394.4 L1800.0,393.1 L1801.4,391.7 L1802.9,390.4 L1804.4,389.0 L1805.8,387.7 L1807.3,386.4 L1808.8,385.0 L1810.3,383.7 L1811.7,382.4 L1813.2,381.0 L1814.7,379.7 L1816.2,378.4 L1817.7,377.0 L1819.1,375.7 L1820.6,374.4 L1822.1,373.0 L1823.6,371.7 L1825.0,370.4 L1826.5,369.0 L1828.0,367.7 L1829.5,366.3 L1831.0,365.0 L1832.4,363.7 L1833.9,362.3 L1835.4,361.0 L1836.9,359.7 L1838.4,358.3 L1839.8,357.0 L1841.3,355.6 L1842.8,354.3 L1844.3,353.0 L1845.7,351.6 L1847.2,350.3 L1848.7,348.9 L1850.2,347.6 L1851.6,346.2 L1853.1,344.9 L1854.6,343.5 L1856.0,342.1 L1857.5,340.8 L1858.9,339.4 L1860.4,338.0 L1861.9,336.7 L1863.3,335.3 L1864.8,333.9 L1866.2,332.6 L1867.7,331.2 L1869.1,329.8 L1870.6,328.4 L1872.0,327.0 L1873.5,325.6 L1874.9,324.2 L1876.3,322.8 L1877.8,321.4 L1879.2,320.0 L1880.6,318.6 L1882.0,317.2 L1883.5,315.8 L1884.9,314.4 L1886.3,313.0 L1887.7,311.5 L1889.1,310.1 L1890.5,308.7 L1891.9,307.2 L1893.3,305.8 L1894.7,304.3 L1896.1,302.9 L1897.4,301.4 L1898.8,300.0 L1900.2,298.5 L1901.5,297.0 L1902.9,295.6 L1904.2,294.1 L1905.6,292.6 L1906.9,291.1 L1908.2,289.6 L1909.5,288.1 L1910.8,286.6 L1912.1,285.1 L1913.4,283.5 L1914.7,282.0 L1916.0,280.5 L1917.3,278.9 L1918.5,277.4 L1919.8,275.8 L1921.0,274.3 L1922.2,272.7 L1923.5,271.1 L1924.7,269.6 L1925.9,268.0 L1927.1,266.4 L1928.2,264.8 L1929.4,263.2 L1930.6,261.6 L1931.7,259.9 L1932.8,258.3 L1933.9,256.7 L1935.1,255.0 L1936.2,253.4 L1937.2,251.7 L1938.3,250.1 L1939.4,248.4 L1940.4,246.7 L1941.4,245.0 L1942.5,243.3 L1943.5,241.6 L1944.5,239.9 L1945.4,238.2 L1946.4,236.4 L1947.3,234.7 L1948.3,232.9 L1949.2,231.2 L1950.1,229.4 L1951.0,227.6 L1951.8,225.9 L1952.7,224.1 L1953.5,222.3 L1954.4,220.4 L1955.2,218.6 L1956.0,216.8 L1956.7,214.9 L1957.5,213.1 L1958.2,211.2 L1958.9,209.4 L1959.6,207.5 L1960.3,205.6 L1961.0,203.7 L1961.6,201.8 L1962.2,199.8 L1962.9,197.9 L1963.4,196.0 L1964.0,194.0 L1964.6,192.0 L1965.1,190.1 L1965.6,188.1 L1966.1,186.1 L1966.6,184.1 L1967.0,182.0 L1967.4,180.0 L1967.8,178.0 L1968.2,175.9 L1968.6,173.8 L1968.9,171.8 L1969.2,169.7 L1969.5,167.6 L1969.8,165.5 L1970.0,163.3"/>
</g>
<g fill="#000" shape-rendering="crispEdges">
<rect x="307" y="56" width="6" height="1422"/>
<rect x="307" y="1472" width="1768" height="6"/>
<rect x="307.0" y="1475" width="6" height="28"/>
<rect x="404.9" y="1475" width="6" height="14"/>
<rect x="502.8" y="1475" width="6" height="28"/>
<rect x="600.7" y="1475" width="6" height="14"/>
<rect x="698.6" y="1475" width="6" height="28"/>
<rect x="796.4" y="1475" width="6" height="14"/>
<rect x="894.3" y="1475" width="6" height="28"/>
<rect x="992.2" y="1475" width="6" height="14"/>
<rect x="1090.1" y="1475" width="6" height="28"/>
<rect x="1188.0" y="1475" width="6" height="14"/>
<rect x="1285.9" y="1475" width="6" height="28"/>
<rect x="1383.8" y="1475" width="6" height="14"/>
<rect x="1481.7" y="1475" width="6" height="28"/>
<rect x="1579.6" y="1475" width="6" height="14"/>
<rect x="1677.4" y="1475" width="6" height="28"/>
<rect x="1775.3" y="1475" width="6" height="14"/>
<rect x="1873.2" y="1475" width="6" height="28"/>
<rect x="1971.1" y="1475" width="6" height="14"/>
<rect x="2069.0" y="1475" width="6" height="28"/>
<rect x="282" y="1472.0" width="28" height="6"/>
<rect x="296" y="1393.3" width="14" height="6"/>
<rect x="282" y="1314.7" width="28" height="6"/>
<rect x="296" y="1236.0" width="14" height="6"/>
<rect x="282" y="1157.3" width="28" height="6"/>
<rect x="296" y="1078.7" width="14" height="6"/>
<rect x="282" y="1000.0" width="28" height="6"/>
<rect x="296" y="921.3" width="14" height="6"/>
<rect x="282" y="842.7" width="28" height="6"/>
<rect x="296" y="764.0" width="14" height="6"/>
<rect x="282" y="685.3" width="28" height="6"/>
<rect x="296" y="606.7" width="14" height="6"/>
<rect x="282" y="528.0" width="28" height="6"/>
<rect x="296" y="449.3" width="14" height="6"/>
<rect x="282" y="370.7" width="28" height="6"/>
<rect x="296" y="292.0" width="14" height="6"/>
<rect x="282" y="213.3" width="28" height="6"/>
<rect x="296" y="134.7" width="14" height="6"/>
<rect x="282" y="56.0" width="28" height="6"/>
</g>
<g font-family="Liberation Sans, Arial, sans-serif" font-weight="bold" font-size="64" fill="#000">
<text transform="translate(310.0,1570) scale(0.95,1)" text-anchor="middle">-0.2</text>
<text transform="translate(505.8,1570) scale(0.95,1)" text-anchor="middle">0.0</text>
<text transform="translate(701.6,1570) scale(0.95,1)" text-anchor="middle">0.2</text>
<text transform="translate(897.3,1570) scale(0.95,1)" text-anchor="middle">0.4</text>
<text transform="translate(1093.1,1570) scale(0.95,1)" text-anchor="middle">0.6</text>
<text transform="translate(1288.9,1570) scale(0.95,1)" text-anchor="middle">0.8</text>
<text transform="translate(1484.7,1570) scale(0.95,1)" text-anchor="middle">1.0</text>
<text transform="translate(1680.4,1570) scale(0.95,1)" text-anchor="middle">1.2</text>
<text transform="translate(1876.2,1570) scale(0.95,1)" text-anchor="middle">1.4</text>
<text transform="translate(2072.0,1570) scale(0.95,1)" text-anchor="middle">1.6</text>
<text transform="translate(262.5,1494.0) scale(0.92,1)" text-anchor="end">-10</text>
<text transform="translate(262.5,1336.7) scale(0.92,1)" text-anchor="end">-5</text>
<text transform="translate(262.5,1179.3) scale(0.92,1)" text-anchor="end">0</text>
<text transform="translate(262.5,1022.0) scale(0.92,1)" text-anchor="end">5</text>
<text transform="translate(262.5,864.7) scale(0.92,1)" text-anchor="end">10</text>
<text transform="translate(262.5,707.3) scale(0.92,1)" text-anchor="end">15</text>
<text transform="translate(262.5,550.0) scale(0.92,1)" text-anchor="end">20</text>
<text transform="translate(262.5,392.7) scale(0.92,1)" text-anchor="end">25</text>
<text transform="translate(262.5,235.3) scale(0.92,1)" text-anchor="end">30</text>
<text transform="translate(262.5,78.0) scale(0.92,1)" text-anchor="end">35</text>
</g>
<text x="1192" y="1688" text-anchor="middle" font-family="Liberation Sans, Arial, sans-serif" font-weight="bold" font-size="74">Potential (V)</text>
<text transform="translate(94,1159.5) rotate(-90)" font-family="Liberation Sans, Arial, sans-serif" font-weight="bold" font-size="73.4">Current density (μA/cm<tspan font-size="51" dy="-30">2</tspan><tspan dy="30">)</tspan></text>
<g font-family="Liberation Sans, Arial, sans-serif" font-weight="bold" font-size="65.5">
<rect x="357" y="72" width="153" height="8" fill="#EC0A88"/>
<text x="530" y="100" fill="#EC0A88">blank</text>
<rect x="357" y="156" width="153" height="8" fill="#F53C3C"/>
<text transform="translate(530,184) scale(1,1.04)" fill="#F53C3C">20μM</text>
<rect x="357" y="240" width="153" height="8" fill="#EE8029"/>
<text transform="translate(530,268) scale(1,1.04)" fill="#EE8029">40μM</text>
<rect x="357" y="324" width="153" height="8" fill="#E3AD30"/>
<text transform="translate(530,352) scale(1,1.04)" fill="#E3AD30">60μM</text>
<rect x="357" y="408" width="153" height="8" fill="#E3DB33"/>
<text transform="translate(530,436) scale(1,1.04)" fill="#E3DB33">80μM</text>
<rect x="357" y="492" width="153" height="8" fill="#A0E535"/>
<text transform="translate(530,520) scale(1,1.04)" fill="#A0E535">100μM</text>
<rect x="357" y="576" width="153" height="8" fill="#00D400"/>
<text transform="translate(530,604) scale(1,1.04)" fill="#00D400">120μM</text>
<rect x="357" y="660" width="153" height="8" fill="#00D08C"/>
<text transform="translate(530,688) scale(1,1.04)" fill="#00D08C">140μM</text>
<rect x="357" y="744" width="153" height="8" fill="#00C8C8"/>
<text transform="translate(530,772) scale(1,1.04)" fill="#00C8C8">160μM</text>
<rect x="357" y="828" width="153" height="8" fill="#00A0F8"/>
<text transform="translate(530,856) scale(1,1.04)" fill="#00A0F8">180μM</text>
<rect x="357" y="912" width="153" height="8" fill="#2040F8"/>
<text transform="translate(530,940) scale(1,1.04)" fill="#2040F8">200μM</text>
</g>
</svg></body></html>
